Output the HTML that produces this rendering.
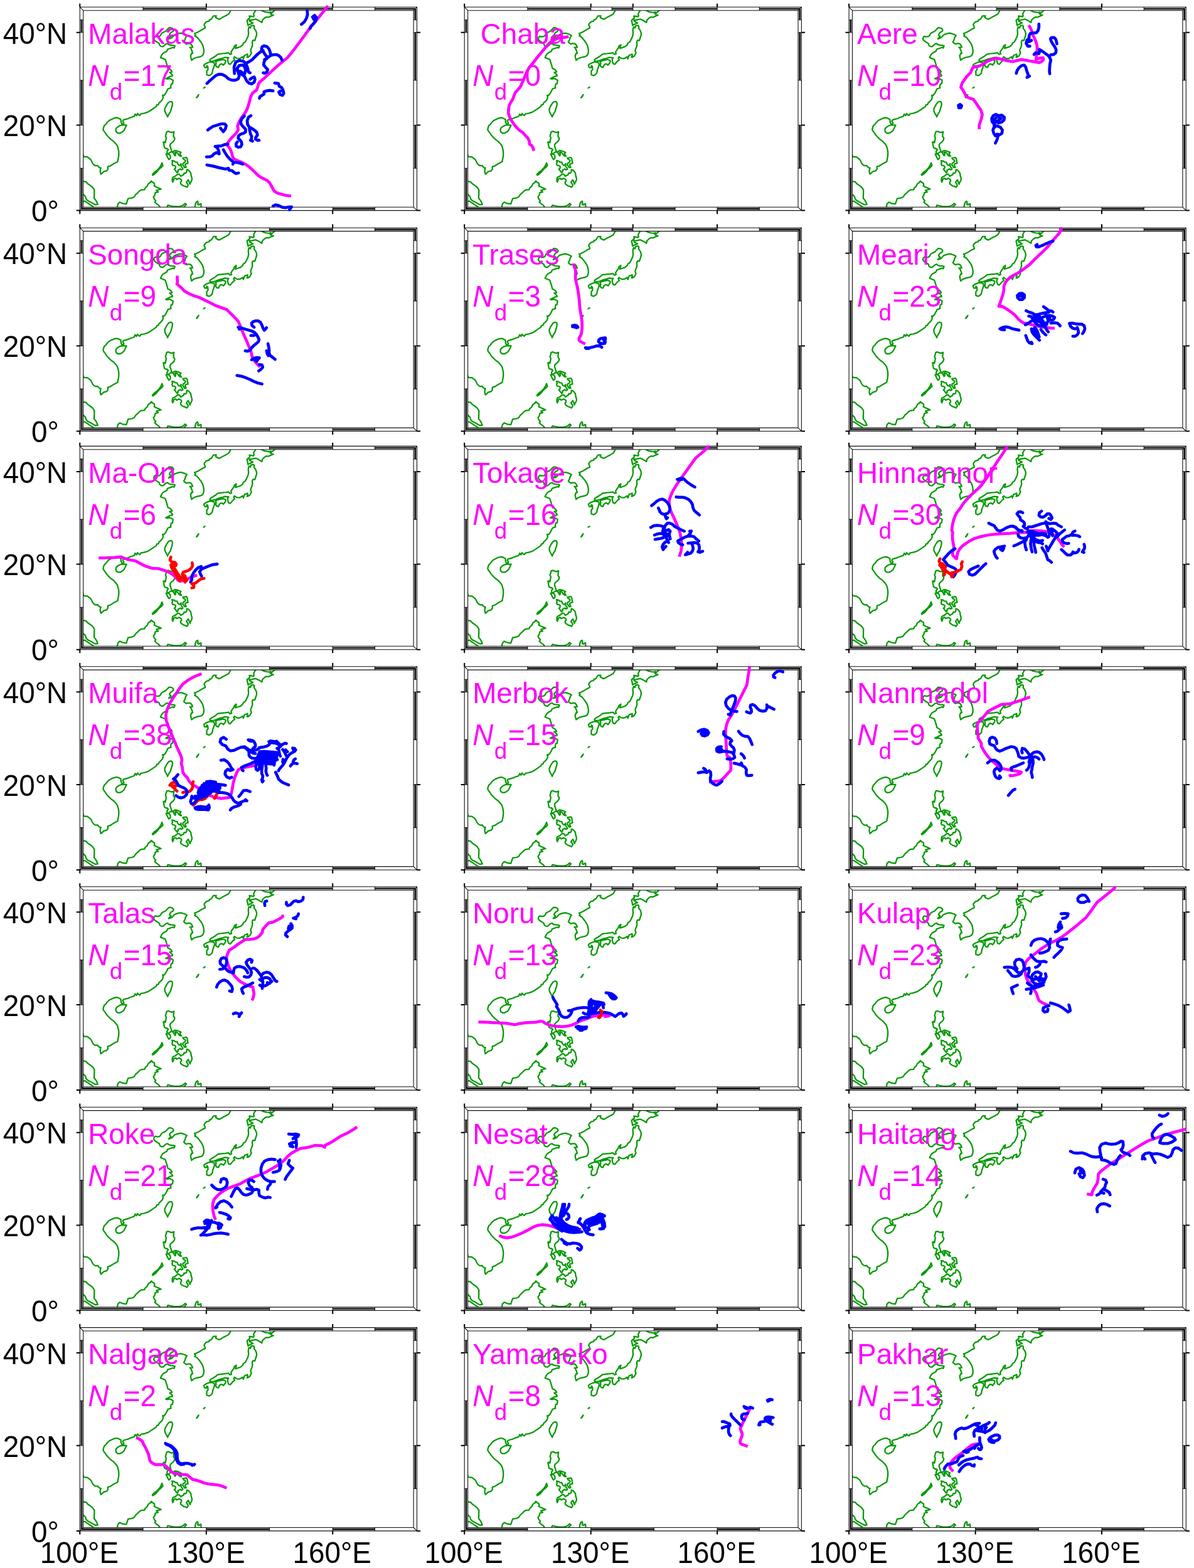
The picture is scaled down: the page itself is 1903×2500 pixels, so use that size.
<!DOCTYPE html>
<html lang="en"><head><meta charset="utf-8"><title>Typhoon tracks and drifter trajectories</title>
<style>
html,body{margin:0;padding:0;background:#fff}
body{width:1903px;height:2500px;overflow:hidden}
svg{display:block}
text{font-family:"Liberation Sans",Arial,Helvetica,sans-serif;font-size:45.8px}
.n{fill:#f0f}
.i{font-style:italic}
.s{font-size:36.7px}
.c{fill:none;stroke:#090;stroke-width:2.25;stroke-linejoin:round;stroke-linecap:round}
.m{fill:none;stroke:#f0f;stroke-width:4.7;stroke-linejoin:round;stroke-linecap:butt}
.b{fill:none;stroke:#00f;stroke-width:4.7;stroke-linejoin:round;stroke-linecap:round}
.r{fill:none;stroke:#f00;stroke-width:4.7;stroke-linejoin:round;stroke-linecap:round}
</style></head>
<body>
<svg xmlns="http://www.w3.org/2000/svg" width="1903" height="2500" viewBox="0 0 1903 2500">
<rect width="1903" height="2500" fill="#fff"/>
<g transform="translate(127.3 11.3)">
<path class="c" d="M104.8 168.7 102.3 169.3 97.3 170.2 95.6 172.7 94 172.2 91.9 169.7 90.2 173.1 88.1 170.6 86.5 174.3 81 176 77.3 177.7 73.1 178.9 69.4 179.9 68.3 181.8 70.2 184.7 69.4 186.2 66.9 186.2 65.6 183.5 65.2 178.9 63.1 178.1 61 176.8 58.1 176.4 54.8 177.1 50.6 178.9 46.5 181 43.5 183.9 41.5 186.8 39 188.9 37.7 192.2 37.1 195.4 38.5 198.1 40.6 200.6 42.3 203.5 45.6 207.2 49 210.6 54 214.3 58.1 218.9 59.8 221.4 61 225.6 61.9 229.7 62.1 234.7 61.5 239.7 60.6 243.9 60.2 246.4 54 249.7 48.1 253.5 45.2 254.1 44.4 254.7 44.8 258.1 42.7 261 38.1 262.2 33.5 266.4 32.3 262.2 32.7 258.5 33.5 256.4 31.5 256 29.4 254.3 28.5 252.7 24.8 252.9 22.3 251.4 20.2 248.9 18.5 245.2 16.9 242.7 13.5 240.2 11.9 238.9 8.1 238.9 5.6 238.1 4.8 233.9M74.4 188.2 71.5 188.1 66.5 188.2 63.1 189.3 59.8 191.4 57.7 193.5 57.3 196.8 58.1 199.3 60.6 201 64 201 67.3 199.3 70.2 196.8 71.9 193.5 73.1 191ZM4.8 277.7 9.8 278.5 12.3 281.4 16.5 284.3 20.2 287.2 23.1 291.4 23 297.2 22.7 304.7 24.8 307.2 26.9 310.6 28.5 314.7 24.8 315.2 21.5 313.5 16.5 310.6 12.3 308.5 9.8 305.6 9 302.2 4.8 298.1M4.8 309.7 8.1 309.3 10.6 311.4 13.1 312.7 15.6 314.7 18.5 316.4 21.5 318.5M59.6 318.9 60.6 313.9 63.5 311 68.1 313.1 74 313.9 76.9 305.2 83.1 304.3 86.5 302.7 89 298.9 92.3 296 95.6 292.7 98.1 291.4 103.1 291 104 288.5 107.3 285.6 109 281.8 111.9 279.7 114 277.2M138.4 198.7 141.2 198 143.7 199.2 146.6 200 148.4 199.2 150 198.7 149.4 202.7 149.2 206.2 151.2 209.1 150.5 212 148.4 214.8 145.5 217 143.9 219.1 143.7 221.6 144.7 224.5 145.5 227.3 146.6 230.2 149.1 230.5 151.2 228.7 154.1 229 157.7 230.2 161.2 231.8 159.4 233.4 160.4 235.9 161.9 237.7 159.8 237.5 157.7 235.9 156.2 233.4 154.8 232 152.8 231.2 151.6 232 152.8 233.4 152.5 236.2 151.6 237 150.2 234.5 148.7 232 146.9 230.9 144.8 231.2 143 232.3 141.9 233.4 140.2 233.7 138.9 232.3 138.9 230.5 139.8 228.7 140.9 227.3 138.9 225.4 138 225.9 136.6 225 134.8 224.1 134.1 220.5 133.4 216.2 133 215.4 134.8 214.8 136.2 216.2 136.9 212.7 137.7 208.4 136.4 205.5 137.3 202.7ZM137.3 234.5 139.8 234.1 141.9 234.8 143.7 236.2 144.4 238.7 144.1 241.2 141.9 243 140.2 240.2 138.7 237ZM130.9 248.4 132.3 252.7 129.8 255.5 126.2 258.4 121.9 263.7 119.1 266.2 116.2 268 115.5 267 118.4 263.7 122.7 260.5 126.2 257 129.1 252.7ZM164.1 240.5 166.9 240.2 169.8 239.8 171.2 242 171.6 245.5 172.3 249.1 169.1 249.8 167.7 251.2 168.7 254.1 169.4 255.5 166.9 255.9 165.5 253.4 164.1 252 164.4 249.1 166.9 247.7 168.4 245.5 167.7 243.7 165.5 243ZM146.9 244.8 150.5 245.5 151.9 247 155.2 247.3 155.9 249.8 157.7 252 159.8 252.3 161.2 249.8 161.2 252.7 161.9 254.8 163.4 256.2 164.1 258.4 161.9 259.5 160.2 258 158 259.1 156.2 260.2 156.6 262 155.2 264.1 153.4 262 151.6 259.5 150.5 258.4 152.3 257 152.7 254.1 150.5 252.7 147.7 252.3 146.9 249.8 147.7 247.7ZM170.5 259.1 172.7 259.8 175.2 262.3 176.9 264.8 177.3 268.4 178.4 272 178.7 274.8 177.7 277.7 176.2 279.8 175.5 282.3 174.4 279.8 173.7 277.3 172.7 275.5 170.9 277.7 169.8 279.5 171.6 281.6 172.7 284.1 171.6 285.9 170.5 287.3 168.4 285.9 165.5 285.2 162.7 283.4 160.9 282 160.5 279.1 161.9 277.7 161.9 275.5 160.2 274.1 158 273 156.2 274.1 154.1 274.8 153.4 273.4 151.6 273 149.8 274.1 149.1 276.6 148 279.1 147.3 277 147.3 274.1 148 271.6 149.8 270.5 152.3 269.5 154.1 267.7 155.9 266.6 157.7 266.2 159.4 267.7 160.9 269.8 162.7 268.4 165.2 267.3 166.2 264.5 168.7 264.8 170.2 263ZM112.3 279.8 114.1 277.7 116.2 279.5 118.7 280.9 119.1 283.4 118.4 285.2 122.7 287.3 126.2 288.7 129.4 290.2 125.5 291.2 121.9 292.3 123.4 293.7 124.8 294.8 120.2 295.9 119.4 299.8 117.3 302.7 118.7 306.2 120.9 308.7 119.4 310.9 121.9 313.4 125.5 315.9 128 319.1M138.9 319.1 140.2 315.9 144.8 317 149.1 317.7 154.1 318 159.1 317.7 162.7 317 165.5 315.2 167.7 313 169.8 314.5 167.7 317 165.5 319.1M183.4 319.1 184.1 314.1 185.5 310.9 187.7 309.5 188.4 312.3 187.7 314.5 189.8 315.5 191.2 314.1 193 313.7 193.2 319.1M139.5 174.5 139.9 175.1M136 83.4 137.7 88.4 139.4 94.2 140.2 97.6 143.1 98.8 145.6 100.9 146.9 103.4 143.1 104.2 145.6 106.3 147.3 108 147.7 109.7 144 110.5 140.6 112.2 136.9 114.1 139.8 114.7 143.1 113.8 146.5 115.5 148.5 116.7 147.7 122.2 145.6 122.6 144.6 127.2 145.2 128.8 142.3 129.7 140.6 130.1 138.5 134.2 136.5 138 134 140.9 131.9 140.5 132.7 144.2 131.5 147.6 128.5 150.9 126.3 152.6 125.2 155.5 122.7 155.9 121.9 158.4 116.5 162.2 111.5 165.5 108.1 167.6 104.8 168.4M144.8 150.5 146.9 151.3 147.7 154.2 146.9 158.4 145.6 162.6 144.4 166.7 141.9 170.5 140.2 174.2 139 173 137.3 170.1 135.6 166.7 135.2 162.6 136.9 158.8 139 155.1 141.5 151.7ZM197.3 129.1 199.4 127.7M186 144.4 187.7 141.7 189.4 139.7M186.9 143.8 188.5 141.7M240.6 3.5 239.8 6.5 237.3 11 233.1 13.5 228.1 16 224.8 18.1 221.9 19.4 218.1 17.7 216.5 16.5 217.3 14 213.1 14 211.5 16 209.8 19 207.7 20.2 206.5 20.2 206 22.3 201.5 23.5 198.5 26.9 198.1 28.5 199.4 31 199.8 33.5 196.5 34.8 193.1 36.9 189 39.4 185.6 41 182.7 41.9 184.4 44.4 183.1 46 187.3 48.5 190.6 52.7 193.1 56 195.6 60.2 196.9 64.4 197.7 69.4 197.3 73.5 195.6 77.3 192.3 79 186.5 80.2 181.5 81.9 178.1 84.8 176.9 80.2 176.5 76.9 178.1 74.8 177.7 74 179.8 73.5 178.5 69.4 176.5 64.8 175.2 64.4 179.8 64 178.5 61 176.5 58.5 174.8 58.1 172.3 58.1 169.8 59 167.3 57.3 165.6 55.6 167.3 52.7 168.5 48.5 170.6 45.2 167.3 43.5 164.8 42.7 161.5 41.6 158.1 41.9 154 43.1 150.6 44.4 148.5 46.9 146.5 49 144 50 141.5 50.6 144 48.1 145.2 46.5 143.1 45.2 143.1 43.1 145.6 40.2 148.1 39 149.4 36.9 147.7 34 144.8 33.1 142.3 32.9 139.8 35.2 136.5 38.7 133.1 40.2 130.2 41.9 128.5 45.2 126.5 46.9 123.1 47.3 120.2 46.5 118.5 48.1 117.7 51 119.4 53.5 123.1 56 126.5 58.1 127.3 61 129.4 62.7 132.3 63.1 134.8 61 136.9 59 139.8 58.1 141.5 59.8 144.8 60.6 149 61 151.5 61.7 150.2 65.2 148.1 64.4 146 65.2 142.3 66.5 139.8 67.3 138.5 70.6 135.6 71.9 132.3 74 130.2 76.9 128.5 80.6 133.1 82.3 136 83.4M280.5 4.6 278 8.7 276.8 11.2 277.6 13.7 276.8 15.4 273 14.6 270.1 14.2 270.9 17.1 268.4 19.2 266.4 21.2 267.2 24.6 268 29.2 270.9 27.5 273.9 26.2 275.9 25.4 273 23.7 270.5 22.5 270.1 20.4 273 20.8 276.4 20 280.5 19.2 284.7 21.2 290.1 24.6 290.9 20.8 294.3 17.5 297.2 15.8 300.5 16.2 303.9 14.6 308.4 12.9 305.5 12.1 303.4 10.4 304.3 7.9 302.2 8.7 298 8.3 293.9 7.5 288.9 5M305.5 9.6 310.9 5M269.7 31.7 271.8 33.3 273 29.6 276.8 29.2 278 30.8 277.6 33.7 280.1 37.1 281.4 40.4 281.8 43.7 280.9 47.1 279.7 50.4 278.9 53.3 275.9 52.9 274.7 55.4 275.1 60.4 273.9 64.6 272.6 67.1 272.2 70 273.4 72.9 272.2 75.4 270.5 78.3 267.6 80 266.4 80 267.6 77.1 267.2 75 264.7 76.2 262.6 76.7 261.8 78.7 260.5 82.5 259.3 79.2 256.4 81.2 253.9 82.1 250.1 81.7 248 80.4 246.4 79.2 245.1 81.2 246.8 84.2 243.9 86.2 241.4 89.2 239.7 91.2 237.2 90.4 235.9 87.1 235.5 82.9 237.2 80.8 231.4 80.2 226.4 81.7 221.4 82.9 217.2 84.6 213.9 85.8 210.5 86.2 207.6 86.2 207.2 84.2 208.9 82.5 212.6 80.4 216.4 77.9 220.1 75 226.4 74.2 232.2 73.6 236.8 72.9 239.3 75.4 241.8 74.6 240.9 71.7 243 68.3 245.5 65 246.4 62.1 249.3 60 248 65.8 251.8 64.6 256.4 62.9 259.7 60 260.5 57.5 263.4 55.8 264.7 53.7 266.4 50 268 46.7 268.9 42.1 268.4 37.1 268.9 33.7ZM216.4 87.1 219.7 85.4 223.9 84.6 228 83.7 231.4 84.6 232.6 86.2 231.4 89.2 228.9 92.5 226.8 90.8 224.3 90.8 222.2 92.9 220.9 96.2 218 95.4 216.4 92.9 217.2 90ZM207.6 87.5 210.5 87.9 213.9 88.7 214.7 92.1 213.4 96.2 211.8 100.4 210.9 105.4 208.4 107.9 205.9 109.2 202.2 107.9 202.2 102.1 204.3 99.2 203.9 94.6 202.2 93.3 202.6 96.2 198.9 96.2 197.6 92.5 200.1 90.4 203.9 88.7Z"/>
<path d="M0 0H537.2 V324.3 H0Z M5.4 5.4 V318.9 H531.8 V5.4Z" fill="#fff" fill-rule="evenodd"/><path d="M2.7 323H100.7M100.7 4.1H201.5M201.5 323H302.2M302.2 4.1H402.9M402.9 323H470.1M470.1 4.1H534.5M1.3 321.6V256.9M533.1 256.9V188.2M1.3 188.2V116.7M533.1 116.7V40.5M1.3 40.5V20.5M533.1 20.5V2.7" stroke="#8c8c8c" stroke-width="1.5" fill="none"/><path d="M2.7 321.3H100.7M100.7 2.4H201.5M201.5 321.3H302.2M302.2 2.4H402.9M402.9 321.3H470.1M470.1 2.4H534.5M3 321.6V256.9M534.8 256.9V188.2M3 188.2V116.7M534.8 116.7V40.5M3 40.5V20.5M534.8 20.5V2.7" stroke="#000" stroke-width="2.1" fill="none"/><path d="M0 0H537.2V324.3H0ZM5.4 5.4H531.8V318.9H5.4ZM0 0L5.4 5.4M537.2 0L531.8 5.4M0 324.3L5.4 318.9M537.2 324.3L531.8 318.9M100.7 0V5.4M100.7 318.9V324.3M201.5 0V5.4M201.5 318.9V324.3M302.2 0V5.4M302.2 318.9V324.3M402.9 0V5.4M402.9 318.9V324.3M470.1 0V5.4M470.1 318.9V324.3M0 256.9H5.4M531.8 256.9H537.2M0 188.2H5.4M531.8 188.2H537.2M0 116.7H5.4M531.8 116.7H537.2M0 40.5H5.4M531.8 40.5H537.2M0 20.5H5.4M531.8 20.5H537.2" stroke="#111" stroke-width="1.1" fill="none"/><path d="M0 -5.6V0M0 324.3V329.9M201.5 -5.6V0M201.5 324.3V329.9M402.9 -5.6V0M402.9 324.3V329.9M-5.6 324.3H0M537.2 324.3H542.8M-5.6 188.2H0M537.2 188.2H542.8M-5.6 40.5H0M537.2 40.5H542.8" stroke="#000" stroke-width="2" fill="none"/>
<path class="m" d="M395.4 -2 389.1 5.9 381.3 15.7 373.4 24.9 365.6 34.7 357.7 45.8 349.8 56.3 342 66.8 335.4 75.3 330.2 81.2 323.7 86.4 315.8 93 307.9 100.2 300.1 107.4 293.5 113.9 287.6 118.5 285 121.8 283.7 126.4 281.7 132.3 277.8 134.9 274.5 138.2 271.9 144.1 270 151.9 268 158.5 266 163.7M266.3 163.4 262.1 170.5 258.2 175.7 254.9 181 252.3 186.2 251.4 190.1 252.3 195.4 250.3 199.3 246.4 203.9 242.5 207.8 238.5 212.4 235.3 217 234.6 220.2 237.2 222.9 239.8 226.8 241.8 232 243.1 237.3 245.1 241.9 249 243.8 254.2 245.8 259.5 248.4 264.7 251 270 254.9 275.2 259.5 279.8 264.1 284.4 268.7 289.6 272 294.8 274.6 298.8 276.6 302 279.8 305.3 285.1 307.9 290.3 310.6 294.2 315.8 296.9 322.3 298.6 328.9 300.4 336.7 301.2"/>
<path class="b" d="M202.5 121.8 205.8 118.5 211 113.9 216.3 109.4 221.5 107.1 226.7 107.4 232 110 237.2 114.6 242.5 116.6 247.7 116.6 252.3 114.6 254 110 252.3 103.5 249.7 99.5M246.4 106.1 245.7 95.6 248.4 87.7 254.2 85.1 260.8 86.4 264.7 90.4 267.3 96.9 268.7 103.5 271.3 104.8M251.6 102.2 251 96.9 254.2 93 259.5 92.3 262.8 95.6 264.1 100.8 262.8 106.1 259.5 104.8 255.6 102.2 258.2 107.4 262.1 110M263.4 89.7 268.7 87.7 273.9 84.5 279.1 79.2 284.4 74 288.9 70.7 292.2 69.4M290.9 68.8 289.6 66.8 290.3 63.5 293.5 61.6 298.1 62.9 301.4 66.8 303.4 72 304 77.3 300.1 79.9 296.2 77.3 292.9 72 290.9 68.8M304 77.3 307.9 76 313.2 75.7 317.1 77.3 320.4 80.5 322.1 84.5M294.2 83.8 297.5 82.5 300.1 79.9M296.2 82.5 293.5 87.7 292.9 92.3 296.2 96.3 299.4 99.5 298.1 103.5 294.8 105.4 292.2 104.8M264.1 113.9 266 117.9 269.3 121.1 273.9 122.5 277.8 119.8 279.1 115.2 277.8 111.3 274.5 112.6 271.3 115.2M262.1 110 264.1 113.9M362.3 5.9 362.9 11.8 361 18.3 357.7 23.6 353.1 27.5M366.9 34.1 368.2 30.8 372.1 26.9 376 22.3 377.3 17 374.1 13.1 370.8 15.7 373.4 20.3 376.7 19.7M310.6 121.1 316.4 121.8 317.8 126.4 321.7 128.3 323.7 132.3 325 137.5 323 140.8 319.1 139.5 317.1 135.5 320.4 133.6M286.3 145.4 287 142.7 290.3 140.8 293.5 138.8 293.5 134.9 297.5 133.6 302.7 132.9 307.9 133.6M203.8 196 207.1 193.4 212.3 190.1 218.9 188.2 225.4 186.2 230.7 186.2 233.3 188.8 232 194.1 228.7 198.6 225.4 194.7 224.1 193M262.1 173.8 258.2 177.7 256.2 182.9 257.5 187.5 260.8 191.4 264.1 194.7 264.1 199.3 260.8 201.3 256.2 202.6 252.9 205.2 252.3 209.1 254.9 211.7 257.5 215 258.2 218.9 256.2 222.9 252.3 223.5 249 221.6 249 217.6 251 215M272.6 173.1 268.7 175.7 266.7 181 267.3 186.9 270 191.4 273.9 193.4 277.8 196 281.7 199.3 283.1 203.9 280.4 207.8 279.8 210.4 283.1 212.4 285.7 212.4M270 191.4 270.6 196.7 271.9 201.9 273.9 206.5 273.2 211.1 271.9 212.4 275.2 213.7M215.6 222.2 220.2 221.6 225.4 221.3 230.7 219.2 235.9 218.3M215.6 222.2 218.9 224.2 220.9 228.1 222.2 234 217.6 232 213.7 234 211 237.3 207.1 238.6 201.9 238.8M228.7 227.4 231.3 232 234.6 237.3 239.2 242.5 245.1 247.7 243.8 250.4M245.1 247.7 250.3 247.7 255.6 248.8 259.5 250.4M202.5 251.7 212.3 253.6 222.8 256.3 232 258.2 236.6 256.9 237.9 260.2 242.5 260.8 246.4 264.1 249 265.4 252.9 264.5M307.9 317.2 311.9 315.2 317.1 316.5 322.3 319.1 327.6 319.8 332.8 318.7 337.4 318.5 334.1 323"/>
<text class="n" x="13" y="58.4">Malakas</text>
<text class="n i" transform="translate(13 125.5) scale(1 1.04)">N</text><text class="n s" x="47.5" y="147.6">d</text><text class="n" transform="translate(69.5 125.5) scale(1 1.04)">=17</text>
</g>
<g transform="translate(740.2 11.3)">
<path class="c" d="M104.8 168.7 102.3 169.3 97.3 170.2 95.6 172.7 94 172.2 91.9 169.7 90.2 173.1 88.1 170.6 86.5 174.3 81 176 77.3 177.7 73.1 178.9 69.4 179.9 68.3 181.8 70.2 184.7 69.4 186.2 66.9 186.2 65.6 183.5 65.2 178.9 63.1 178.1 61 176.8 58.1 176.4 54.8 177.1 50.6 178.9 46.5 181 43.5 183.9 41.5 186.8 39 188.9 37.7 192.2 37.1 195.4 38.5 198.1 40.6 200.6 42.3 203.5 45.6 207.2 49 210.6 54 214.3 58.1 218.9 59.8 221.4 61 225.6 61.9 229.7 62.1 234.7 61.5 239.7 60.6 243.9 60.2 246.4 54 249.7 48.1 253.5 45.2 254.1 44.4 254.7 44.8 258.1 42.7 261 38.1 262.2 33.5 266.4 32.3 262.2 32.7 258.5 33.5 256.4 31.5 256 29.4 254.3 28.5 252.7 24.8 252.9 22.3 251.4 20.2 248.9 18.5 245.2 16.9 242.7 13.5 240.2 11.9 238.9 8.1 238.9 5.6 238.1 4.8 233.9M74.4 188.2 71.5 188.1 66.5 188.2 63.1 189.3 59.8 191.4 57.7 193.5 57.3 196.8 58.1 199.3 60.6 201 64 201 67.3 199.3 70.2 196.8 71.9 193.5 73.1 191ZM4.8 277.7 9.8 278.5 12.3 281.4 16.5 284.3 20.2 287.2 23.1 291.4 23 297.2 22.7 304.7 24.8 307.2 26.9 310.6 28.5 314.7 24.8 315.2 21.5 313.5 16.5 310.6 12.3 308.5 9.8 305.6 9 302.2 4.8 298.1M4.8 309.7 8.1 309.3 10.6 311.4 13.1 312.7 15.6 314.7 18.5 316.4 21.5 318.5M59.6 318.9 60.6 313.9 63.5 311 68.1 313.1 74 313.9 76.9 305.2 83.1 304.3 86.5 302.7 89 298.9 92.3 296 95.6 292.7 98.1 291.4 103.1 291 104 288.5 107.3 285.6 109 281.8 111.9 279.7 114 277.2M138.4 198.7 141.2 198 143.7 199.2 146.6 200 148.4 199.2 150 198.7 149.4 202.7 149.2 206.2 151.2 209.1 150.5 212 148.4 214.8 145.5 217 143.9 219.1 143.7 221.6 144.7 224.5 145.5 227.3 146.6 230.2 149.1 230.5 151.2 228.7 154.1 229 157.7 230.2 161.2 231.8 159.4 233.4 160.4 235.9 161.9 237.7 159.8 237.5 157.7 235.9 156.2 233.4 154.8 232 152.8 231.2 151.6 232 152.8 233.4 152.5 236.2 151.6 237 150.2 234.5 148.7 232 146.9 230.9 144.8 231.2 143 232.3 141.9 233.4 140.2 233.7 138.9 232.3 138.9 230.5 139.8 228.7 140.9 227.3 138.9 225.4 138 225.9 136.6 225 134.8 224.1 134.1 220.5 133.4 216.2 133 215.4 134.8 214.8 136.2 216.2 136.9 212.7 137.7 208.4 136.4 205.5 137.3 202.7ZM137.3 234.5 139.8 234.1 141.9 234.8 143.7 236.2 144.4 238.7 144.1 241.2 141.9 243 140.2 240.2 138.7 237ZM130.9 248.4 132.3 252.7 129.8 255.5 126.2 258.4 121.9 263.7 119.1 266.2 116.2 268 115.5 267 118.4 263.7 122.7 260.5 126.2 257 129.1 252.7ZM164.1 240.5 166.9 240.2 169.8 239.8 171.2 242 171.6 245.5 172.3 249.1 169.1 249.8 167.7 251.2 168.7 254.1 169.4 255.5 166.9 255.9 165.5 253.4 164.1 252 164.4 249.1 166.9 247.7 168.4 245.5 167.7 243.7 165.5 243ZM146.9 244.8 150.5 245.5 151.9 247 155.2 247.3 155.9 249.8 157.7 252 159.8 252.3 161.2 249.8 161.2 252.7 161.9 254.8 163.4 256.2 164.1 258.4 161.9 259.5 160.2 258 158 259.1 156.2 260.2 156.6 262 155.2 264.1 153.4 262 151.6 259.5 150.5 258.4 152.3 257 152.7 254.1 150.5 252.7 147.7 252.3 146.9 249.8 147.7 247.7ZM170.5 259.1 172.7 259.8 175.2 262.3 176.9 264.8 177.3 268.4 178.4 272 178.7 274.8 177.7 277.7 176.2 279.8 175.5 282.3 174.4 279.8 173.7 277.3 172.7 275.5 170.9 277.7 169.8 279.5 171.6 281.6 172.7 284.1 171.6 285.9 170.5 287.3 168.4 285.9 165.5 285.2 162.7 283.4 160.9 282 160.5 279.1 161.9 277.7 161.9 275.5 160.2 274.1 158 273 156.2 274.1 154.1 274.8 153.4 273.4 151.6 273 149.8 274.1 149.1 276.6 148 279.1 147.3 277 147.3 274.1 148 271.6 149.8 270.5 152.3 269.5 154.1 267.7 155.9 266.6 157.7 266.2 159.4 267.7 160.9 269.8 162.7 268.4 165.2 267.3 166.2 264.5 168.7 264.8 170.2 263ZM112.3 279.8 114.1 277.7 116.2 279.5 118.7 280.9 119.1 283.4 118.4 285.2 122.7 287.3 126.2 288.7 129.4 290.2 125.5 291.2 121.9 292.3 123.4 293.7 124.8 294.8 120.2 295.9 119.4 299.8 117.3 302.7 118.7 306.2 120.9 308.7 119.4 310.9 121.9 313.4 125.5 315.9 128 319.1M138.9 319.1 140.2 315.9 144.8 317 149.1 317.7 154.1 318 159.1 317.7 162.7 317 165.5 315.2 167.7 313 169.8 314.5 167.7 317 165.5 319.1M183.4 319.1 184.1 314.1 185.5 310.9 187.7 309.5 188.4 312.3 187.7 314.5 189.8 315.5 191.2 314.1 193 313.7 193.2 319.1M139.5 174.5 139.9 175.1M136 83.4 137.7 88.4 139.4 94.2 140.2 97.6 143.1 98.8 145.6 100.9 146.9 103.4 143.1 104.2 145.6 106.3 147.3 108 147.7 109.7 144 110.5 140.6 112.2 136.9 114.1 139.8 114.7 143.1 113.8 146.5 115.5 148.5 116.7 147.7 122.2 145.6 122.6 144.6 127.2 145.2 128.8 142.3 129.7 140.6 130.1 138.5 134.2 136.5 138 134 140.9 131.9 140.5 132.7 144.2 131.5 147.6 128.5 150.9 126.3 152.6 125.2 155.5 122.7 155.9 121.9 158.4 116.5 162.2 111.5 165.5 108.1 167.6 104.8 168.4M144.8 150.5 146.9 151.3 147.7 154.2 146.9 158.4 145.6 162.6 144.4 166.7 141.9 170.5 140.2 174.2 139 173 137.3 170.1 135.6 166.7 135.2 162.6 136.9 158.8 139 155.1 141.5 151.7ZM197.3 129.1 199.4 127.7M186 144.4 187.7 141.7 189.4 139.7M186.9 143.8 188.5 141.7M240.6 3.5 239.8 6.5 237.3 11 233.1 13.5 228.1 16 224.8 18.1 221.9 19.4 218.1 17.7 216.5 16.5 217.3 14 213.1 14 211.5 16 209.8 19 207.7 20.2 206.5 20.2 206 22.3 201.5 23.5 198.5 26.9 198.1 28.5 199.4 31 199.8 33.5 196.5 34.8 193.1 36.9 189 39.4 185.6 41 182.7 41.9 184.4 44.4 183.1 46 187.3 48.5 190.6 52.7 193.1 56 195.6 60.2 196.9 64.4 197.7 69.4 197.3 73.5 195.6 77.3 192.3 79 186.5 80.2 181.5 81.9 178.1 84.8 176.9 80.2 176.5 76.9 178.1 74.8 177.7 74 179.8 73.5 178.5 69.4 176.5 64.8 175.2 64.4 179.8 64 178.5 61 176.5 58.5 174.8 58.1 172.3 58.1 169.8 59 167.3 57.3 165.6 55.6 167.3 52.7 168.5 48.5 170.6 45.2 167.3 43.5 164.8 42.7 161.5 41.6 158.1 41.9 154 43.1 150.6 44.4 148.5 46.9 146.5 49 144 50 141.5 50.6 144 48.1 145.2 46.5 143.1 45.2 143.1 43.1 145.6 40.2 148.1 39 149.4 36.9 147.7 34 144.8 33.1 142.3 32.9 139.8 35.2 136.5 38.7 133.1 40.2 130.2 41.9 128.5 45.2 126.5 46.9 123.1 47.3 120.2 46.5 118.5 48.1 117.7 51 119.4 53.5 123.1 56 126.5 58.1 127.3 61 129.4 62.7 132.3 63.1 134.8 61 136.9 59 139.8 58.1 141.5 59.8 144.8 60.6 149 61 151.5 61.7 150.2 65.2 148.1 64.4 146 65.2 142.3 66.5 139.8 67.3 138.5 70.6 135.6 71.9 132.3 74 130.2 76.9 128.5 80.6 133.1 82.3 136 83.4M280.5 4.6 278 8.7 276.8 11.2 277.6 13.7 276.8 15.4 273 14.6 270.1 14.2 270.9 17.1 268.4 19.2 266.4 21.2 267.2 24.6 268 29.2 270.9 27.5 273.9 26.2 275.9 25.4 273 23.7 270.5 22.5 270.1 20.4 273 20.8 276.4 20 280.5 19.2 284.7 21.2 290.1 24.6 290.9 20.8 294.3 17.5 297.2 15.8 300.5 16.2 303.9 14.6 308.4 12.9 305.5 12.1 303.4 10.4 304.3 7.9 302.2 8.7 298 8.3 293.9 7.5 288.9 5M305.5 9.6 310.9 5M269.7 31.7 271.8 33.3 273 29.6 276.8 29.2 278 30.8 277.6 33.7 280.1 37.1 281.4 40.4 281.8 43.7 280.9 47.1 279.7 50.4 278.9 53.3 275.9 52.9 274.7 55.4 275.1 60.4 273.9 64.6 272.6 67.1 272.2 70 273.4 72.9 272.2 75.4 270.5 78.3 267.6 80 266.4 80 267.6 77.1 267.2 75 264.7 76.2 262.6 76.7 261.8 78.7 260.5 82.5 259.3 79.2 256.4 81.2 253.9 82.1 250.1 81.7 248 80.4 246.4 79.2 245.1 81.2 246.8 84.2 243.9 86.2 241.4 89.2 239.7 91.2 237.2 90.4 235.9 87.1 235.5 82.9 237.2 80.8 231.4 80.2 226.4 81.7 221.4 82.9 217.2 84.6 213.9 85.8 210.5 86.2 207.6 86.2 207.2 84.2 208.9 82.5 212.6 80.4 216.4 77.9 220.1 75 226.4 74.2 232.2 73.6 236.8 72.9 239.3 75.4 241.8 74.6 240.9 71.7 243 68.3 245.5 65 246.4 62.1 249.3 60 248 65.8 251.8 64.6 256.4 62.9 259.7 60 260.5 57.5 263.4 55.8 264.7 53.7 266.4 50 268 46.7 268.9 42.1 268.4 37.1 268.9 33.7ZM216.4 87.1 219.7 85.4 223.9 84.6 228 83.7 231.4 84.6 232.6 86.2 231.4 89.2 228.9 92.5 226.8 90.8 224.3 90.8 222.2 92.9 220.9 96.2 218 95.4 216.4 92.9 217.2 90ZM207.6 87.5 210.5 87.9 213.9 88.7 214.7 92.1 213.4 96.2 211.8 100.4 210.9 105.4 208.4 107.9 205.9 109.2 202.2 107.9 202.2 102.1 204.3 99.2 203.9 94.6 202.2 93.3 202.6 96.2 198.9 96.2 197.6 92.5 200.1 90.4 203.9 88.7Z"/>
<path d="M0 0H537.2 V324.3 H0Z M5.4 5.4 V318.9 H531.8 V5.4Z" fill="#fff" fill-rule="evenodd"/><path d="M2.7 323H100.7M100.7 4.1H201.5M201.5 323H235M235 4.1H268.6M268.6 323H335.8M335.8 4.1H402.9M402.9 323H470.1M470.1 4.1H534.5M1.3 321.6V256.9M533.1 256.9V188.2M1.3 188.2V116.7M533.1 116.7V40.5M1.3 40.5V20.5M533.1 20.5V2.7" stroke="#8c8c8c" stroke-width="1.5" fill="none"/><path d="M2.7 321.3H100.7M100.7 2.4H201.5M201.5 321.3H235M235 2.4H268.6M268.6 321.3H335.8M335.8 2.4H402.9M402.9 321.3H470.1M470.1 2.4H534.5M3 321.6V256.9M534.8 256.9V188.2M3 188.2V116.7M534.8 116.7V40.5M3 40.5V20.5M534.8 20.5V2.7" stroke="#000" stroke-width="2.1" fill="none"/><path d="M0 0H537.2V324.3H0ZM5.4 5.4H531.8V318.9H5.4ZM0 0L5.4 5.4M537.2 0L531.8 5.4M0 324.3L5.4 318.9M537.2 324.3L531.8 318.9M100.7 0V5.4M100.7 318.9V324.3M201.5 0V5.4M201.5 318.9V324.3M235 0V5.4M235 318.9V324.3M268.6 0V5.4M268.6 318.9V324.3M335.8 0V5.4M335.8 318.9V324.3M402.9 0V5.4M402.9 318.9V324.3M470.1 0V5.4M470.1 318.9V324.3M0 256.9H5.4M531.8 256.9H537.2M0 188.2H5.4M531.8 188.2H537.2M0 116.7H5.4M531.8 116.7H537.2M0 40.5H5.4M531.8 40.5H537.2M0 20.5H5.4M531.8 20.5H537.2" stroke="#111" stroke-width="1.1" fill="none"/><path d="M0 -5.6V0M0 324.3V329.9M201.5 -5.6V0M201.5 324.3V329.9M268.6 -5.6V0M268.6 324.3V329.9M402.9 -5.6V0M402.9 324.3V329.9M-5.6 324.3H0M537.2 324.3H542.8M-5.6 188.2H0M537.2 188.2H542.8M-5.6 40.5H0M537.2 40.5H542.8" stroke="#000" stroke-width="2" fill="none"/>
<path class="m" d="M166.1 47.4 156.9 48.5 147.8 50 139.9 53.7 134.7 58.3 129.4 64.2 122.9 72 116.3 79.9 109.8 88.4 103.3 96.3 99.3 103.5 96 111.3 92.8 119.2 89.5 126.4 84.9 132.3 81 136.2 79 141.4 77.1 146.7 73.8 151.9 71.2 157.2 70.5 162.4 69.9 168.3 71.6 174.2 74.4 180.1 78.4 186 83 191.9 87.5 196.4 92.8 199.7 96.7 204.3 100.6 208.2 103.3 213.5 103.9 218.7 107.2 220.7 109.1 223.9 110.8 229.2"/>
<text class="n" x="25.5" y="58.4">Chaba</text>
<text class="n i" transform="translate(13 125.5) scale(1 1.04)">N</text><text class="n s" x="47.5" y="147.6">d</text><text class="n" transform="translate(69.5 125.5) scale(1 1.04)">=0</text>
</g>
<g transform="translate(1353.1 11.3)">
<path class="c" d="M104.8 168.7 102.3 169.3 97.3 170.2 95.6 172.7 94 172.2 91.9 169.7 90.2 173.1 88.1 170.6 86.5 174.3 81 176 77.3 177.7 73.1 178.9 69.4 179.9 68.3 181.8 70.2 184.7 69.4 186.2 66.9 186.2 65.6 183.5 65.2 178.9 63.1 178.1 61 176.8 58.1 176.4 54.8 177.1 50.6 178.9 46.5 181 43.5 183.9 41.5 186.8 39 188.9 37.7 192.2 37.1 195.4 38.5 198.1 40.6 200.6 42.3 203.5 45.6 207.2 49 210.6 54 214.3 58.1 218.9 59.8 221.4 61 225.6 61.9 229.7 62.1 234.7 61.5 239.7 60.6 243.9 60.2 246.4 54 249.7 48.1 253.5 45.2 254.1 44.4 254.7 44.8 258.1 42.7 261 38.1 262.2 33.5 266.4 32.3 262.2 32.7 258.5 33.5 256.4 31.5 256 29.4 254.3 28.5 252.7 24.8 252.9 22.3 251.4 20.2 248.9 18.5 245.2 16.9 242.7 13.5 240.2 11.9 238.9 8.1 238.9 5.6 238.1 4.8 233.9M74.4 188.2 71.5 188.1 66.5 188.2 63.1 189.3 59.8 191.4 57.7 193.5 57.3 196.8 58.1 199.3 60.6 201 64 201 67.3 199.3 70.2 196.8 71.9 193.5 73.1 191ZM4.8 277.7 9.8 278.5 12.3 281.4 16.5 284.3 20.2 287.2 23.1 291.4 23 297.2 22.7 304.7 24.8 307.2 26.9 310.6 28.5 314.7 24.8 315.2 21.5 313.5 16.5 310.6 12.3 308.5 9.8 305.6 9 302.2 4.8 298.1M4.8 309.7 8.1 309.3 10.6 311.4 13.1 312.7 15.6 314.7 18.5 316.4 21.5 318.5M59.6 318.9 60.6 313.9 63.5 311 68.1 313.1 74 313.9 76.9 305.2 83.1 304.3 86.5 302.7 89 298.9 92.3 296 95.6 292.7 98.1 291.4 103.1 291 104 288.5 107.3 285.6 109 281.8 111.9 279.7 114 277.2M138.4 198.7 141.2 198 143.7 199.2 146.6 200 148.4 199.2 150 198.7 149.4 202.7 149.2 206.2 151.2 209.1 150.5 212 148.4 214.8 145.5 217 143.9 219.1 143.7 221.6 144.7 224.5 145.5 227.3 146.6 230.2 149.1 230.5 151.2 228.7 154.1 229 157.7 230.2 161.2 231.8 159.4 233.4 160.4 235.9 161.9 237.7 159.8 237.5 157.7 235.9 156.2 233.4 154.8 232 152.8 231.2 151.6 232 152.8 233.4 152.5 236.2 151.6 237 150.2 234.5 148.7 232 146.9 230.9 144.8 231.2 143 232.3 141.9 233.4 140.2 233.7 138.9 232.3 138.9 230.5 139.8 228.7 140.9 227.3 138.9 225.4 138 225.9 136.6 225 134.8 224.1 134.1 220.5 133.4 216.2 133 215.4 134.8 214.8 136.2 216.2 136.9 212.7 137.7 208.4 136.4 205.5 137.3 202.7ZM137.3 234.5 139.8 234.1 141.9 234.8 143.7 236.2 144.4 238.7 144.1 241.2 141.9 243 140.2 240.2 138.7 237ZM130.9 248.4 132.3 252.7 129.8 255.5 126.2 258.4 121.9 263.7 119.1 266.2 116.2 268 115.5 267 118.4 263.7 122.7 260.5 126.2 257 129.1 252.7ZM164.1 240.5 166.9 240.2 169.8 239.8 171.2 242 171.6 245.5 172.3 249.1 169.1 249.8 167.7 251.2 168.7 254.1 169.4 255.5 166.9 255.9 165.5 253.4 164.1 252 164.4 249.1 166.9 247.7 168.4 245.5 167.7 243.7 165.5 243ZM146.9 244.8 150.5 245.5 151.9 247 155.2 247.3 155.9 249.8 157.7 252 159.8 252.3 161.2 249.8 161.2 252.7 161.9 254.8 163.4 256.2 164.1 258.4 161.9 259.5 160.2 258 158 259.1 156.2 260.2 156.6 262 155.2 264.1 153.4 262 151.6 259.5 150.5 258.4 152.3 257 152.7 254.1 150.5 252.7 147.7 252.3 146.9 249.8 147.7 247.7ZM170.5 259.1 172.7 259.8 175.2 262.3 176.9 264.8 177.3 268.4 178.4 272 178.7 274.8 177.7 277.7 176.2 279.8 175.5 282.3 174.4 279.8 173.7 277.3 172.7 275.5 170.9 277.7 169.8 279.5 171.6 281.6 172.7 284.1 171.6 285.9 170.5 287.3 168.4 285.9 165.5 285.2 162.7 283.4 160.9 282 160.5 279.1 161.9 277.7 161.9 275.5 160.2 274.1 158 273 156.2 274.1 154.1 274.8 153.4 273.4 151.6 273 149.8 274.1 149.1 276.6 148 279.1 147.3 277 147.3 274.1 148 271.6 149.8 270.5 152.3 269.5 154.1 267.7 155.9 266.6 157.7 266.2 159.4 267.7 160.9 269.8 162.7 268.4 165.2 267.3 166.2 264.5 168.7 264.8 170.2 263ZM112.3 279.8 114.1 277.7 116.2 279.5 118.7 280.9 119.1 283.4 118.4 285.2 122.7 287.3 126.2 288.7 129.4 290.2 125.5 291.2 121.9 292.3 123.4 293.7 124.8 294.8 120.2 295.9 119.4 299.8 117.3 302.7 118.7 306.2 120.9 308.7 119.4 310.9 121.9 313.4 125.5 315.9 128 319.1M138.9 319.1 140.2 315.9 144.8 317 149.1 317.7 154.1 318 159.1 317.7 162.7 317 165.5 315.2 167.7 313 169.8 314.5 167.7 317 165.5 319.1M183.4 319.1 184.1 314.1 185.5 310.9 187.7 309.5 188.4 312.3 187.7 314.5 189.8 315.5 191.2 314.1 193 313.7 193.2 319.1M139.5 174.5 139.9 175.1M136 83.4 137.7 88.4 139.4 94.2 140.2 97.6 143.1 98.8 145.6 100.9 146.9 103.4 143.1 104.2 145.6 106.3 147.3 108 147.7 109.7 144 110.5 140.6 112.2 136.9 114.1 139.8 114.7 143.1 113.8 146.5 115.5 148.5 116.7 147.7 122.2 145.6 122.6 144.6 127.2 145.2 128.8 142.3 129.7 140.6 130.1 138.5 134.2 136.5 138 134 140.9 131.9 140.5 132.7 144.2 131.5 147.6 128.5 150.9 126.3 152.6 125.2 155.5 122.7 155.9 121.9 158.4 116.5 162.2 111.5 165.5 108.1 167.6 104.8 168.4M144.8 150.5 146.9 151.3 147.7 154.2 146.9 158.4 145.6 162.6 144.4 166.7 141.9 170.5 140.2 174.2 139 173 137.3 170.1 135.6 166.7 135.2 162.6 136.9 158.8 139 155.1 141.5 151.7ZM197.3 129.1 199.4 127.7M186 144.4 187.7 141.7 189.4 139.7M186.9 143.8 188.5 141.7M240.6 3.5 239.8 6.5 237.3 11 233.1 13.5 228.1 16 224.8 18.1 221.9 19.4 218.1 17.7 216.5 16.5 217.3 14 213.1 14 211.5 16 209.8 19 207.7 20.2 206.5 20.2 206 22.3 201.5 23.5 198.5 26.9 198.1 28.5 199.4 31 199.8 33.5 196.5 34.8 193.1 36.9 189 39.4 185.6 41 182.7 41.9 184.4 44.4 183.1 46 187.3 48.5 190.6 52.7 193.1 56 195.6 60.2 196.9 64.4 197.7 69.4 197.3 73.5 195.6 77.3 192.3 79 186.5 80.2 181.5 81.9 178.1 84.8 176.9 80.2 176.5 76.9 178.1 74.8 177.7 74 179.8 73.5 178.5 69.4 176.5 64.8 175.2 64.4 179.8 64 178.5 61 176.5 58.5 174.8 58.1 172.3 58.1 169.8 59 167.3 57.3 165.6 55.6 167.3 52.7 168.5 48.5 170.6 45.2 167.3 43.5 164.8 42.7 161.5 41.6 158.1 41.9 154 43.1 150.6 44.4 148.5 46.9 146.5 49 144 50 141.5 50.6 144 48.1 145.2 46.5 143.1 45.2 143.1 43.1 145.6 40.2 148.1 39 149.4 36.9 147.7 34 144.8 33.1 142.3 32.9 139.8 35.2 136.5 38.7 133.1 40.2 130.2 41.9 128.5 45.2 126.5 46.9 123.1 47.3 120.2 46.5 118.5 48.1 117.7 51 119.4 53.5 123.1 56 126.5 58.1 127.3 61 129.4 62.7 132.3 63.1 134.8 61 136.9 59 139.8 58.1 141.5 59.8 144.8 60.6 149 61 151.5 61.7 150.2 65.2 148.1 64.4 146 65.2 142.3 66.5 139.8 67.3 138.5 70.6 135.6 71.9 132.3 74 130.2 76.9 128.5 80.6 133.1 82.3 136 83.4M280.5 4.6 278 8.7 276.8 11.2 277.6 13.7 276.8 15.4 273 14.6 270.1 14.2 270.9 17.1 268.4 19.2 266.4 21.2 267.2 24.6 268 29.2 270.9 27.5 273.9 26.2 275.9 25.4 273 23.7 270.5 22.5 270.1 20.4 273 20.8 276.4 20 280.5 19.2 284.7 21.2 290.1 24.6 290.9 20.8 294.3 17.5 297.2 15.8 300.5 16.2 303.9 14.6 308.4 12.9 305.5 12.1 303.4 10.4 304.3 7.9 302.2 8.7 298 8.3 293.9 7.5 288.9 5M305.5 9.6 310.9 5M269.7 31.7 271.8 33.3 273 29.6 276.8 29.2 278 30.8 277.6 33.7 280.1 37.1 281.4 40.4 281.8 43.7 280.9 47.1 279.7 50.4 278.9 53.3 275.9 52.9 274.7 55.4 275.1 60.4 273.9 64.6 272.6 67.1 272.2 70 273.4 72.9 272.2 75.4 270.5 78.3 267.6 80 266.4 80 267.6 77.1 267.2 75 264.7 76.2 262.6 76.7 261.8 78.7 260.5 82.5 259.3 79.2 256.4 81.2 253.9 82.1 250.1 81.7 248 80.4 246.4 79.2 245.1 81.2 246.8 84.2 243.9 86.2 241.4 89.2 239.7 91.2 237.2 90.4 235.9 87.1 235.5 82.9 237.2 80.8 231.4 80.2 226.4 81.7 221.4 82.9 217.2 84.6 213.9 85.8 210.5 86.2 207.6 86.2 207.2 84.2 208.9 82.5 212.6 80.4 216.4 77.9 220.1 75 226.4 74.2 232.2 73.6 236.8 72.9 239.3 75.4 241.8 74.6 240.9 71.7 243 68.3 245.5 65 246.4 62.1 249.3 60 248 65.8 251.8 64.6 256.4 62.9 259.7 60 260.5 57.5 263.4 55.8 264.7 53.7 266.4 50 268 46.7 268.9 42.1 268.4 37.1 268.9 33.7ZM216.4 87.1 219.7 85.4 223.9 84.6 228 83.7 231.4 84.6 232.6 86.2 231.4 89.2 228.9 92.5 226.8 90.8 224.3 90.8 222.2 92.9 220.9 96.2 218 95.4 216.4 92.9 217.2 90ZM207.6 87.5 210.5 87.9 213.9 88.7 214.7 92.1 213.4 96.2 211.8 100.4 210.9 105.4 208.4 107.9 205.9 109.2 202.2 107.9 202.2 102.1 204.3 99.2 203.9 94.6 202.2 93.3 202.6 96.2 198.9 96.2 197.6 92.5 200.1 90.4 203.9 88.7Z"/>
<path d="M0 0H537.2 V324.3 H0Z M5.4 5.4 V318.9 H531.8 V5.4Z" fill="#fff" fill-rule="evenodd"/><path d="M2.7 323H100.7M100.7 4.1H201.5M201.5 323H235M235 4.1H268.6M268.6 323H335.8M335.8 4.1H402.9M402.9 323H470.1M470.1 4.1H534.5M1.3 321.6V256.9M533.1 256.9V188.2M1.3 188.2V116.7M533.1 116.7V40.5M1.3 40.5V20.5M533.1 20.5V2.7" stroke="#8c8c8c" stroke-width="1.5" fill="none"/><path d="M2.7 321.3H100.7M100.7 2.4H201.5M201.5 321.3H235M235 2.4H268.6M268.6 321.3H335.8M335.8 2.4H402.9M402.9 321.3H470.1M470.1 2.4H534.5M3 321.6V256.9M534.8 256.9V188.2M3 188.2V116.7M534.8 116.7V40.5M3 40.5V20.5M534.8 20.5V2.7" stroke="#000" stroke-width="2.1" fill="none"/><path d="M0 0H537.2V324.3H0ZM5.4 5.4H531.8V318.9H5.4ZM0 0L5.4 5.4M537.2 0L531.8 5.4M0 324.3L5.4 318.9M537.2 324.3L531.8 318.9M100.7 0V5.4M100.7 318.9V324.3M201.5 0V5.4M201.5 318.9V324.3M235 0V5.4M235 318.9V324.3M268.6 0V5.4M268.6 318.9V324.3M335.8 0V5.4M335.8 318.9V324.3M402.9 0V5.4M402.9 318.9V324.3M470.1 0V5.4M470.1 318.9V324.3M0 256.9H5.4M531.8 256.9H537.2M0 188.2H5.4M531.8 188.2H537.2M0 116.7H5.4M531.8 116.7H537.2M0 40.5H5.4M531.8 40.5H537.2M0 20.5H5.4M531.8 20.5H537.2" stroke="#111" stroke-width="1.1" fill="none"/><path d="M0 -5.6V0M0 324.3V329.9M201.5 -5.6V0M201.5 324.3V329.9M268.6 -5.6V0M268.6 324.3V329.9M402.9 -5.6V0M402.9 324.3V329.9M-5.6 324.3H0M537.2 324.3H542.8M-5.6 188.2H0M537.2 188.2H542.8M-5.6 40.5H0M537.2 40.5H542.8" stroke="#000" stroke-width="2" fill="none"/>
<path class="m" d="M286.4 29 289 32.9 290.9 36.9 292.3 42.7 294.9 48 297.5 53.9 299.5 60.4 300.1 66.3 299.5 71.6 298.8 78.1 298.2 83.3 304 81.4 309.3 80.7 309.9 84 307.3 86.6 303.4 88.6 296.2 87.3 288.3 86 281.8 84.7 274.6 83.6 267.4 85.3 260.2 87 251.7 85.3 243.8 83.3 235.3 81.4 228.1 83.3 221.5 86 215 89.9 208.4 93.8 203.2 94.9 198.6 95.1 196 99.1 194 104.3 188.8 109.5 184.2 115.4 180.3 121.3 178.3 127.9 181.6 132.4 184.9 138.3 186.8 142.9 191.4 144.9 198 146.9 201.9 152.1 205.8 158 210.4 164.5 212.4 171.7 211.1 177.6 209.1 183.5 207.4 189.4 207.8 194.7"/>
<path class="b" d="M302.7 27 302.7 32.3 301.4 37.5 298.8 40.8 293.6 41.2 289 42.1 287 46 287 50 283.7 52.6 282.4 57.8 285.1 62.4 288.3 62.4M286.4 55.2 290.9 53.2M331.5 58.5 329.6 51.3 327 48.6 323 48.6 321.1 50.6 322.4 54.5 325 59.1 328.3 63.7 330.2 68.3 329.6 72.9 326.3 75.5 321.7 76.1M294.9 75.5 297.5 72.9 302.7 74.2 304 70.2 303.4 67.6 308 70.2 313.2 74.2 317.1 76.8 319.8 80.1 321.7 84.7 320.4 89.9 319.8 96.4 319.5 101.7 320 106.3M266.7 105.6 268 101 271.3 96.4 275.2 93.2 279.2 92.5 281.8 95.8 283.1 101 285.1 106.3 285.7 110.8 283.7 112.2 287.7 110.2M174.4 156.7 177 155.1 179.6 157.3 178.3 160.6 175.1 160.6 174.4 156.7 177 158M233.3 216.9 235.9 211.7 237.3 206.4 233.3 205.1 230.7 201.2 229.4 196 231.4 190.7 235.9 189.4 241.2 191.4 244.5 196 243.8 201.2 239.9 203.8 235.9 202.5M232 186.8 228.1 182.9 227.4 177.6 230.1 173 234 171.1 238.6 173 239.9 177.6 237.3 182.2 233.3 184.2 232 178.9 234.6 176.3M238.6 173 243.8 172.4 247.7 175.7 247.1 180.2 243.2 183.5 238.6 184.8 234.6 182.9 242.5 177.6M230.7 185.5 232 192"/>
<text class="n" x="13" y="58.4">Aere</text>
<text class="n i" transform="translate(13 125.5) scale(1 1.04)">N</text><text class="n s" x="47.5" y="147.6">d</text><text class="n" transform="translate(69.5 125.5) scale(1 1.04)">=10</text>
</g>
<g transform="translate(127.3 363.2)">
<path class="c" d="M104.8 168.7 102.3 169.3 97.3 170.2 95.6 172.7 94 172.2 91.9 169.7 90.2 173.1 88.1 170.6 86.5 174.3 81 176 77.3 177.7 73.1 178.9 69.4 179.9 68.3 181.8 70.2 184.7 69.4 186.2 66.9 186.2 65.6 183.5 65.2 178.9 63.1 178.1 61 176.8 58.1 176.4 54.8 177.1 50.6 178.9 46.5 181 43.5 183.9 41.5 186.8 39 188.9 37.7 192.2 37.1 195.4 38.5 198.1 40.6 200.6 42.3 203.5 45.6 207.2 49 210.6 54 214.3 58.1 218.9 59.8 221.4 61 225.6 61.9 229.7 62.1 234.7 61.5 239.7 60.6 243.9 60.2 246.4 54 249.7 48.1 253.5 45.2 254.1 44.4 254.7 44.8 258.1 42.7 261 38.1 262.2 33.5 266.4 32.3 262.2 32.7 258.5 33.5 256.4 31.5 256 29.4 254.3 28.5 252.7 24.8 252.9 22.3 251.4 20.2 248.9 18.5 245.2 16.9 242.7 13.5 240.2 11.9 238.9 8.1 238.9 5.6 238.1 4.8 233.9M74.4 188.2 71.5 188.1 66.5 188.2 63.1 189.3 59.8 191.4 57.7 193.5 57.3 196.8 58.1 199.3 60.6 201 64 201 67.3 199.3 70.2 196.8 71.9 193.5 73.1 191ZM4.8 277.7 9.8 278.5 12.3 281.4 16.5 284.3 20.2 287.2 23.1 291.4 23 297.2 22.7 304.7 24.8 307.2 26.9 310.6 28.5 314.7 24.8 315.2 21.5 313.5 16.5 310.6 12.3 308.5 9.8 305.6 9 302.2 4.8 298.1M4.8 309.7 8.1 309.3 10.6 311.4 13.1 312.7 15.6 314.7 18.5 316.4 21.5 318.5M59.6 318.9 60.6 313.9 63.5 311 68.1 313.1 74 313.9 76.9 305.2 83.1 304.3 86.5 302.7 89 298.9 92.3 296 95.6 292.7 98.1 291.4 103.1 291 104 288.5 107.3 285.6 109 281.8 111.9 279.7 114 277.2M138.4 198.7 141.2 198 143.7 199.2 146.6 200 148.4 199.2 150 198.7 149.4 202.7 149.2 206.2 151.2 209.1 150.5 212 148.4 214.8 145.5 217 143.9 219.1 143.7 221.6 144.7 224.5 145.5 227.3 146.6 230.2 149.1 230.5 151.2 228.7 154.1 229 157.7 230.2 161.2 231.8 159.4 233.4 160.4 235.9 161.9 237.7 159.8 237.5 157.7 235.9 156.2 233.4 154.8 232 152.8 231.2 151.6 232 152.8 233.4 152.5 236.2 151.6 237 150.2 234.5 148.7 232 146.9 230.9 144.8 231.2 143 232.3 141.9 233.4 140.2 233.7 138.9 232.3 138.9 230.5 139.8 228.7 140.9 227.3 138.9 225.4 138 225.9 136.6 225 134.8 224.1 134.1 220.5 133.4 216.2 133 215.4 134.8 214.8 136.2 216.2 136.9 212.7 137.7 208.4 136.4 205.5 137.3 202.7ZM137.3 234.5 139.8 234.1 141.9 234.8 143.7 236.2 144.4 238.7 144.1 241.2 141.9 243 140.2 240.2 138.7 237ZM130.9 248.4 132.3 252.7 129.8 255.5 126.2 258.4 121.9 263.7 119.1 266.2 116.2 268 115.5 267 118.4 263.7 122.7 260.5 126.2 257 129.1 252.7ZM164.1 240.5 166.9 240.2 169.8 239.8 171.2 242 171.6 245.5 172.3 249.1 169.1 249.8 167.7 251.2 168.7 254.1 169.4 255.5 166.9 255.9 165.5 253.4 164.1 252 164.4 249.1 166.9 247.7 168.4 245.5 167.7 243.7 165.5 243ZM146.9 244.8 150.5 245.5 151.9 247 155.2 247.3 155.9 249.8 157.7 252 159.8 252.3 161.2 249.8 161.2 252.7 161.9 254.8 163.4 256.2 164.1 258.4 161.9 259.5 160.2 258 158 259.1 156.2 260.2 156.6 262 155.2 264.1 153.4 262 151.6 259.5 150.5 258.4 152.3 257 152.7 254.1 150.5 252.7 147.7 252.3 146.9 249.8 147.7 247.7ZM170.5 259.1 172.7 259.8 175.2 262.3 176.9 264.8 177.3 268.4 178.4 272 178.7 274.8 177.7 277.7 176.2 279.8 175.5 282.3 174.4 279.8 173.7 277.3 172.7 275.5 170.9 277.7 169.8 279.5 171.6 281.6 172.7 284.1 171.6 285.9 170.5 287.3 168.4 285.9 165.5 285.2 162.7 283.4 160.9 282 160.5 279.1 161.9 277.7 161.9 275.5 160.2 274.1 158 273 156.2 274.1 154.1 274.8 153.4 273.4 151.6 273 149.8 274.1 149.1 276.6 148 279.1 147.3 277 147.3 274.1 148 271.6 149.8 270.5 152.3 269.5 154.1 267.7 155.9 266.6 157.7 266.2 159.4 267.7 160.9 269.8 162.7 268.4 165.2 267.3 166.2 264.5 168.7 264.8 170.2 263ZM112.3 279.8 114.1 277.7 116.2 279.5 118.7 280.9 119.1 283.4 118.4 285.2 122.7 287.3 126.2 288.7 129.4 290.2 125.5 291.2 121.9 292.3 123.4 293.7 124.8 294.8 120.2 295.9 119.4 299.8 117.3 302.7 118.7 306.2 120.9 308.7 119.4 310.9 121.9 313.4 125.5 315.9 128 319.1M138.9 319.1 140.2 315.9 144.8 317 149.1 317.7 154.1 318 159.1 317.7 162.7 317 165.5 315.2 167.7 313 169.8 314.5 167.7 317 165.5 319.1M183.4 319.1 184.1 314.1 185.5 310.9 187.7 309.5 188.4 312.3 187.7 314.5 189.8 315.5 191.2 314.1 193 313.7 193.2 319.1M139.5 174.5 139.9 175.1M136 83.4 137.7 88.4 139.4 94.2 140.2 97.6 143.1 98.8 145.6 100.9 146.9 103.4 143.1 104.2 145.6 106.3 147.3 108 147.7 109.7 144 110.5 140.6 112.2 136.9 114.1 139.8 114.7 143.1 113.8 146.5 115.5 148.5 116.7 147.7 122.2 145.6 122.6 144.6 127.2 145.2 128.8 142.3 129.7 140.6 130.1 138.5 134.2 136.5 138 134 140.9 131.9 140.5 132.7 144.2 131.5 147.6 128.5 150.9 126.3 152.6 125.2 155.5 122.7 155.9 121.9 158.4 116.5 162.2 111.5 165.5 108.1 167.6 104.8 168.4M144.8 150.5 146.9 151.3 147.7 154.2 146.9 158.4 145.6 162.6 144.4 166.7 141.9 170.5 140.2 174.2 139 173 137.3 170.1 135.6 166.7 135.2 162.6 136.9 158.8 139 155.1 141.5 151.7ZM197.3 129.1 199.4 127.7M186 144.4 187.7 141.7 189.4 139.7M186.9 143.8 188.5 141.7M240.6 3.5 239.8 6.5 237.3 11 233.1 13.5 228.1 16 224.8 18.1 221.9 19.4 218.1 17.7 216.5 16.5 217.3 14 213.1 14 211.5 16 209.8 19 207.7 20.2 206.5 20.2 206 22.3 201.5 23.5 198.5 26.9 198.1 28.5 199.4 31 199.8 33.5 196.5 34.8 193.1 36.9 189 39.4 185.6 41 182.7 41.9 184.4 44.4 183.1 46 187.3 48.5 190.6 52.7 193.1 56 195.6 60.2 196.9 64.4 197.7 69.4 197.3 73.5 195.6 77.3 192.3 79 186.5 80.2 181.5 81.9 178.1 84.8 176.9 80.2 176.5 76.9 178.1 74.8 177.7 74 179.8 73.5 178.5 69.4 176.5 64.8 175.2 64.4 179.8 64 178.5 61 176.5 58.5 174.8 58.1 172.3 58.1 169.8 59 167.3 57.3 165.6 55.6 167.3 52.7 168.5 48.5 170.6 45.2 167.3 43.5 164.8 42.7 161.5 41.6 158.1 41.9 154 43.1 150.6 44.4 148.5 46.9 146.5 49 144 50 141.5 50.6 144 48.1 145.2 46.5 143.1 45.2 143.1 43.1 145.6 40.2 148.1 39 149.4 36.9 147.7 34 144.8 33.1 142.3 32.9 139.8 35.2 136.5 38.7 133.1 40.2 130.2 41.9 128.5 45.2 126.5 46.9 123.1 47.3 120.2 46.5 118.5 48.1 117.7 51 119.4 53.5 123.1 56 126.5 58.1 127.3 61 129.4 62.7 132.3 63.1 134.8 61 136.9 59 139.8 58.1 141.5 59.8 144.8 60.6 149 61 151.5 61.7 150.2 65.2 148.1 64.4 146 65.2 142.3 66.5 139.8 67.3 138.5 70.6 135.6 71.9 132.3 74 130.2 76.9 128.5 80.6 133.1 82.3 136 83.4M280.5 4.6 278 8.7 276.8 11.2 277.6 13.7 276.8 15.4 273 14.6 270.1 14.2 270.9 17.1 268.4 19.2 266.4 21.2 267.2 24.6 268 29.2 270.9 27.5 273.9 26.2 275.9 25.4 273 23.7 270.5 22.5 270.1 20.4 273 20.8 276.4 20 280.5 19.2 284.7 21.2 290.1 24.6 290.9 20.8 294.3 17.5 297.2 15.8 300.5 16.2 303.9 14.6 308.4 12.9 305.5 12.1 303.4 10.4 304.3 7.9 302.2 8.7 298 8.3 293.9 7.5 288.9 5M305.5 9.6 310.9 5M269.7 31.7 271.8 33.3 273 29.6 276.8 29.2 278 30.8 277.6 33.7 280.1 37.1 281.4 40.4 281.8 43.7 280.9 47.1 279.7 50.4 278.9 53.3 275.9 52.9 274.7 55.4 275.1 60.4 273.9 64.6 272.6 67.1 272.2 70 273.4 72.9 272.2 75.4 270.5 78.3 267.6 80 266.4 80 267.6 77.1 267.2 75 264.7 76.2 262.6 76.7 261.8 78.7 260.5 82.5 259.3 79.2 256.4 81.2 253.9 82.1 250.1 81.7 248 80.4 246.4 79.2 245.1 81.2 246.8 84.2 243.9 86.2 241.4 89.2 239.7 91.2 237.2 90.4 235.9 87.1 235.5 82.9 237.2 80.8 231.4 80.2 226.4 81.7 221.4 82.9 217.2 84.6 213.9 85.8 210.5 86.2 207.6 86.2 207.2 84.2 208.9 82.5 212.6 80.4 216.4 77.9 220.1 75 226.4 74.2 232.2 73.6 236.8 72.9 239.3 75.4 241.8 74.6 240.9 71.7 243 68.3 245.5 65 246.4 62.1 249.3 60 248 65.8 251.8 64.6 256.4 62.9 259.7 60 260.5 57.5 263.4 55.8 264.7 53.7 266.4 50 268 46.7 268.9 42.1 268.4 37.1 268.9 33.7ZM216.4 87.1 219.7 85.4 223.9 84.6 228 83.7 231.4 84.6 232.6 86.2 231.4 89.2 228.9 92.5 226.8 90.8 224.3 90.8 222.2 92.9 220.9 96.2 218 95.4 216.4 92.9 217.2 90ZM207.6 87.5 210.5 87.9 213.9 88.7 214.7 92.1 213.4 96.2 211.8 100.4 210.9 105.4 208.4 107.9 205.9 109.2 202.2 107.9 202.2 102.1 204.3 99.2 203.9 94.6 202.2 93.3 202.6 96.2 198.9 96.2 197.6 92.5 200.1 90.4 203.9 88.7Z"/>
<path d="M0 0H537.2 V324.3 H0Z M5.4 5.4 V318.9 H531.8 V5.4Z" fill="#fff" fill-rule="evenodd"/><path d="M2.7 323H100.7M100.7 4.1H201.5M201.5 323H302.2M302.2 4.1H402.9M402.9 323H470.1M470.1 4.1H534.5M1.3 321.6V256.9M533.1 256.9V188.2M1.3 188.2V116.7M533.1 116.7V40.5M1.3 40.5V20.5M533.1 20.5V2.7" stroke="#8c8c8c" stroke-width="1.5" fill="none"/><path d="M2.7 321.3H100.7M100.7 2.4H201.5M201.5 321.3H302.2M302.2 2.4H402.9M402.9 321.3H470.1M470.1 2.4H534.5M3 321.6V256.9M534.8 256.9V188.2M3 188.2V116.7M534.8 116.7V40.5M3 40.5V20.5M534.8 20.5V2.7" stroke="#000" stroke-width="2.1" fill="none"/><path d="M0 0H537.2V324.3H0ZM5.4 5.4H531.8V318.9H5.4ZM0 0L5.4 5.4M537.2 0L531.8 5.4M0 324.3L5.4 318.9M537.2 324.3L531.8 318.9M100.7 0V5.4M100.7 318.9V324.3M201.5 0V5.4M201.5 318.9V324.3M302.2 0V5.4M302.2 318.9V324.3M402.9 0V5.4M402.9 318.9V324.3M470.1 0V5.4M470.1 318.9V324.3M0 256.9H5.4M531.8 256.9H537.2M0 188.2H5.4M531.8 188.2H537.2M0 116.7H5.4M531.8 116.7H537.2M0 40.5H5.4M531.8 40.5H537.2M0 20.5H5.4M531.8 20.5H537.2" stroke="#111" stroke-width="1.1" fill="none"/><path d="M0 -5.6V0M0 324.3V329.9M201.5 -5.6V0M201.5 324.3V329.9M402.9 -5.6V0M402.9 324.3V329.9M-5.6 324.3H0M537.2 324.3H542.8M-5.6 188.2H0M537.2 188.2H542.8M-5.6 40.5H0M537.2 40.5H542.8" stroke="#000" stroke-width="2" fill="none"/>
<path class="m" d="M155.2 76.4 155.2 81.8 155.6 86.6 154.6 89.5 158.2 92.5 162.3 96.1 166.5 100.8 172.5 104.4 180.8 108 190.3 111 198.7 115.1 207 119.3 215.3 123.5 224.8 127 234.4 130.6 239.1 135.4 243.9 140.1 248.7 144.9 252.8 149.7 255.2 155.6 257.6 161.6 260 167.5 262.9 174.1 265.9 180.6 268.3 186.6 270.7 192.5 273.1 198.5 274.2 204.4 276 209.2 279.6 213.9 283.2 218.1 287.3 221.7"/>
<path class="b" d="M277.8 158.6 274.2 155.6 273.7 152 276 149.7 279.6 148.5 284.4 148.5 287.9 150.8 290.3 155.6 292.1 160.4 293.9 163.3 296.3 161 297.5 159.2M252.2 158.6 255.8 159.2 261.7 161 267.7 162.8 273.7 164.5 278.4 166.9 281.4 169.9 277.2 171.7 272.5 171.7M254 161.6 257 160.4M281.4 169.9 283.8 174.1 285.6 178.2 284.4 181.8 280.8 184.8 277.2 187.8 273.7 191.3 271.3 194.9 267.7 196.7 263.5 196.1M299.8 184.8 301 190.1 301.6 194.9 301.6 199.7 303.4 203.8 307.6 206.8 311.2 209.8M297.5 196.1 298.7 200.8 300.4 203.8M273.7 210.4 277.2 208 282 206.8 286.2 207.4 283.2 210.4 282 212.8 278.4 210.4M285 228.2 288.5 225.8 291.5 222.3 290.3 218.7 286.2 218.1M250.4 235.4 257 236.6 264.1 238.9 271.3 241.9 277.2 244.9 283.2 247.3 290.3 249.1"/>
<text class="n" x="13" y="58.4">Songda</text>
<text class="n i" transform="translate(13 125.5) scale(1 1.04)">N</text><text class="n s" x="47.5" y="147.6">d</text><text class="n" transform="translate(69.5 125.5) scale(1 1.04)">=9</text>
</g>
<g transform="translate(740.2 363.2)">
<path class="c" d="M104.8 168.7 102.3 169.3 97.3 170.2 95.6 172.7 94 172.2 91.9 169.7 90.2 173.1 88.1 170.6 86.5 174.3 81 176 77.3 177.7 73.1 178.9 69.4 179.9 68.3 181.8 70.2 184.7 69.4 186.2 66.9 186.2 65.6 183.5 65.2 178.9 63.1 178.1 61 176.8 58.1 176.4 54.8 177.1 50.6 178.9 46.5 181 43.5 183.9 41.5 186.8 39 188.9 37.7 192.2 37.1 195.4 38.5 198.1 40.6 200.6 42.3 203.5 45.6 207.2 49 210.6 54 214.3 58.1 218.9 59.8 221.4 61 225.6 61.9 229.7 62.1 234.7 61.5 239.7 60.6 243.9 60.2 246.4 54 249.7 48.1 253.5 45.2 254.1 44.4 254.7 44.8 258.1 42.7 261 38.1 262.2 33.5 266.4 32.3 262.2 32.7 258.5 33.5 256.4 31.5 256 29.4 254.3 28.5 252.7 24.8 252.9 22.3 251.4 20.2 248.9 18.5 245.2 16.9 242.7 13.5 240.2 11.9 238.9 8.1 238.9 5.6 238.1 4.8 233.9M74.4 188.2 71.5 188.1 66.5 188.2 63.1 189.3 59.8 191.4 57.7 193.5 57.3 196.8 58.1 199.3 60.6 201 64 201 67.3 199.3 70.2 196.8 71.9 193.5 73.1 191ZM4.8 277.7 9.8 278.5 12.3 281.4 16.5 284.3 20.2 287.2 23.1 291.4 23 297.2 22.7 304.7 24.8 307.2 26.9 310.6 28.5 314.7 24.8 315.2 21.5 313.5 16.5 310.6 12.3 308.5 9.8 305.6 9 302.2 4.8 298.1M4.8 309.7 8.1 309.3 10.6 311.4 13.1 312.7 15.6 314.7 18.5 316.4 21.5 318.5M59.6 318.9 60.6 313.9 63.5 311 68.1 313.1 74 313.9 76.9 305.2 83.1 304.3 86.5 302.7 89 298.9 92.3 296 95.6 292.7 98.1 291.4 103.1 291 104 288.5 107.3 285.6 109 281.8 111.9 279.7 114 277.2M138.4 198.7 141.2 198 143.7 199.2 146.6 200 148.4 199.2 150 198.7 149.4 202.7 149.2 206.2 151.2 209.1 150.5 212 148.4 214.8 145.5 217 143.9 219.1 143.7 221.6 144.7 224.5 145.5 227.3 146.6 230.2 149.1 230.5 151.2 228.7 154.1 229 157.7 230.2 161.2 231.8 159.4 233.4 160.4 235.9 161.9 237.7 159.8 237.5 157.7 235.9 156.2 233.4 154.8 232 152.8 231.2 151.6 232 152.8 233.4 152.5 236.2 151.6 237 150.2 234.5 148.7 232 146.9 230.9 144.8 231.2 143 232.3 141.9 233.4 140.2 233.7 138.9 232.3 138.9 230.5 139.8 228.7 140.9 227.3 138.9 225.4 138 225.9 136.6 225 134.8 224.1 134.1 220.5 133.4 216.2 133 215.4 134.8 214.8 136.2 216.2 136.9 212.7 137.7 208.4 136.4 205.5 137.3 202.7ZM137.3 234.5 139.8 234.1 141.9 234.8 143.7 236.2 144.4 238.7 144.1 241.2 141.9 243 140.2 240.2 138.7 237ZM130.9 248.4 132.3 252.7 129.8 255.5 126.2 258.4 121.9 263.7 119.1 266.2 116.2 268 115.5 267 118.4 263.7 122.7 260.5 126.2 257 129.1 252.7ZM164.1 240.5 166.9 240.2 169.8 239.8 171.2 242 171.6 245.5 172.3 249.1 169.1 249.8 167.7 251.2 168.7 254.1 169.4 255.5 166.9 255.9 165.5 253.4 164.1 252 164.4 249.1 166.9 247.7 168.4 245.5 167.7 243.7 165.5 243ZM146.9 244.8 150.5 245.5 151.9 247 155.2 247.3 155.9 249.8 157.7 252 159.8 252.3 161.2 249.8 161.2 252.7 161.9 254.8 163.4 256.2 164.1 258.4 161.9 259.5 160.2 258 158 259.1 156.2 260.2 156.6 262 155.2 264.1 153.4 262 151.6 259.5 150.5 258.4 152.3 257 152.7 254.1 150.5 252.7 147.7 252.3 146.9 249.8 147.7 247.7ZM170.5 259.1 172.7 259.8 175.2 262.3 176.9 264.8 177.3 268.4 178.4 272 178.7 274.8 177.7 277.7 176.2 279.8 175.5 282.3 174.4 279.8 173.7 277.3 172.7 275.5 170.9 277.7 169.8 279.5 171.6 281.6 172.7 284.1 171.6 285.9 170.5 287.3 168.4 285.9 165.5 285.2 162.7 283.4 160.9 282 160.5 279.1 161.9 277.7 161.9 275.5 160.2 274.1 158 273 156.2 274.1 154.1 274.8 153.4 273.4 151.6 273 149.8 274.1 149.1 276.6 148 279.1 147.3 277 147.3 274.1 148 271.6 149.8 270.5 152.3 269.5 154.1 267.7 155.9 266.6 157.7 266.2 159.4 267.7 160.9 269.8 162.7 268.4 165.2 267.3 166.2 264.5 168.7 264.8 170.2 263ZM112.3 279.8 114.1 277.7 116.2 279.5 118.7 280.9 119.1 283.4 118.4 285.2 122.7 287.3 126.2 288.7 129.4 290.2 125.5 291.2 121.9 292.3 123.4 293.7 124.8 294.8 120.2 295.9 119.4 299.8 117.3 302.7 118.7 306.2 120.9 308.7 119.4 310.9 121.9 313.4 125.5 315.9 128 319.1M138.9 319.1 140.2 315.9 144.8 317 149.1 317.7 154.1 318 159.1 317.7 162.7 317 165.5 315.2 167.7 313 169.8 314.5 167.7 317 165.5 319.1M183.4 319.1 184.1 314.1 185.5 310.9 187.7 309.5 188.4 312.3 187.7 314.5 189.8 315.5 191.2 314.1 193 313.7 193.2 319.1M139.5 174.5 139.9 175.1M136 83.4 137.7 88.4 139.4 94.2 140.2 97.6 143.1 98.8 145.6 100.9 146.9 103.4 143.1 104.2 145.6 106.3 147.3 108 147.7 109.7 144 110.5 140.6 112.2 136.9 114.1 139.8 114.7 143.1 113.8 146.5 115.5 148.5 116.7 147.7 122.2 145.6 122.6 144.6 127.2 145.2 128.8 142.3 129.7 140.6 130.1 138.5 134.2 136.5 138 134 140.9 131.9 140.5 132.7 144.2 131.5 147.6 128.5 150.9 126.3 152.6 125.2 155.5 122.7 155.9 121.9 158.4 116.5 162.2 111.5 165.5 108.1 167.6 104.8 168.4M144.8 150.5 146.9 151.3 147.7 154.2 146.9 158.4 145.6 162.6 144.4 166.7 141.9 170.5 140.2 174.2 139 173 137.3 170.1 135.6 166.7 135.2 162.6 136.9 158.8 139 155.1 141.5 151.7ZM197.3 129.1 199.4 127.7M186 144.4 187.7 141.7 189.4 139.7M186.9 143.8 188.5 141.7M240.6 3.5 239.8 6.5 237.3 11 233.1 13.5 228.1 16 224.8 18.1 221.9 19.4 218.1 17.7 216.5 16.5 217.3 14 213.1 14 211.5 16 209.8 19 207.7 20.2 206.5 20.2 206 22.3 201.5 23.5 198.5 26.9 198.1 28.5 199.4 31 199.8 33.5 196.5 34.8 193.1 36.9 189 39.4 185.6 41 182.7 41.9 184.4 44.4 183.1 46 187.3 48.5 190.6 52.7 193.1 56 195.6 60.2 196.9 64.4 197.7 69.4 197.3 73.5 195.6 77.3 192.3 79 186.5 80.2 181.5 81.9 178.1 84.8 176.9 80.2 176.5 76.9 178.1 74.8 177.7 74 179.8 73.5 178.5 69.4 176.5 64.8 175.2 64.4 179.8 64 178.5 61 176.5 58.5 174.8 58.1 172.3 58.1 169.8 59 167.3 57.3 165.6 55.6 167.3 52.7 168.5 48.5 170.6 45.2 167.3 43.5 164.8 42.7 161.5 41.6 158.1 41.9 154 43.1 150.6 44.4 148.5 46.9 146.5 49 144 50 141.5 50.6 144 48.1 145.2 46.5 143.1 45.2 143.1 43.1 145.6 40.2 148.1 39 149.4 36.9 147.7 34 144.8 33.1 142.3 32.9 139.8 35.2 136.5 38.7 133.1 40.2 130.2 41.9 128.5 45.2 126.5 46.9 123.1 47.3 120.2 46.5 118.5 48.1 117.7 51 119.4 53.5 123.1 56 126.5 58.1 127.3 61 129.4 62.7 132.3 63.1 134.8 61 136.9 59 139.8 58.1 141.5 59.8 144.8 60.6 149 61 151.5 61.7 150.2 65.2 148.1 64.4 146 65.2 142.3 66.5 139.8 67.3 138.5 70.6 135.6 71.9 132.3 74 130.2 76.9 128.5 80.6 133.1 82.3 136 83.4M280.5 4.6 278 8.7 276.8 11.2 277.6 13.7 276.8 15.4 273 14.6 270.1 14.2 270.9 17.1 268.4 19.2 266.4 21.2 267.2 24.6 268 29.2 270.9 27.5 273.9 26.2 275.9 25.4 273 23.7 270.5 22.5 270.1 20.4 273 20.8 276.4 20 280.5 19.2 284.7 21.2 290.1 24.6 290.9 20.8 294.3 17.5 297.2 15.8 300.5 16.2 303.9 14.6 308.4 12.9 305.5 12.1 303.4 10.4 304.3 7.9 302.2 8.7 298 8.3 293.9 7.5 288.9 5M305.5 9.6 310.9 5M269.7 31.7 271.8 33.3 273 29.6 276.8 29.2 278 30.8 277.6 33.7 280.1 37.1 281.4 40.4 281.8 43.7 280.9 47.1 279.7 50.4 278.9 53.3 275.9 52.9 274.7 55.4 275.1 60.4 273.9 64.6 272.6 67.1 272.2 70 273.4 72.9 272.2 75.4 270.5 78.3 267.6 80 266.4 80 267.6 77.1 267.2 75 264.7 76.2 262.6 76.7 261.8 78.7 260.5 82.5 259.3 79.2 256.4 81.2 253.9 82.1 250.1 81.7 248 80.4 246.4 79.2 245.1 81.2 246.8 84.2 243.9 86.2 241.4 89.2 239.7 91.2 237.2 90.4 235.9 87.1 235.5 82.9 237.2 80.8 231.4 80.2 226.4 81.7 221.4 82.9 217.2 84.6 213.9 85.8 210.5 86.2 207.6 86.2 207.2 84.2 208.9 82.5 212.6 80.4 216.4 77.9 220.1 75 226.4 74.2 232.2 73.6 236.8 72.9 239.3 75.4 241.8 74.6 240.9 71.7 243 68.3 245.5 65 246.4 62.1 249.3 60 248 65.8 251.8 64.6 256.4 62.9 259.7 60 260.5 57.5 263.4 55.8 264.7 53.7 266.4 50 268 46.7 268.9 42.1 268.4 37.1 268.9 33.7ZM216.4 87.1 219.7 85.4 223.9 84.6 228 83.7 231.4 84.6 232.6 86.2 231.4 89.2 228.9 92.5 226.8 90.8 224.3 90.8 222.2 92.9 220.9 96.2 218 95.4 216.4 92.9 217.2 90ZM207.6 87.5 210.5 87.9 213.9 88.7 214.7 92.1 213.4 96.2 211.8 100.4 210.9 105.4 208.4 107.9 205.9 109.2 202.2 107.9 202.2 102.1 204.3 99.2 203.9 94.6 202.2 93.3 202.6 96.2 198.9 96.2 197.6 92.5 200.1 90.4 203.9 88.7Z"/>
<path d="M0 0H537.2 V324.3 H0Z M5.4 5.4 V318.9 H531.8 V5.4Z" fill="#fff" fill-rule="evenodd"/><path d="M2.7 323H100.7M100.7 4.1H201.5M201.5 323H235M235 4.1H268.6M268.6 323H335.8M335.8 4.1H402.9M402.9 323H470.1M470.1 4.1H534.5M1.3 321.6V256.9M533.1 256.9V188.2M1.3 188.2V116.7M533.1 116.7V40.5M1.3 40.5V20.5M533.1 20.5V2.7" stroke="#8c8c8c" stroke-width="1.5" fill="none"/><path d="M2.7 321.3H100.7M100.7 2.4H201.5M201.5 321.3H235M235 2.4H268.6M268.6 321.3H335.8M335.8 2.4H402.9M402.9 321.3H470.1M470.1 2.4H534.5M3 321.6V256.9M534.8 256.9V188.2M3 188.2V116.7M534.8 116.7V40.5M3 40.5V20.5M534.8 20.5V2.7" stroke="#000" stroke-width="2.1" fill="none"/><path d="M0 0H537.2V324.3H0ZM5.4 5.4H531.8V318.9H5.4ZM0 0L5.4 5.4M537.2 0L531.8 5.4M0 324.3L5.4 318.9M537.2 324.3L531.8 318.9M100.7 0V5.4M100.7 318.9V324.3M201.5 0V5.4M201.5 318.9V324.3M235 0V5.4M235 318.9V324.3M268.6 0V5.4M268.6 318.9V324.3M335.8 0V5.4M335.8 318.9V324.3M402.9 0V5.4M402.9 318.9V324.3M470.1 0V5.4M470.1 318.9V324.3M0 256.9H5.4M531.8 256.9H537.2M0 188.2H5.4M531.8 188.2H537.2M0 116.7H5.4M531.8 116.7H537.2M0 40.5H5.4M531.8 40.5H537.2M0 20.5H5.4M531.8 20.5H537.2" stroke="#111" stroke-width="1.1" fill="none"/><path d="M0 -5.6V0M0 324.3V329.9M201.5 -5.6V0M201.5 324.3V329.9M268.6 -5.6V0M268.6 324.3V329.9M402.9 -5.6V0M402.9 324.3V329.9M-5.6 324.3H0M537.2 324.3H542.8M-5.6 188.2H0M537.2 188.2H542.8M-5.6 40.5H0M537.2 40.5H542.8" stroke="#000" stroke-width="2" fill="none"/>
<path class="m" d="M173.7 57 174.8 61.4 176.4 65.3 177.2 69.2 177.2 73.8 176.9 78.4 177.2 83 178.3 87.6 179.5 92.3 180.6 97.7 181.4 103 182.2 108.4 182.9 113.8 183.3 119.2 183.7 124.6 184.1 129.2 184.9 133.9 185.6 137.7 186.4 142.3 187.2 146.9 187.3 151.6 187.6 156.2 187.4 161.6 186.8 166.2 186 170.1 184.5 173.1 182.9 175.8 182.6 178.9 184.1 180.8 187.6 182.8 189.9 183.9 192.6 185.1"/>
<path class="b" d="M172.2 155.8 176 155.4 179.1 156.2 181 158.5M172.2 157.7 176 158.1 178.7 159.3M224.5 175.4 220.7 175.8 216.8 176.6 214.1 178.9 213.7 181.6 216.1 183.9 219.9 184.7 223.8 184.3 224.5 181.6 223.8 179.3 224.9 177M221.4 177.8 223 180.8M192.9 191.2 196.8 191.6 201.4 190.9 206 189.7 209.9 188.5 213.7 188.2 216.8 188.9 219.1 190.5M193.7 192.4 198.3 192.4"/>
<text class="n" x="13" y="58.4">Trases</text>
<text class="n i" transform="translate(13 125.5) scale(1 1.04)">N</text><text class="n s" x="47.5" y="147.6">d</text><text class="n" transform="translate(69.5 125.5) scale(1 1.04)">=3</text>
</g>
<g transform="translate(1353.1 363.2)">
<path class="c" d="M104.8 168.7 102.3 169.3 97.3 170.2 95.6 172.7 94 172.2 91.9 169.7 90.2 173.1 88.1 170.6 86.5 174.3 81 176 77.3 177.7 73.1 178.9 69.4 179.9 68.3 181.8 70.2 184.7 69.4 186.2 66.9 186.2 65.6 183.5 65.2 178.9 63.1 178.1 61 176.8 58.1 176.4 54.8 177.1 50.6 178.9 46.5 181 43.5 183.9 41.5 186.8 39 188.9 37.7 192.2 37.1 195.4 38.5 198.1 40.6 200.6 42.3 203.5 45.6 207.2 49 210.6 54 214.3 58.1 218.9 59.8 221.4 61 225.6 61.9 229.7 62.1 234.7 61.5 239.7 60.6 243.9 60.2 246.4 54 249.7 48.1 253.5 45.2 254.1 44.4 254.7 44.8 258.1 42.7 261 38.1 262.2 33.5 266.4 32.3 262.2 32.7 258.5 33.5 256.4 31.5 256 29.4 254.3 28.5 252.7 24.8 252.9 22.3 251.4 20.2 248.9 18.5 245.2 16.9 242.7 13.5 240.2 11.9 238.9 8.1 238.9 5.6 238.1 4.8 233.9M74.4 188.2 71.5 188.1 66.5 188.2 63.1 189.3 59.8 191.4 57.7 193.5 57.3 196.8 58.1 199.3 60.6 201 64 201 67.3 199.3 70.2 196.8 71.9 193.5 73.1 191ZM4.8 277.7 9.8 278.5 12.3 281.4 16.5 284.3 20.2 287.2 23.1 291.4 23 297.2 22.7 304.7 24.8 307.2 26.9 310.6 28.5 314.7 24.8 315.2 21.5 313.5 16.5 310.6 12.3 308.5 9.8 305.6 9 302.2 4.8 298.1M4.8 309.7 8.1 309.3 10.6 311.4 13.1 312.7 15.6 314.7 18.5 316.4 21.5 318.5M59.6 318.9 60.6 313.9 63.5 311 68.1 313.1 74 313.9 76.9 305.2 83.1 304.3 86.5 302.7 89 298.9 92.3 296 95.6 292.7 98.1 291.4 103.1 291 104 288.5 107.3 285.6 109 281.8 111.9 279.7 114 277.2M138.4 198.7 141.2 198 143.7 199.2 146.6 200 148.4 199.2 150 198.7 149.4 202.7 149.2 206.2 151.2 209.1 150.5 212 148.4 214.8 145.5 217 143.9 219.1 143.7 221.6 144.7 224.5 145.5 227.3 146.6 230.2 149.1 230.5 151.2 228.7 154.1 229 157.7 230.2 161.2 231.8 159.4 233.4 160.4 235.9 161.9 237.7 159.8 237.5 157.7 235.9 156.2 233.4 154.8 232 152.8 231.2 151.6 232 152.8 233.4 152.5 236.2 151.6 237 150.2 234.5 148.7 232 146.9 230.9 144.8 231.2 143 232.3 141.9 233.4 140.2 233.7 138.9 232.3 138.9 230.5 139.8 228.7 140.9 227.3 138.9 225.4 138 225.9 136.6 225 134.8 224.1 134.1 220.5 133.4 216.2 133 215.4 134.8 214.8 136.2 216.2 136.9 212.7 137.7 208.4 136.4 205.5 137.3 202.7ZM137.3 234.5 139.8 234.1 141.9 234.8 143.7 236.2 144.4 238.7 144.1 241.2 141.9 243 140.2 240.2 138.7 237ZM130.9 248.4 132.3 252.7 129.8 255.5 126.2 258.4 121.9 263.7 119.1 266.2 116.2 268 115.5 267 118.4 263.7 122.7 260.5 126.2 257 129.1 252.7ZM164.1 240.5 166.9 240.2 169.8 239.8 171.2 242 171.6 245.5 172.3 249.1 169.1 249.8 167.7 251.2 168.7 254.1 169.4 255.5 166.9 255.9 165.5 253.4 164.1 252 164.4 249.1 166.9 247.7 168.4 245.5 167.7 243.7 165.5 243ZM146.9 244.8 150.5 245.5 151.9 247 155.2 247.3 155.9 249.8 157.7 252 159.8 252.3 161.2 249.8 161.2 252.7 161.9 254.8 163.4 256.2 164.1 258.4 161.9 259.5 160.2 258 158 259.1 156.2 260.2 156.6 262 155.2 264.1 153.4 262 151.6 259.5 150.5 258.4 152.3 257 152.7 254.1 150.5 252.7 147.7 252.3 146.9 249.8 147.7 247.7ZM170.5 259.1 172.7 259.8 175.2 262.3 176.9 264.8 177.3 268.4 178.4 272 178.7 274.8 177.7 277.7 176.2 279.8 175.5 282.3 174.4 279.8 173.7 277.3 172.7 275.5 170.9 277.7 169.8 279.5 171.6 281.6 172.7 284.1 171.6 285.9 170.5 287.3 168.4 285.9 165.5 285.2 162.7 283.4 160.9 282 160.5 279.1 161.9 277.7 161.9 275.5 160.2 274.1 158 273 156.2 274.1 154.1 274.8 153.4 273.4 151.6 273 149.8 274.1 149.1 276.6 148 279.1 147.3 277 147.3 274.1 148 271.6 149.8 270.5 152.3 269.5 154.1 267.7 155.9 266.6 157.7 266.2 159.4 267.7 160.9 269.8 162.7 268.4 165.2 267.3 166.2 264.5 168.7 264.8 170.2 263ZM112.3 279.8 114.1 277.7 116.2 279.5 118.7 280.9 119.1 283.4 118.4 285.2 122.7 287.3 126.2 288.7 129.4 290.2 125.5 291.2 121.9 292.3 123.4 293.7 124.8 294.8 120.2 295.9 119.4 299.8 117.3 302.7 118.7 306.2 120.9 308.7 119.4 310.9 121.9 313.4 125.5 315.9 128 319.1M138.9 319.1 140.2 315.9 144.8 317 149.1 317.7 154.1 318 159.1 317.7 162.7 317 165.5 315.2 167.7 313 169.8 314.5 167.7 317 165.5 319.1M183.4 319.1 184.1 314.1 185.5 310.9 187.7 309.5 188.4 312.3 187.7 314.5 189.8 315.5 191.2 314.1 193 313.7 193.2 319.1M139.5 174.5 139.9 175.1M136 83.4 137.7 88.4 139.4 94.2 140.2 97.6 143.1 98.8 145.6 100.9 146.9 103.4 143.1 104.2 145.6 106.3 147.3 108 147.7 109.7 144 110.5 140.6 112.2 136.9 114.1 139.8 114.7 143.1 113.8 146.5 115.5 148.5 116.7 147.7 122.2 145.6 122.6 144.6 127.2 145.2 128.8 142.3 129.7 140.6 130.1 138.5 134.2 136.5 138 134 140.9 131.9 140.5 132.7 144.2 131.5 147.6 128.5 150.9 126.3 152.6 125.2 155.5 122.7 155.9 121.9 158.4 116.5 162.2 111.5 165.5 108.1 167.6 104.8 168.4M144.8 150.5 146.9 151.3 147.7 154.2 146.9 158.4 145.6 162.6 144.4 166.7 141.9 170.5 140.2 174.2 139 173 137.3 170.1 135.6 166.7 135.2 162.6 136.9 158.8 139 155.1 141.5 151.7ZM197.3 129.1 199.4 127.7M186 144.4 187.7 141.7 189.4 139.7M186.9 143.8 188.5 141.7M240.6 3.5 239.8 6.5 237.3 11 233.1 13.5 228.1 16 224.8 18.1 221.9 19.4 218.1 17.7 216.5 16.5 217.3 14 213.1 14 211.5 16 209.8 19 207.7 20.2 206.5 20.2 206 22.3 201.5 23.5 198.5 26.9 198.1 28.5 199.4 31 199.8 33.5 196.5 34.8 193.1 36.9 189 39.4 185.6 41 182.7 41.9 184.4 44.4 183.1 46 187.3 48.5 190.6 52.7 193.1 56 195.6 60.2 196.9 64.4 197.7 69.4 197.3 73.5 195.6 77.3 192.3 79 186.5 80.2 181.5 81.9 178.1 84.8 176.9 80.2 176.5 76.9 178.1 74.8 177.7 74 179.8 73.5 178.5 69.4 176.5 64.8 175.2 64.4 179.8 64 178.5 61 176.5 58.5 174.8 58.1 172.3 58.1 169.8 59 167.3 57.3 165.6 55.6 167.3 52.7 168.5 48.5 170.6 45.2 167.3 43.5 164.8 42.7 161.5 41.6 158.1 41.9 154 43.1 150.6 44.4 148.5 46.9 146.5 49 144 50 141.5 50.6 144 48.1 145.2 46.5 143.1 45.2 143.1 43.1 145.6 40.2 148.1 39 149.4 36.9 147.7 34 144.8 33.1 142.3 32.9 139.8 35.2 136.5 38.7 133.1 40.2 130.2 41.9 128.5 45.2 126.5 46.9 123.1 47.3 120.2 46.5 118.5 48.1 117.7 51 119.4 53.5 123.1 56 126.5 58.1 127.3 61 129.4 62.7 132.3 63.1 134.8 61 136.9 59 139.8 58.1 141.5 59.8 144.8 60.6 149 61 151.5 61.7 150.2 65.2 148.1 64.4 146 65.2 142.3 66.5 139.8 67.3 138.5 70.6 135.6 71.9 132.3 74 130.2 76.9 128.5 80.6 133.1 82.3 136 83.4M280.5 4.6 278 8.7 276.8 11.2 277.6 13.7 276.8 15.4 273 14.6 270.1 14.2 270.9 17.1 268.4 19.2 266.4 21.2 267.2 24.6 268 29.2 270.9 27.5 273.9 26.2 275.9 25.4 273 23.7 270.5 22.5 270.1 20.4 273 20.8 276.4 20 280.5 19.2 284.7 21.2 290.1 24.6 290.9 20.8 294.3 17.5 297.2 15.8 300.5 16.2 303.9 14.6 308.4 12.9 305.5 12.1 303.4 10.4 304.3 7.9 302.2 8.7 298 8.3 293.9 7.5 288.9 5M305.5 9.6 310.9 5M269.7 31.7 271.8 33.3 273 29.6 276.8 29.2 278 30.8 277.6 33.7 280.1 37.1 281.4 40.4 281.8 43.7 280.9 47.1 279.7 50.4 278.9 53.3 275.9 52.9 274.7 55.4 275.1 60.4 273.9 64.6 272.6 67.1 272.2 70 273.4 72.9 272.2 75.4 270.5 78.3 267.6 80 266.4 80 267.6 77.1 267.2 75 264.7 76.2 262.6 76.7 261.8 78.7 260.5 82.5 259.3 79.2 256.4 81.2 253.9 82.1 250.1 81.7 248 80.4 246.4 79.2 245.1 81.2 246.8 84.2 243.9 86.2 241.4 89.2 239.7 91.2 237.2 90.4 235.9 87.1 235.5 82.9 237.2 80.8 231.4 80.2 226.4 81.7 221.4 82.9 217.2 84.6 213.9 85.8 210.5 86.2 207.6 86.2 207.2 84.2 208.9 82.5 212.6 80.4 216.4 77.9 220.1 75 226.4 74.2 232.2 73.6 236.8 72.9 239.3 75.4 241.8 74.6 240.9 71.7 243 68.3 245.5 65 246.4 62.1 249.3 60 248 65.8 251.8 64.6 256.4 62.9 259.7 60 260.5 57.5 263.4 55.8 264.7 53.7 266.4 50 268 46.7 268.9 42.1 268.4 37.1 268.9 33.7ZM216.4 87.1 219.7 85.4 223.9 84.6 228 83.7 231.4 84.6 232.6 86.2 231.4 89.2 228.9 92.5 226.8 90.8 224.3 90.8 222.2 92.9 220.9 96.2 218 95.4 216.4 92.9 217.2 90ZM207.6 87.5 210.5 87.9 213.9 88.7 214.7 92.1 213.4 96.2 211.8 100.4 210.9 105.4 208.4 107.9 205.9 109.2 202.2 107.9 202.2 102.1 204.3 99.2 203.9 94.6 202.2 93.3 202.6 96.2 198.9 96.2 197.6 92.5 200.1 90.4 203.9 88.7Z"/>
<path d="M0 0H537.2 V324.3 H0Z M5.4 5.4 V318.9 H531.8 V5.4Z" fill="#fff" fill-rule="evenodd"/><path d="M2.7 323H100.7M100.7 4.1H201.5M201.5 323H235M235 4.1H268.6M268.6 323H335.8M335.8 4.1H402.9M402.9 323H470.1M470.1 4.1H534.5M1.3 321.6V256.9M533.1 256.9V188.2M1.3 188.2V116.7M533.1 116.7V40.5M1.3 40.5V20.5M533.1 20.5V2.7" stroke="#8c8c8c" stroke-width="1.5" fill="none"/><path d="M2.7 321.3H100.7M100.7 2.4H201.5M201.5 321.3H235M235 2.4H268.6M268.6 321.3H335.8M335.8 2.4H402.9M402.9 321.3H470.1M470.1 2.4H534.5M3 321.6V256.9M534.8 256.9V188.2M3 188.2V116.7M534.8 116.7V40.5M3 40.5V20.5M534.8 20.5V2.7" stroke="#000" stroke-width="2.1" fill="none"/><path d="M0 0H537.2V324.3H0ZM5.4 5.4H531.8V318.9H5.4ZM0 0L5.4 5.4M537.2 0L531.8 5.4M0 324.3L5.4 318.9M537.2 324.3L531.8 318.9M100.7 0V5.4M100.7 318.9V324.3M201.5 0V5.4M201.5 318.9V324.3M235 0V5.4M235 318.9V324.3M268.6 0V5.4M268.6 318.9V324.3M335.8 0V5.4M335.8 318.9V324.3M402.9 0V5.4M402.9 318.9V324.3M470.1 0V5.4M470.1 318.9V324.3M0 256.9H5.4M531.8 256.9H537.2M0 188.2H5.4M531.8 188.2H537.2M0 116.7H5.4M531.8 116.7H537.2M0 40.5H5.4M531.8 40.5H537.2M0 20.5H5.4M531.8 20.5H537.2" stroke="#111" stroke-width="1.1" fill="none"/><path d="M0 -5.6V0M0 324.3V329.9M201.5 -5.6V0M201.5 324.3V329.9M268.6 -5.6V0M268.6 324.3V329.9M402.9 -5.6V0M402.9 324.3V329.9M-5.6 324.3H0M537.2 324.3H542.8M-5.6 188.2H0M537.2 188.2H542.8M-5.6 40.5H0M537.2 40.5H542.8" stroke="#000" stroke-width="2" fill="none"/>
<path class="m" d="M339 -0.7 337.4 4.7 334.8 8.9 330.5 13.8 326.2 18.6 321.9 23.9 317.6 29.3 312.3 34.7 306.9 40 300.5 45.9 294 52.3 287.6 58.8 281.2 63.6 274.8 68.4 268.3 72.7 261.9 75.9 256.5 79.1 252.3 83.4 249 87.7 246.9 93.6 246.7 100 245.3 106.4 243.2 112.9 241 119.3 238.9 125.2 243.7 125.2 249 127.9 254.4 131.6 259.8 135.4 265.1 139.7 269.4 145 273.7 148.8 278.5 152 284.4 152.5 289.8 154.1 296.2 155.7 302.6 157.3 309 158.4 315.5 159.2 321.9 160 327.8 160.2"/>
<path class="b" d="M325.1 21.3 319.8 22.9 313.3 25.6 308 28.2 302.6 30.4 298.9 30.4 297.8 28.2 299.9 26.6M268.3 108.1 271.5 104.8 275.8 104.3 279.6 107 279.6 111.3 276.4 114.5 272.1 114.5 268.9 111.8 268.3 108.1 272.6 108.6 275.8 109.7M310.1 125.7 314.4 128.9 318.7 132.2 323 132.7 325.1 134.3M282.3 132.2 286.5 134.3 291.9 135.9 296.2 138.6 301.5 138.1 308 136.4 313.3 135.4 318.7 134.3M286.5 140.7 291.9 141.8 297.3 143.9 302.6 145 308 142.9 313.3 140.7 318.7 139.7 324 140.7 327.8 142.9 326.2 146.1 323 147.2M281.2 154.7 285.5 152.5 289.8 149.3 294 147.2 299.4 148.2 304.8 150.4 310.1 152.5 315.5 151.4 318.7 148.2 319.8 143.9M291.9 143.9 296.2 150.4 300.5 154.7 305.8 156.8 311.2 156.8 315.5 153.6M321.9 152 327.3 151.4 332.1 152 334.8 154.1 336.4 156.3M290.8 161.1 291.9 166.4 295.1 170.7 298.3 173.9 301.5 177.2 303.7 179.3M296.2 158.9 299.4 163.2 301.5 168.6 303.2 173.9M294 161.1 296.7 167.5 299.4 172.9M305.8 162.2 309 166.4 312.3 169.7 313.9 170.7M313.3 158.9 315.5 163.2 317.6 165.9M302.6 139.7 308 147.2 310.1 150.4M298.3 141.8 302.6 148.2 306.9 152.5M313.3 137.5 316.5 143.9 317.6 149.3M240.5 161.1 244.8 158.9 250.1 157.9 255.5 158.9 260.8 161.1 266.2 162.2 271 163.2M242.6 162.2 248 162.7M351.4 152.5 356.2 152 361.5 153.1 366.9 153.6 371.2 153.6 374.9 156.3 376 161.1 374.4 165.4 372.3 168.6M351.4 152.5 353 156.8 356.2 160 360.5 161.1M363.7 158.9 365.3 163.2 365.8 167.5 363.7 170.7 360.5 172.9 356.7 172.9M281.7 171.8 283.3 176.1 284.9 180.4 287.6 183.6 291.9 184.7 290.8 182.5"/>
<text class="n" x="13" y="58.4">Meari</text>
<text class="n i" transform="translate(13 125.5) scale(1 1.04)">N</text><text class="n s" x="47.5" y="147.6">d</text><text class="n" transform="translate(69.5 125.5) scale(1 1.04)">=23</text>
</g>
<g transform="translate(127.3 711.4)">
<path class="c" d="M104.8 168.7 102.3 169.3 97.3 170.2 95.6 172.7 94 172.2 91.9 169.7 90.2 173.1 88.1 170.6 86.5 174.3 81 176 77.3 177.7 73.1 178.9 69.4 179.9 68.3 181.8 70.2 184.7 69.4 186.2 66.9 186.2 65.6 183.5 65.2 178.9 63.1 178.1 61 176.8 58.1 176.4 54.8 177.1 50.6 178.9 46.5 181 43.5 183.9 41.5 186.8 39 188.9 37.7 192.2 37.1 195.4 38.5 198.1 40.6 200.6 42.3 203.5 45.6 207.2 49 210.6 54 214.3 58.1 218.9 59.8 221.4 61 225.6 61.9 229.7 62.1 234.7 61.5 239.7 60.6 243.9 60.2 246.4 54 249.7 48.1 253.5 45.2 254.1 44.4 254.7 44.8 258.1 42.7 261 38.1 262.2 33.5 266.4 32.3 262.2 32.7 258.5 33.5 256.4 31.5 256 29.4 254.3 28.5 252.7 24.8 252.9 22.3 251.4 20.2 248.9 18.5 245.2 16.9 242.7 13.5 240.2 11.9 238.9 8.1 238.9 5.6 238.1 4.8 233.9M74.4 188.2 71.5 188.1 66.5 188.2 63.1 189.3 59.8 191.4 57.7 193.5 57.3 196.8 58.1 199.3 60.6 201 64 201 67.3 199.3 70.2 196.8 71.9 193.5 73.1 191ZM4.8 277.7 9.8 278.5 12.3 281.4 16.5 284.3 20.2 287.2 23.1 291.4 23 297.2 22.7 304.7 24.8 307.2 26.9 310.6 28.5 314.7 24.8 315.2 21.5 313.5 16.5 310.6 12.3 308.5 9.8 305.6 9 302.2 4.8 298.1M4.8 309.7 8.1 309.3 10.6 311.4 13.1 312.7 15.6 314.7 18.5 316.4 21.5 318.5M59.6 318.9 60.6 313.9 63.5 311 68.1 313.1 74 313.9 76.9 305.2 83.1 304.3 86.5 302.7 89 298.9 92.3 296 95.6 292.7 98.1 291.4 103.1 291 104 288.5 107.3 285.6 109 281.8 111.9 279.7 114 277.2M138.4 198.7 141.2 198 143.7 199.2 146.6 200 148.4 199.2 150 198.7 149.4 202.7 149.2 206.2 151.2 209.1 150.5 212 148.4 214.8 145.5 217 143.9 219.1 143.7 221.6 144.7 224.5 145.5 227.3 146.6 230.2 149.1 230.5 151.2 228.7 154.1 229 157.7 230.2 161.2 231.8 159.4 233.4 160.4 235.9 161.9 237.7 159.8 237.5 157.7 235.9 156.2 233.4 154.8 232 152.8 231.2 151.6 232 152.8 233.4 152.5 236.2 151.6 237 150.2 234.5 148.7 232 146.9 230.9 144.8 231.2 143 232.3 141.9 233.4 140.2 233.7 138.9 232.3 138.9 230.5 139.8 228.7 140.9 227.3 138.9 225.4 138 225.9 136.6 225 134.8 224.1 134.1 220.5 133.4 216.2 133 215.4 134.8 214.8 136.2 216.2 136.9 212.7 137.7 208.4 136.4 205.5 137.3 202.7ZM137.3 234.5 139.8 234.1 141.9 234.8 143.7 236.2 144.4 238.7 144.1 241.2 141.9 243 140.2 240.2 138.7 237ZM130.9 248.4 132.3 252.7 129.8 255.5 126.2 258.4 121.9 263.7 119.1 266.2 116.2 268 115.5 267 118.4 263.7 122.7 260.5 126.2 257 129.1 252.7ZM164.1 240.5 166.9 240.2 169.8 239.8 171.2 242 171.6 245.5 172.3 249.1 169.1 249.8 167.7 251.2 168.7 254.1 169.4 255.5 166.9 255.9 165.5 253.4 164.1 252 164.4 249.1 166.9 247.7 168.4 245.5 167.7 243.7 165.5 243ZM146.9 244.8 150.5 245.5 151.9 247 155.2 247.3 155.9 249.8 157.7 252 159.8 252.3 161.2 249.8 161.2 252.7 161.9 254.8 163.4 256.2 164.1 258.4 161.9 259.5 160.2 258 158 259.1 156.2 260.2 156.6 262 155.2 264.1 153.4 262 151.6 259.5 150.5 258.4 152.3 257 152.7 254.1 150.5 252.7 147.7 252.3 146.9 249.8 147.7 247.7ZM170.5 259.1 172.7 259.8 175.2 262.3 176.9 264.8 177.3 268.4 178.4 272 178.7 274.8 177.7 277.7 176.2 279.8 175.5 282.3 174.4 279.8 173.7 277.3 172.7 275.5 170.9 277.7 169.8 279.5 171.6 281.6 172.7 284.1 171.6 285.9 170.5 287.3 168.4 285.9 165.5 285.2 162.7 283.4 160.9 282 160.5 279.1 161.9 277.7 161.9 275.5 160.2 274.1 158 273 156.2 274.1 154.1 274.8 153.4 273.4 151.6 273 149.8 274.1 149.1 276.6 148 279.1 147.3 277 147.3 274.1 148 271.6 149.8 270.5 152.3 269.5 154.1 267.7 155.9 266.6 157.7 266.2 159.4 267.7 160.9 269.8 162.7 268.4 165.2 267.3 166.2 264.5 168.7 264.8 170.2 263ZM112.3 279.8 114.1 277.7 116.2 279.5 118.7 280.9 119.1 283.4 118.4 285.2 122.7 287.3 126.2 288.7 129.4 290.2 125.5 291.2 121.9 292.3 123.4 293.7 124.8 294.8 120.2 295.9 119.4 299.8 117.3 302.7 118.7 306.2 120.9 308.7 119.4 310.9 121.9 313.4 125.5 315.9 128 319.1M138.9 319.1 140.2 315.9 144.8 317 149.1 317.7 154.1 318 159.1 317.7 162.7 317 165.5 315.2 167.7 313 169.8 314.5 167.7 317 165.5 319.1M183.4 319.1 184.1 314.1 185.5 310.9 187.7 309.5 188.4 312.3 187.7 314.5 189.8 315.5 191.2 314.1 193 313.7 193.2 319.1M139.5 174.5 139.9 175.1M136 83.4 137.7 88.4 139.4 94.2 140.2 97.6 143.1 98.8 145.6 100.9 146.9 103.4 143.1 104.2 145.6 106.3 147.3 108 147.7 109.7 144 110.5 140.6 112.2 136.9 114.1 139.8 114.7 143.1 113.8 146.5 115.5 148.5 116.7 147.7 122.2 145.6 122.6 144.6 127.2 145.2 128.8 142.3 129.7 140.6 130.1 138.5 134.2 136.5 138 134 140.9 131.9 140.5 132.7 144.2 131.5 147.6 128.5 150.9 126.3 152.6 125.2 155.5 122.7 155.9 121.9 158.4 116.5 162.2 111.5 165.5 108.1 167.6 104.8 168.4M144.8 150.5 146.9 151.3 147.7 154.2 146.9 158.4 145.6 162.6 144.4 166.7 141.9 170.5 140.2 174.2 139 173 137.3 170.1 135.6 166.7 135.2 162.6 136.9 158.8 139 155.1 141.5 151.7ZM197.3 129.1 199.4 127.7M186 144.4 187.7 141.7 189.4 139.7M186.9 143.8 188.5 141.7M240.6 3.5 239.8 6.5 237.3 11 233.1 13.5 228.1 16 224.8 18.1 221.9 19.4 218.1 17.7 216.5 16.5 217.3 14 213.1 14 211.5 16 209.8 19 207.7 20.2 206.5 20.2 206 22.3 201.5 23.5 198.5 26.9 198.1 28.5 199.4 31 199.8 33.5 196.5 34.8 193.1 36.9 189 39.4 185.6 41 182.7 41.9 184.4 44.4 183.1 46 187.3 48.5 190.6 52.7 193.1 56 195.6 60.2 196.9 64.4 197.7 69.4 197.3 73.5 195.6 77.3 192.3 79 186.5 80.2 181.5 81.9 178.1 84.8 176.9 80.2 176.5 76.9 178.1 74.8 177.7 74 179.8 73.5 178.5 69.4 176.5 64.8 175.2 64.4 179.8 64 178.5 61 176.5 58.5 174.8 58.1 172.3 58.1 169.8 59 167.3 57.3 165.6 55.6 167.3 52.7 168.5 48.5 170.6 45.2 167.3 43.5 164.8 42.7 161.5 41.6 158.1 41.9 154 43.1 150.6 44.4 148.5 46.9 146.5 49 144 50 141.5 50.6 144 48.1 145.2 46.5 143.1 45.2 143.1 43.1 145.6 40.2 148.1 39 149.4 36.9 147.7 34 144.8 33.1 142.3 32.9 139.8 35.2 136.5 38.7 133.1 40.2 130.2 41.9 128.5 45.2 126.5 46.9 123.1 47.3 120.2 46.5 118.5 48.1 117.7 51 119.4 53.5 123.1 56 126.5 58.1 127.3 61 129.4 62.7 132.3 63.1 134.8 61 136.9 59 139.8 58.1 141.5 59.8 144.8 60.6 149 61 151.5 61.7 150.2 65.2 148.1 64.4 146 65.2 142.3 66.5 139.8 67.3 138.5 70.6 135.6 71.9 132.3 74 130.2 76.9 128.5 80.6 133.1 82.3 136 83.4M280.5 4.6 278 8.7 276.8 11.2 277.6 13.7 276.8 15.4 273 14.6 270.1 14.2 270.9 17.1 268.4 19.2 266.4 21.2 267.2 24.6 268 29.2 270.9 27.5 273.9 26.2 275.9 25.4 273 23.7 270.5 22.5 270.1 20.4 273 20.8 276.4 20 280.5 19.2 284.7 21.2 290.1 24.6 290.9 20.8 294.3 17.5 297.2 15.8 300.5 16.2 303.9 14.6 308.4 12.9 305.5 12.1 303.4 10.4 304.3 7.9 302.2 8.7 298 8.3 293.9 7.5 288.9 5M305.5 9.6 310.9 5M269.7 31.7 271.8 33.3 273 29.6 276.8 29.2 278 30.8 277.6 33.7 280.1 37.1 281.4 40.4 281.8 43.7 280.9 47.1 279.7 50.4 278.9 53.3 275.9 52.9 274.7 55.4 275.1 60.4 273.9 64.6 272.6 67.1 272.2 70 273.4 72.9 272.2 75.4 270.5 78.3 267.6 80 266.4 80 267.6 77.1 267.2 75 264.7 76.2 262.6 76.7 261.8 78.7 260.5 82.5 259.3 79.2 256.4 81.2 253.9 82.1 250.1 81.7 248 80.4 246.4 79.2 245.1 81.2 246.8 84.2 243.9 86.2 241.4 89.2 239.7 91.2 237.2 90.4 235.9 87.1 235.5 82.9 237.2 80.8 231.4 80.2 226.4 81.7 221.4 82.9 217.2 84.6 213.9 85.8 210.5 86.2 207.6 86.2 207.2 84.2 208.9 82.5 212.6 80.4 216.4 77.9 220.1 75 226.4 74.2 232.2 73.6 236.8 72.9 239.3 75.4 241.8 74.6 240.9 71.7 243 68.3 245.5 65 246.4 62.1 249.3 60 248 65.8 251.8 64.6 256.4 62.9 259.7 60 260.5 57.5 263.4 55.8 264.7 53.7 266.4 50 268 46.7 268.9 42.1 268.4 37.1 268.9 33.7ZM216.4 87.1 219.7 85.4 223.9 84.6 228 83.7 231.4 84.6 232.6 86.2 231.4 89.2 228.9 92.5 226.8 90.8 224.3 90.8 222.2 92.9 220.9 96.2 218 95.4 216.4 92.9 217.2 90ZM207.6 87.5 210.5 87.9 213.9 88.7 214.7 92.1 213.4 96.2 211.8 100.4 210.9 105.4 208.4 107.9 205.9 109.2 202.2 107.9 202.2 102.1 204.3 99.2 203.9 94.6 202.2 93.3 202.6 96.2 198.9 96.2 197.6 92.5 200.1 90.4 203.9 88.7Z"/>
<path d="M0 0H537.2 V324.3 H0Z M5.4 5.4 V318.9 H531.8 V5.4Z" fill="#fff" fill-rule="evenodd"/><path d="M2.7 323H100.7M100.7 4.1H201.5M201.5 323H302.2M302.2 4.1H402.9M402.9 323H470.1M470.1 4.1H534.5M1.3 321.6V256.9M533.1 256.9V188.2M1.3 188.2V116.7M533.1 116.7V40.5M1.3 40.5V20.5M533.1 20.5V2.7" stroke="#8c8c8c" stroke-width="1.5" fill="none"/><path d="M2.7 321.3H100.7M100.7 2.4H201.5M201.5 321.3H302.2M302.2 2.4H402.9M402.9 321.3H470.1M470.1 2.4H534.5M3 321.6V256.9M534.8 256.9V188.2M3 188.2V116.7M534.8 116.7V40.5M3 40.5V20.5M534.8 20.5V2.7" stroke="#000" stroke-width="2.1" fill="none"/><path d="M0 0H537.2V324.3H0ZM5.4 5.4H531.8V318.9H5.4ZM0 0L5.4 5.4M537.2 0L531.8 5.4M0 324.3L5.4 318.9M537.2 324.3L531.8 318.9M100.7 0V5.4M100.7 318.9V324.3M201.5 0V5.4M201.5 318.9V324.3M302.2 0V5.4M302.2 318.9V324.3M402.9 0V5.4M402.9 318.9V324.3M470.1 0V5.4M470.1 318.9V324.3M0 256.9H5.4M531.8 256.9H537.2M0 188.2H5.4M531.8 188.2H537.2M0 116.7H5.4M531.8 116.7H537.2M0 40.5H5.4M531.8 40.5H537.2M0 20.5H5.4M531.8 20.5H537.2" stroke="#111" stroke-width="1.1" fill="none"/><path d="M0 -5.6V0M0 324.3V329.9M201.5 -5.6V0M201.5 324.3V329.9M402.9 -5.6V0M402.9 324.3V329.9M-5.6 324.3H0M537.2 324.3H542.8M-5.6 188.2H0M537.2 188.2H542.8M-5.6 40.5H0M537.2 40.5H542.8" stroke="#000" stroke-width="2" fill="none"/>
<path class="m" d="M29.7 178.1 38.9 178.1 48.1 177.7 55.9 177.4 65.1 176.4 70.3 178.5 78.2 181.1 88.7 182.9 96.5 187.2 104.4 191.2 114.8 194.7 125.3 195.1 133.2 197.7 141 200.3 147.6 204.3 152.8 208.8 156.1 213.4 159.4 215.4 165.9 214.1 172.5 211.5 179 208.2 186.9 205.6"/>
<path class="b" d="M218.9 187.9 211.7 188.9 205.2 191.2 198.7 193.8 193.4 196.4 190.8 200.3 192.1 203.6 194.1 207.5M193.4 191.8 188.2 193.8 184.2 197.7 181 202.3 178.4 207.5 178.4 212.8 176.4 216.7"/>
<path class="r" d="M145 176.8 143.7 181.3 146.3 184.6 151.5 185.3 153.5 187.9 152.8 190.5 148.2 188.5 145 189.2 146.3 193.8 149.5 199 152.8 204.3 156.1 209.5 158.7 214.1M148.9 191.8 152.2 197.1 155.4 202.3 158.7 207.5 161.3 212.8M179 185.9 179.7 190.5 177.7 194.4 173.8 197.7 168.5 199.7 164.6 201 163.3 204.9 164.6 210.1 166.6 214.7 167.9 216.7M167.2 206.2 169.2 211.5 170.5 214.1M198 210.8 193.4 211.5 189.5 214.1 185.6 217.4 181.6 219.3 178.4 219.3 181.6 221.9 181.6 225.2 178.4 225.9"/>
<text class="n" x="13" y="58.4">Ma-On</text>
<text class="n i" transform="translate(13 125.5) scale(1 1.04)">N</text><text class="n s" x="47.5" y="147.6">d</text><text class="n" transform="translate(69.5 125.5) scale(1 1.04)">=6</text>
</g>
<g transform="translate(740.2 711.4)">
<path class="c" d="M104.8 168.7 102.3 169.3 97.3 170.2 95.6 172.7 94 172.2 91.9 169.7 90.2 173.1 88.1 170.6 86.5 174.3 81 176 77.3 177.7 73.1 178.9 69.4 179.9 68.3 181.8 70.2 184.7 69.4 186.2 66.9 186.2 65.6 183.5 65.2 178.9 63.1 178.1 61 176.8 58.1 176.4 54.8 177.1 50.6 178.9 46.5 181 43.5 183.9 41.5 186.8 39 188.9 37.7 192.2 37.1 195.4 38.5 198.1 40.6 200.6 42.3 203.5 45.6 207.2 49 210.6 54 214.3 58.1 218.9 59.8 221.4 61 225.6 61.9 229.7 62.1 234.7 61.5 239.7 60.6 243.9 60.2 246.4 54 249.7 48.1 253.5 45.2 254.1 44.4 254.7 44.8 258.1 42.7 261 38.1 262.2 33.5 266.4 32.3 262.2 32.7 258.5 33.5 256.4 31.5 256 29.4 254.3 28.5 252.7 24.8 252.9 22.3 251.4 20.2 248.9 18.5 245.2 16.9 242.7 13.5 240.2 11.9 238.9 8.1 238.9 5.6 238.1 4.8 233.9M74.4 188.2 71.5 188.1 66.5 188.2 63.1 189.3 59.8 191.4 57.7 193.5 57.3 196.8 58.1 199.3 60.6 201 64 201 67.3 199.3 70.2 196.8 71.9 193.5 73.1 191ZM4.8 277.7 9.8 278.5 12.3 281.4 16.5 284.3 20.2 287.2 23.1 291.4 23 297.2 22.7 304.7 24.8 307.2 26.9 310.6 28.5 314.7 24.8 315.2 21.5 313.5 16.5 310.6 12.3 308.5 9.8 305.6 9 302.2 4.8 298.1M4.8 309.7 8.1 309.3 10.6 311.4 13.1 312.7 15.6 314.7 18.5 316.4 21.5 318.5M59.6 318.9 60.6 313.9 63.5 311 68.1 313.1 74 313.9 76.9 305.2 83.1 304.3 86.5 302.7 89 298.9 92.3 296 95.6 292.7 98.1 291.4 103.1 291 104 288.5 107.3 285.6 109 281.8 111.9 279.7 114 277.2M138.4 198.7 141.2 198 143.7 199.2 146.6 200 148.4 199.2 150 198.7 149.4 202.7 149.2 206.2 151.2 209.1 150.5 212 148.4 214.8 145.5 217 143.9 219.1 143.7 221.6 144.7 224.5 145.5 227.3 146.6 230.2 149.1 230.5 151.2 228.7 154.1 229 157.7 230.2 161.2 231.8 159.4 233.4 160.4 235.9 161.9 237.7 159.8 237.5 157.7 235.9 156.2 233.4 154.8 232 152.8 231.2 151.6 232 152.8 233.4 152.5 236.2 151.6 237 150.2 234.5 148.7 232 146.9 230.9 144.8 231.2 143 232.3 141.9 233.4 140.2 233.7 138.9 232.3 138.9 230.5 139.8 228.7 140.9 227.3 138.9 225.4 138 225.9 136.6 225 134.8 224.1 134.1 220.5 133.4 216.2 133 215.4 134.8 214.8 136.2 216.2 136.9 212.7 137.7 208.4 136.4 205.5 137.3 202.7ZM137.3 234.5 139.8 234.1 141.9 234.8 143.7 236.2 144.4 238.7 144.1 241.2 141.9 243 140.2 240.2 138.7 237ZM130.9 248.4 132.3 252.7 129.8 255.5 126.2 258.4 121.9 263.7 119.1 266.2 116.2 268 115.5 267 118.4 263.7 122.7 260.5 126.2 257 129.1 252.7ZM164.1 240.5 166.9 240.2 169.8 239.8 171.2 242 171.6 245.5 172.3 249.1 169.1 249.8 167.7 251.2 168.7 254.1 169.4 255.5 166.9 255.9 165.5 253.4 164.1 252 164.4 249.1 166.9 247.7 168.4 245.5 167.7 243.7 165.5 243ZM146.9 244.8 150.5 245.5 151.9 247 155.2 247.3 155.9 249.8 157.7 252 159.8 252.3 161.2 249.8 161.2 252.7 161.9 254.8 163.4 256.2 164.1 258.4 161.9 259.5 160.2 258 158 259.1 156.2 260.2 156.6 262 155.2 264.1 153.4 262 151.6 259.5 150.5 258.4 152.3 257 152.7 254.1 150.5 252.7 147.7 252.3 146.9 249.8 147.7 247.7ZM170.5 259.1 172.7 259.8 175.2 262.3 176.9 264.8 177.3 268.4 178.4 272 178.7 274.8 177.7 277.7 176.2 279.8 175.5 282.3 174.4 279.8 173.7 277.3 172.7 275.5 170.9 277.7 169.8 279.5 171.6 281.6 172.7 284.1 171.6 285.9 170.5 287.3 168.4 285.9 165.5 285.2 162.7 283.4 160.9 282 160.5 279.1 161.9 277.7 161.9 275.5 160.2 274.1 158 273 156.2 274.1 154.1 274.8 153.4 273.4 151.6 273 149.8 274.1 149.1 276.6 148 279.1 147.3 277 147.3 274.1 148 271.6 149.8 270.5 152.3 269.5 154.1 267.7 155.9 266.6 157.7 266.2 159.4 267.7 160.9 269.8 162.7 268.4 165.2 267.3 166.2 264.5 168.7 264.8 170.2 263ZM112.3 279.8 114.1 277.7 116.2 279.5 118.7 280.9 119.1 283.4 118.4 285.2 122.7 287.3 126.2 288.7 129.4 290.2 125.5 291.2 121.9 292.3 123.4 293.7 124.8 294.8 120.2 295.9 119.4 299.8 117.3 302.7 118.7 306.2 120.9 308.7 119.4 310.9 121.9 313.4 125.5 315.9 128 319.1M138.9 319.1 140.2 315.9 144.8 317 149.1 317.7 154.1 318 159.1 317.7 162.7 317 165.5 315.2 167.7 313 169.8 314.5 167.7 317 165.5 319.1M183.4 319.1 184.1 314.1 185.5 310.9 187.7 309.5 188.4 312.3 187.7 314.5 189.8 315.5 191.2 314.1 193 313.7 193.2 319.1M139.5 174.5 139.9 175.1M136 83.4 137.7 88.4 139.4 94.2 140.2 97.6 143.1 98.8 145.6 100.9 146.9 103.4 143.1 104.2 145.6 106.3 147.3 108 147.7 109.7 144 110.5 140.6 112.2 136.9 114.1 139.8 114.7 143.1 113.8 146.5 115.5 148.5 116.7 147.7 122.2 145.6 122.6 144.6 127.2 145.2 128.8 142.3 129.7 140.6 130.1 138.5 134.2 136.5 138 134 140.9 131.9 140.5 132.7 144.2 131.5 147.6 128.5 150.9 126.3 152.6 125.2 155.5 122.7 155.9 121.9 158.4 116.5 162.2 111.5 165.5 108.1 167.6 104.8 168.4M144.8 150.5 146.9 151.3 147.7 154.2 146.9 158.4 145.6 162.6 144.4 166.7 141.9 170.5 140.2 174.2 139 173 137.3 170.1 135.6 166.7 135.2 162.6 136.9 158.8 139 155.1 141.5 151.7ZM197.3 129.1 199.4 127.7M186 144.4 187.7 141.7 189.4 139.7M186.9 143.8 188.5 141.7M240.6 3.5 239.8 6.5 237.3 11 233.1 13.5 228.1 16 224.8 18.1 221.9 19.4 218.1 17.7 216.5 16.5 217.3 14 213.1 14 211.5 16 209.8 19 207.7 20.2 206.5 20.2 206 22.3 201.5 23.5 198.5 26.9 198.1 28.5 199.4 31 199.8 33.5 196.5 34.8 193.1 36.9 189 39.4 185.6 41 182.7 41.9 184.4 44.4 183.1 46 187.3 48.5 190.6 52.7 193.1 56 195.6 60.2 196.9 64.4 197.7 69.4 197.3 73.5 195.6 77.3 192.3 79 186.5 80.2 181.5 81.9 178.1 84.8 176.9 80.2 176.5 76.9 178.1 74.8 177.7 74 179.8 73.5 178.5 69.4 176.5 64.8 175.2 64.4 179.8 64 178.5 61 176.5 58.5 174.8 58.1 172.3 58.1 169.8 59 167.3 57.3 165.6 55.6 167.3 52.7 168.5 48.5 170.6 45.2 167.3 43.5 164.8 42.7 161.5 41.6 158.1 41.9 154 43.1 150.6 44.4 148.5 46.9 146.5 49 144 50 141.5 50.6 144 48.1 145.2 46.5 143.1 45.2 143.1 43.1 145.6 40.2 148.1 39 149.4 36.9 147.7 34 144.8 33.1 142.3 32.9 139.8 35.2 136.5 38.7 133.1 40.2 130.2 41.9 128.5 45.2 126.5 46.9 123.1 47.3 120.2 46.5 118.5 48.1 117.7 51 119.4 53.5 123.1 56 126.5 58.1 127.3 61 129.4 62.7 132.3 63.1 134.8 61 136.9 59 139.8 58.1 141.5 59.8 144.8 60.6 149 61 151.5 61.7 150.2 65.2 148.1 64.4 146 65.2 142.3 66.5 139.8 67.3 138.5 70.6 135.6 71.9 132.3 74 130.2 76.9 128.5 80.6 133.1 82.3 136 83.4M280.5 4.6 278 8.7 276.8 11.2 277.6 13.7 276.8 15.4 273 14.6 270.1 14.2 270.9 17.1 268.4 19.2 266.4 21.2 267.2 24.6 268 29.2 270.9 27.5 273.9 26.2 275.9 25.4 273 23.7 270.5 22.5 270.1 20.4 273 20.8 276.4 20 280.5 19.2 284.7 21.2 290.1 24.6 290.9 20.8 294.3 17.5 297.2 15.8 300.5 16.2 303.9 14.6 308.4 12.9 305.5 12.1 303.4 10.4 304.3 7.9 302.2 8.7 298 8.3 293.9 7.5 288.9 5M305.5 9.6 310.9 5M269.7 31.7 271.8 33.3 273 29.6 276.8 29.2 278 30.8 277.6 33.7 280.1 37.1 281.4 40.4 281.8 43.7 280.9 47.1 279.7 50.4 278.9 53.3 275.9 52.9 274.7 55.4 275.1 60.4 273.9 64.6 272.6 67.1 272.2 70 273.4 72.9 272.2 75.4 270.5 78.3 267.6 80 266.4 80 267.6 77.1 267.2 75 264.7 76.2 262.6 76.7 261.8 78.7 260.5 82.5 259.3 79.2 256.4 81.2 253.9 82.1 250.1 81.7 248 80.4 246.4 79.2 245.1 81.2 246.8 84.2 243.9 86.2 241.4 89.2 239.7 91.2 237.2 90.4 235.9 87.1 235.5 82.9 237.2 80.8 231.4 80.2 226.4 81.7 221.4 82.9 217.2 84.6 213.9 85.8 210.5 86.2 207.6 86.2 207.2 84.2 208.9 82.5 212.6 80.4 216.4 77.9 220.1 75 226.4 74.2 232.2 73.6 236.8 72.9 239.3 75.4 241.8 74.6 240.9 71.7 243 68.3 245.5 65 246.4 62.1 249.3 60 248 65.8 251.8 64.6 256.4 62.9 259.7 60 260.5 57.5 263.4 55.8 264.7 53.7 266.4 50 268 46.7 268.9 42.1 268.4 37.1 268.9 33.7ZM216.4 87.1 219.7 85.4 223.9 84.6 228 83.7 231.4 84.6 232.6 86.2 231.4 89.2 228.9 92.5 226.8 90.8 224.3 90.8 222.2 92.9 220.9 96.2 218 95.4 216.4 92.9 217.2 90ZM207.6 87.5 210.5 87.9 213.9 88.7 214.7 92.1 213.4 96.2 211.8 100.4 210.9 105.4 208.4 107.9 205.9 109.2 202.2 107.9 202.2 102.1 204.3 99.2 203.9 94.6 202.2 93.3 202.6 96.2 198.9 96.2 197.6 92.5 200.1 90.4 203.9 88.7Z"/>
<path d="M0 0H537.2 V324.3 H0Z M5.4 5.4 V318.9 H531.8 V5.4Z" fill="#fff" fill-rule="evenodd"/><path d="M2.7 323H100.7M100.7 4.1H201.5M201.5 323H235M235 4.1H268.6M268.6 323H335.8M335.8 4.1H402.9M402.9 323H470.1M470.1 4.1H534.5M1.3 321.6V256.9M533.1 256.9V188.2M1.3 188.2V116.7M533.1 116.7V40.5M1.3 40.5V20.5M533.1 20.5V2.7" stroke="#8c8c8c" stroke-width="1.5" fill="none"/><path d="M2.7 321.3H100.7M100.7 2.4H201.5M201.5 321.3H235M235 2.4H268.6M268.6 321.3H335.8M335.8 2.4H402.9M402.9 321.3H470.1M470.1 2.4H534.5M3 321.6V256.9M534.8 256.9V188.2M3 188.2V116.7M534.8 116.7V40.5M3 40.5V20.5M534.8 20.5V2.7" stroke="#000" stroke-width="2.1" fill="none"/><path d="M0 0H537.2V324.3H0ZM5.4 5.4H531.8V318.9H5.4ZM0 0L5.4 5.4M537.2 0L531.8 5.4M0 324.3L5.4 318.9M537.2 324.3L531.8 318.9M100.7 0V5.4M100.7 318.9V324.3M201.5 0V5.4M201.5 318.9V324.3M235 0V5.4M235 318.9V324.3M268.6 0V5.4M268.6 318.9V324.3M335.8 0V5.4M335.8 318.9V324.3M402.9 0V5.4M402.9 318.9V324.3M470.1 0V5.4M470.1 318.9V324.3M0 256.9H5.4M531.8 256.9H537.2M0 188.2H5.4M531.8 188.2H537.2M0 116.7H5.4M531.8 116.7H537.2M0 40.5H5.4M531.8 40.5H537.2M0 20.5H5.4M531.8 20.5H537.2" stroke="#111" stroke-width="1.1" fill="none"/><path d="M0 -5.6V0M0 324.3V329.9M201.5 -5.6V0M201.5 324.3V329.9M268.6 -5.6V0M268.6 324.3V329.9M402.9 -5.6V0M402.9 324.3V329.9M-5.6 324.3H0M537.2 324.3H542.8M-5.6 188.2H0M537.2 188.2H542.8M-5.6 40.5H0M537.2 40.5H542.8" stroke="#000" stroke-width="2" fill="none"/>
<path class="m" d="M390 -0.4 384.8 4.8 379.7 9.5 374.5 13.8 369.3 18.1 365 23.7 360.7 29.8 356.4 35.8 352.1 41.8 347.8 47.8 343.5 53.9 339.2 59.9 334.9 66.8 331.5 72.8 328.9 78.8 326.7 84.9 326.3 90 326.7 96 328.4 102.1 331 108.1 333.6 113.3 335.8 118.4 337.9 123.6 340.1 128.8 342.2 133.9 343.9 139.1 344.8 144.3 345.7 150.3 346.1 156.3 345.9 162.3 345.2 167.5 343.5 172.7 342.2 176.1"/>
<path class="b" d="M339.2 53 343.5 51.7 347.8 51.3 350.4 52.6 353 55.6 357.3 59 362.4 62.5 367.2 65.1M341.8 53.9 346.9 53M337.5 81 342.6 81.4 347.8 81.4 353 82.7 357.3 84.9 360.7 88.3 363.3 92.6 364.2 97.8 365.9 102.1 369.3 105.5 372.8 108.1 374.5 109.8M298.3 94.8 302.2 91.7 306.5 87.9 310.8 85.3 315.1 84.4 319.4 86.1 323.7 90 326.7 95.2 327.6 100.4 326.3 104.7 323.7 107.2 320.3 108.1 316.8 108.5 314.2 107.2 311.7 104.7 310.4 101.2 309.1 98.6M320.3 108.1 320.3 112.4 322 115.8 323.7 114.1M297 129.6 301.3 127 306.5 126.2 311.7 126.6 316 127.9 318.5 130.5 320.3 126.2 323.7 122.7 327.1 122.7 331.5 124.5 334.9 127.9 340.1 130.5 345.2 133.1 350.4 135.6M316.8 131.3 321.1 134.8 325.4 133.1 328 135.6 326.3 140 327.1 144.3 328 147.7M303 141.7 307.3 140 312.5 139.1 317.7 140 322.8 140 326.3 141.7M303.9 148.6 309.1 147.7 314.2 146.8 318.5 145.1 322.8 143.4M319.4 133.1 320.3 138.2 321.1 143.4 322.8 148.6 325.4 153.7M316 134.8 317.7 141.7M324.6 150.3 320.3 152.9 316.8 156.3 315.1 160.6 316.8 164.9 318.5 162.3 321.1 159.8M359 135.6 361.6 135.2 359.9 139.1 357.3 141.7M373.6 151.1 369.3 147.7 365.9 144.3 361.6 143.4 357.3 143.4 353 144.3 348.7 146.4 344.4 148.6 340.1 151.1 340.9 153.7 344.4 156.3 347.8 157.2M356.4 154.6 361.6 154.2 366.8 153.7 371.1 154.6 373.6 157.2 374.5 161.5 374.1 165.8 372.3 168.4 375.4 169.2 379.7 167.5M362.4 154.6 363.7 158.9 364.6 163.2 363.3 167.5 360.7 170.5 356.4 171.8 352.1 173.1 355.6 169.2"/>
<text class="n" x="13" y="58.4">Tokage</text>
<text class="n i" transform="translate(13 125.5) scale(1 1.04)">N</text><text class="n s" x="47.5" y="147.6">d</text><text class="n" transform="translate(69.5 125.5) scale(1 1.04)">=16</text>
</g>
<g transform="translate(1353.1 711.4)">
<path class="c" d="M104.8 168.7 102.3 169.3 97.3 170.2 95.6 172.7 94 172.2 91.9 169.7 90.2 173.1 88.1 170.6 86.5 174.3 81 176 77.3 177.7 73.1 178.9 69.4 179.9 68.3 181.8 70.2 184.7 69.4 186.2 66.9 186.2 65.6 183.5 65.2 178.9 63.1 178.1 61 176.8 58.1 176.4 54.8 177.1 50.6 178.9 46.5 181 43.5 183.9 41.5 186.8 39 188.9 37.7 192.2 37.1 195.4 38.5 198.1 40.6 200.6 42.3 203.5 45.6 207.2 49 210.6 54 214.3 58.1 218.9 59.8 221.4 61 225.6 61.9 229.7 62.1 234.7 61.5 239.7 60.6 243.9 60.2 246.4 54 249.7 48.1 253.5 45.2 254.1 44.4 254.7 44.8 258.1 42.7 261 38.1 262.2 33.5 266.4 32.3 262.2 32.7 258.5 33.5 256.4 31.5 256 29.4 254.3 28.5 252.7 24.8 252.9 22.3 251.4 20.2 248.9 18.5 245.2 16.9 242.7 13.5 240.2 11.9 238.9 8.1 238.9 5.6 238.1 4.8 233.9M74.4 188.2 71.5 188.1 66.5 188.2 63.1 189.3 59.8 191.4 57.7 193.5 57.3 196.8 58.1 199.3 60.6 201 64 201 67.3 199.3 70.2 196.8 71.9 193.5 73.1 191ZM4.8 277.7 9.8 278.5 12.3 281.4 16.5 284.3 20.2 287.2 23.1 291.4 23 297.2 22.7 304.7 24.8 307.2 26.9 310.6 28.5 314.7 24.8 315.2 21.5 313.5 16.5 310.6 12.3 308.5 9.8 305.6 9 302.2 4.8 298.1M4.8 309.7 8.1 309.3 10.6 311.4 13.1 312.7 15.6 314.7 18.5 316.4 21.5 318.5M59.6 318.9 60.6 313.9 63.5 311 68.1 313.1 74 313.9 76.9 305.2 83.1 304.3 86.5 302.7 89 298.9 92.3 296 95.6 292.7 98.1 291.4 103.1 291 104 288.5 107.3 285.6 109 281.8 111.9 279.7 114 277.2M138.4 198.7 141.2 198 143.7 199.2 146.6 200 148.4 199.2 150 198.7 149.4 202.7 149.2 206.2 151.2 209.1 150.5 212 148.4 214.8 145.5 217 143.9 219.1 143.7 221.6 144.7 224.5 145.5 227.3 146.6 230.2 149.1 230.5 151.2 228.7 154.1 229 157.7 230.2 161.2 231.8 159.4 233.4 160.4 235.9 161.9 237.7 159.8 237.5 157.7 235.9 156.2 233.4 154.8 232 152.8 231.2 151.6 232 152.8 233.4 152.5 236.2 151.6 237 150.2 234.5 148.7 232 146.9 230.9 144.8 231.2 143 232.3 141.9 233.4 140.2 233.7 138.9 232.3 138.9 230.5 139.8 228.7 140.9 227.3 138.9 225.4 138 225.9 136.6 225 134.8 224.1 134.1 220.5 133.4 216.2 133 215.4 134.8 214.8 136.2 216.2 136.9 212.7 137.7 208.4 136.4 205.5 137.3 202.7ZM137.3 234.5 139.8 234.1 141.9 234.8 143.7 236.2 144.4 238.7 144.1 241.2 141.9 243 140.2 240.2 138.7 237ZM130.9 248.4 132.3 252.7 129.8 255.5 126.2 258.4 121.9 263.7 119.1 266.2 116.2 268 115.5 267 118.4 263.7 122.7 260.5 126.2 257 129.1 252.7ZM164.1 240.5 166.9 240.2 169.8 239.8 171.2 242 171.6 245.5 172.3 249.1 169.1 249.8 167.7 251.2 168.7 254.1 169.4 255.5 166.9 255.9 165.5 253.4 164.1 252 164.4 249.1 166.9 247.7 168.4 245.5 167.7 243.7 165.5 243ZM146.9 244.8 150.5 245.5 151.9 247 155.2 247.3 155.9 249.8 157.7 252 159.8 252.3 161.2 249.8 161.2 252.7 161.9 254.8 163.4 256.2 164.1 258.4 161.9 259.5 160.2 258 158 259.1 156.2 260.2 156.6 262 155.2 264.1 153.4 262 151.6 259.5 150.5 258.4 152.3 257 152.7 254.1 150.5 252.7 147.7 252.3 146.9 249.8 147.7 247.7ZM170.5 259.1 172.7 259.8 175.2 262.3 176.9 264.8 177.3 268.4 178.4 272 178.7 274.8 177.7 277.7 176.2 279.8 175.5 282.3 174.4 279.8 173.7 277.3 172.7 275.5 170.9 277.7 169.8 279.5 171.6 281.6 172.7 284.1 171.6 285.9 170.5 287.3 168.4 285.9 165.5 285.2 162.7 283.4 160.9 282 160.5 279.1 161.9 277.7 161.9 275.5 160.2 274.1 158 273 156.2 274.1 154.1 274.8 153.4 273.4 151.6 273 149.8 274.1 149.1 276.6 148 279.1 147.3 277 147.3 274.1 148 271.6 149.8 270.5 152.3 269.5 154.1 267.7 155.9 266.6 157.7 266.2 159.4 267.7 160.9 269.8 162.7 268.4 165.2 267.3 166.2 264.5 168.7 264.8 170.2 263ZM112.3 279.8 114.1 277.7 116.2 279.5 118.7 280.9 119.1 283.4 118.4 285.2 122.7 287.3 126.2 288.7 129.4 290.2 125.5 291.2 121.9 292.3 123.4 293.7 124.8 294.8 120.2 295.9 119.4 299.8 117.3 302.7 118.7 306.2 120.9 308.7 119.4 310.9 121.9 313.4 125.5 315.9 128 319.1M138.9 319.1 140.2 315.9 144.8 317 149.1 317.7 154.1 318 159.1 317.7 162.7 317 165.5 315.2 167.7 313 169.8 314.5 167.7 317 165.5 319.1M183.4 319.1 184.1 314.1 185.5 310.9 187.7 309.5 188.4 312.3 187.7 314.5 189.8 315.5 191.2 314.1 193 313.7 193.2 319.1M139.5 174.5 139.9 175.1M136 83.4 137.7 88.4 139.4 94.2 140.2 97.6 143.1 98.8 145.6 100.9 146.9 103.4 143.1 104.2 145.6 106.3 147.3 108 147.7 109.7 144 110.5 140.6 112.2 136.9 114.1 139.8 114.7 143.1 113.8 146.5 115.5 148.5 116.7 147.7 122.2 145.6 122.6 144.6 127.2 145.2 128.8 142.3 129.7 140.6 130.1 138.5 134.2 136.5 138 134 140.9 131.9 140.5 132.7 144.2 131.5 147.6 128.5 150.9 126.3 152.6 125.2 155.5 122.7 155.9 121.9 158.4 116.5 162.2 111.5 165.5 108.1 167.6 104.8 168.4M144.8 150.5 146.9 151.3 147.7 154.2 146.9 158.4 145.6 162.6 144.4 166.7 141.9 170.5 140.2 174.2 139 173 137.3 170.1 135.6 166.7 135.2 162.6 136.9 158.8 139 155.1 141.5 151.7ZM197.3 129.1 199.4 127.7M186 144.4 187.7 141.7 189.4 139.7M186.9 143.8 188.5 141.7M240.6 3.5 239.8 6.5 237.3 11 233.1 13.5 228.1 16 224.8 18.1 221.9 19.4 218.1 17.7 216.5 16.5 217.3 14 213.1 14 211.5 16 209.8 19 207.7 20.2 206.5 20.2 206 22.3 201.5 23.5 198.5 26.9 198.1 28.5 199.4 31 199.8 33.5 196.5 34.8 193.1 36.9 189 39.4 185.6 41 182.7 41.9 184.4 44.4 183.1 46 187.3 48.5 190.6 52.7 193.1 56 195.6 60.2 196.9 64.4 197.7 69.4 197.3 73.5 195.6 77.3 192.3 79 186.5 80.2 181.5 81.9 178.1 84.8 176.9 80.2 176.5 76.9 178.1 74.8 177.7 74 179.8 73.5 178.5 69.4 176.5 64.8 175.2 64.4 179.8 64 178.5 61 176.5 58.5 174.8 58.1 172.3 58.1 169.8 59 167.3 57.3 165.6 55.6 167.3 52.7 168.5 48.5 170.6 45.2 167.3 43.5 164.8 42.7 161.5 41.6 158.1 41.9 154 43.1 150.6 44.4 148.5 46.9 146.5 49 144 50 141.5 50.6 144 48.1 145.2 46.5 143.1 45.2 143.1 43.1 145.6 40.2 148.1 39 149.4 36.9 147.7 34 144.8 33.1 142.3 32.9 139.8 35.2 136.5 38.7 133.1 40.2 130.2 41.9 128.5 45.2 126.5 46.9 123.1 47.3 120.2 46.5 118.5 48.1 117.7 51 119.4 53.5 123.1 56 126.5 58.1 127.3 61 129.4 62.7 132.3 63.1 134.8 61 136.9 59 139.8 58.1 141.5 59.8 144.8 60.6 149 61 151.5 61.7 150.2 65.2 148.1 64.4 146 65.2 142.3 66.5 139.8 67.3 138.5 70.6 135.6 71.9 132.3 74 130.2 76.9 128.5 80.6 133.1 82.3 136 83.4M280.5 4.6 278 8.7 276.8 11.2 277.6 13.7 276.8 15.4 273 14.6 270.1 14.2 270.9 17.1 268.4 19.2 266.4 21.2 267.2 24.6 268 29.2 270.9 27.5 273.9 26.2 275.9 25.4 273 23.7 270.5 22.5 270.1 20.4 273 20.8 276.4 20 280.5 19.2 284.7 21.2 290.1 24.6 290.9 20.8 294.3 17.5 297.2 15.8 300.5 16.2 303.9 14.6 308.4 12.9 305.5 12.1 303.4 10.4 304.3 7.9 302.2 8.7 298 8.3 293.9 7.5 288.9 5M305.5 9.6 310.9 5M269.7 31.7 271.8 33.3 273 29.6 276.8 29.2 278 30.8 277.6 33.7 280.1 37.1 281.4 40.4 281.8 43.7 280.9 47.1 279.7 50.4 278.9 53.3 275.9 52.9 274.7 55.4 275.1 60.4 273.9 64.6 272.6 67.1 272.2 70 273.4 72.9 272.2 75.4 270.5 78.3 267.6 80 266.4 80 267.6 77.1 267.2 75 264.7 76.2 262.6 76.7 261.8 78.7 260.5 82.5 259.3 79.2 256.4 81.2 253.9 82.1 250.1 81.7 248 80.4 246.4 79.2 245.1 81.2 246.8 84.2 243.9 86.2 241.4 89.2 239.7 91.2 237.2 90.4 235.9 87.1 235.5 82.9 237.2 80.8 231.4 80.2 226.4 81.7 221.4 82.9 217.2 84.6 213.9 85.8 210.5 86.2 207.6 86.2 207.2 84.2 208.9 82.5 212.6 80.4 216.4 77.9 220.1 75 226.4 74.2 232.2 73.6 236.8 72.9 239.3 75.4 241.8 74.6 240.9 71.7 243 68.3 245.5 65 246.4 62.1 249.3 60 248 65.8 251.8 64.6 256.4 62.9 259.7 60 260.5 57.5 263.4 55.8 264.7 53.7 266.4 50 268 46.7 268.9 42.1 268.4 37.1 268.9 33.7ZM216.4 87.1 219.7 85.4 223.9 84.6 228 83.7 231.4 84.6 232.6 86.2 231.4 89.2 228.9 92.5 226.8 90.8 224.3 90.8 222.2 92.9 220.9 96.2 218 95.4 216.4 92.9 217.2 90ZM207.6 87.5 210.5 87.9 213.9 88.7 214.7 92.1 213.4 96.2 211.8 100.4 210.9 105.4 208.4 107.9 205.9 109.2 202.2 107.9 202.2 102.1 204.3 99.2 203.9 94.6 202.2 93.3 202.6 96.2 198.9 96.2 197.6 92.5 200.1 90.4 203.9 88.7Z"/>
<path d="M0 0H537.2 V324.3 H0Z M5.4 5.4 V318.9 H531.8 V5.4Z" fill="#fff" fill-rule="evenodd"/><path d="M2.7 323H100.7M100.7 4.1H201.5M201.5 323H235M235 4.1H268.6M268.6 323H335.8M335.8 4.1H402.9M402.9 323H470.1M470.1 4.1H534.5M1.3 321.6V256.9M533.1 256.9V188.2M1.3 188.2V116.7M533.1 116.7V40.5M1.3 40.5V20.5M533.1 20.5V2.7" stroke="#8c8c8c" stroke-width="1.5" fill="none"/><path d="M2.7 321.3H100.7M100.7 2.4H201.5M201.5 321.3H235M235 2.4H268.6M268.6 321.3H335.8M335.8 2.4H402.9M402.9 321.3H470.1M470.1 2.4H534.5M3 321.6V256.9M534.8 256.9V188.2M3 188.2V116.7M534.8 116.7V40.5M3 40.5V20.5M534.8 20.5V2.7" stroke="#000" stroke-width="2.1" fill="none"/><path d="M0 0H537.2V324.3H0ZM5.4 5.4H531.8V318.9H5.4ZM0 0L5.4 5.4M537.2 0L531.8 5.4M0 324.3L5.4 318.9M537.2 324.3L531.8 318.9M100.7 0V5.4M100.7 318.9V324.3M201.5 0V5.4M201.5 318.9V324.3M235 0V5.4M235 318.9V324.3M268.6 0V5.4M268.6 318.9V324.3M335.8 0V5.4M335.8 318.9V324.3M402.9 0V5.4M402.9 318.9V324.3M470.1 0V5.4M470.1 318.9V324.3M0 256.9H5.4M531.8 256.9H537.2M0 188.2H5.4M531.8 188.2H537.2M0 116.7H5.4M531.8 116.7H537.2M0 40.5H5.4M531.8 40.5H537.2M0 20.5H5.4M531.8 20.5H537.2" stroke="#111" stroke-width="1.1" fill="none"/><path d="M0 -5.6V0M0 324.3V329.9M201.5 -5.6V0M201.5 324.3V329.9M268.6 -5.6V0M268.6 324.3V329.9M402.9 -5.6V0M402.9 324.3V329.9M-5.6 324.3H0M537.2 324.3H542.8M-5.6 188.2H0M537.2 188.2H542.8M-5.6 40.5H0M537.2 40.5H542.8" stroke="#000" stroke-width="2" fill="none"/>
<path class="m" d="M286.9 136.9 278 137.4 267.6 137.9 257.2 139 246.7 139.5 236.3 140 225.9 141.1 216.5 142.6 208.2 144.7 199.8 147.3 192.6 151 186.3 155.1 180 159.8 175.9 164.5 173.3 169.7 172.2 174.9 171.5 179.6 168.6 177 165.5 173.9 164.9 169.7 167 164.5 167 159.3 166 154.1 164.9 147.8 164.9 141.6 165.3 137.4 163.9 134.3 164.4 129.1 165.5 122.8 167 116.6 169.1 111.4 171.7 106.2 175.9 100.9 179.5 95.7 182.1 91.6 186.3 86.4 191.5 81.1 196.7 75.9 201.9 71.2 207.1 66.5 211.3 61.9 215.5 56.1 219.7 50.4 223.8 43.6 228 37.4 232.2 31.1 236.3 24.9 240.5 18.6 244.7 12.4 248.8 6.1 253 -0.1M285.2 135.3 290.2 134.6 298.6 134.6 306.9 135.3 315.2 136.5 321.9 139 327.7 142.4 332.7 146.9 336.9 152.8 340.2 157.8 343.2 160.7"/>
<path class="b" d="M169.1 163.5 164.4 166.1 159.2 170.8 154.5 176 150.3 180.7 153.5 184.3 157.1 189.5 162.3 192.1 167.5 194.2 170.7 196.8 170.7 201 168.6 205.2 166.5 208.3M206.1 191.1 199.8 193.7 193.6 196.8 190.5 199.9 192 204.1 196.7 205.7 200.9 204.1 205.1 199.9 210.3 194.7 214.4 190.6 218.1 187.4M247.8 159.3 242.6 160.3 237.4 161.4 233.2 164.5 231.1 167.6 232.2 171.8 234.2 176 236.3 178.6M241.5 164.5 246.7 162.9 244.7 166.6 241.5 164.5M222.8 122.8 226.9 124.9 231.1 126.5 233.7 130.1 236.3 133.8 240.5 135.3 245.7 133.2 250.9 130.1 256.1 128 261.3 127.5 265.5 129.1 268.6 132.2 271.8 134.3 275.9 134.8M276.9 106.1 273.6 104.4 270.2 104.9 267.7 107.8 270.2 111.1 272.7 113.6 273.6 117.8 276.9 119.4 279.4 121.9 279.8 126.1 277.7 127.8 280.2 130.3 284.4 131.9M256.9 127.8 261.1 127.8 265.2 129.4 268.6 132.8 271.9 135.3 276.1 136.1M269.4 140.3 270.2 143.6 273.6 146.1 277.7 146.9 281.9 146.1M262.7 159 267.7 156.9 272.7 154.4 277.7 151.9 282.7 149.4M286.1 128.6 291.9 128.6 296.9 126.9 301.9 125.3 306.9 123.6 311.1 122.8 315.2 121.9 320.2 123.6 325.2 122.8 330.2 123.2 333.6 126.1 338.6 128.6M306.9 103.6 303.6 106.1 302.7 110.3 305.2 112.8 309.4 113.2 312.7 111.1 316.1 107.8 319.4 107.8 321.9 110.3 323.6 114.4 321.9 116.9 318.6 115.3M313.6 120.3 315.2 125.3 316.9 130.3 318.6 135.3 319.4 140.3 318.6 144.4M290.2 136.9 294.4 140.3 298.6 141.9 303.6 141.9 308.6 141.1 313.6 142.8 316.9 145.3M286.1 141.9 290.2 144.4 294.4 146.9 298.6 149.4 303.6 151.1 308.6 150.3M296.9 151.9 301.9 153.6 306.9 154.4 308.6 155.7M288.6 138.6 285.2 143.6 281.9 148.6 280.2 153.6 281.1 160.3 282.7 165.3M291.9 141.9 290.2 148.6 289.4 155.3 290.2 161.9 291.9 168.6M295.2 145.3 294.4 151.9 295.2 158.6 296.9 165.3 297.7 169.4M284.4 136.9 288.6 135.3 293.6 136.1 300.2 138.6 306.9 140.3 311.9 139.4M303.6 139.4 308.6 138.6 313.6 140.3M286.9 139.4 291.9 139.4 296.9 140.3M323.6 131.9 328.6 135.3 331.9 138.6 330.2 143.6 327.7 147.8 325.2 151.9 322.7 156.1 320.2 160.3 317.7 164.4 316.9 166.9 315.2 161.9 314.4 159.4M343.6 133.6 339.4 136.9 335.2 140.3 331.9 144.4M321.9 131.9 323.6 136.9 324.4 142.8M307.7 161.9 310.2 166.1 313.6 171.1 315.2 176.1 316.9 181.1 320.2 182.8 322.7 185.3M360.2 135.3 356.9 136.9 355.2 140.3 351.1 142.8 346.9 143.6 343.6 146.1 340.2 148.6 340.2 151.9 343.6 154.4 347.7 155.3 350.2 154.9M355.2 141.9 360.2 141.9 365.2 142.8 367.7 144.4M338.6 164.9 341.9 167.8 345.2 171.1 348.6 173.6 352.7 173.6 356.1 171.1 356.9 168.6 359.4 170.3 363.6 169.4 366.1 166.1 366.5 164.4M374.8 156.5 375.7 160.3 375.2 163.6 373.2 166.1 371.9 168.6 374.4 169.4"/>
<path class="r" d="M145.1 179.6 143.6 183.3 145.1 186.4 149.3 187.4 151.9 190.6 154 192.6M144.6 189.5 147.7 193.7 150.3 197.9 153 202 151.9 205.2M149.3 189.5 151.9 194.7 155 198.9 158.7 202 162.3 204.1 163.9 208.3M163.4 202 168.6 201 173.8 198.9 178.5 196.3 180 191.6 179 187.4 180.6 184.3M163.4 205.2 166 206.2"/>
<text class="n" x="13" y="58.4">Hinnamnor</text>
<text class="n i" transform="translate(13 125.5) scale(1 1.04)">N</text><text class="n s" x="47.5" y="147.6">d</text><text class="n" transform="translate(69.5 125.5) scale(1 1.04)">=30</text>
</g>
<g transform="translate(127.3 1062.7)">
<path class="c" d="M104.8 168.7 102.3 169.3 97.3 170.2 95.6 172.7 94 172.2 91.9 169.7 90.2 173.1 88.1 170.6 86.5 174.3 81 176 77.3 177.7 73.1 178.9 69.4 179.9 68.3 181.8 70.2 184.7 69.4 186.2 66.9 186.2 65.6 183.5 65.2 178.9 63.1 178.1 61 176.8 58.1 176.4 54.8 177.1 50.6 178.9 46.5 181 43.5 183.9 41.5 186.8 39 188.9 37.7 192.2 37.1 195.4 38.5 198.1 40.6 200.6 42.3 203.5 45.6 207.2 49 210.6 54 214.3 58.1 218.9 59.8 221.4 61 225.6 61.9 229.7 62.1 234.7 61.5 239.7 60.6 243.9 60.2 246.4 54 249.7 48.1 253.5 45.2 254.1 44.4 254.7 44.8 258.1 42.7 261 38.1 262.2 33.5 266.4 32.3 262.2 32.7 258.5 33.5 256.4 31.5 256 29.4 254.3 28.5 252.7 24.8 252.9 22.3 251.4 20.2 248.9 18.5 245.2 16.9 242.7 13.5 240.2 11.9 238.9 8.1 238.9 5.6 238.1 4.8 233.9M74.4 188.2 71.5 188.1 66.5 188.2 63.1 189.3 59.8 191.4 57.7 193.5 57.3 196.8 58.1 199.3 60.6 201 64 201 67.3 199.3 70.2 196.8 71.9 193.5 73.1 191ZM4.8 277.7 9.8 278.5 12.3 281.4 16.5 284.3 20.2 287.2 23.1 291.4 23 297.2 22.7 304.7 24.8 307.2 26.9 310.6 28.5 314.7 24.8 315.2 21.5 313.5 16.5 310.6 12.3 308.5 9.8 305.6 9 302.2 4.8 298.1M4.8 309.7 8.1 309.3 10.6 311.4 13.1 312.7 15.6 314.7 18.5 316.4 21.5 318.5M59.6 318.9 60.6 313.9 63.5 311 68.1 313.1 74 313.9 76.9 305.2 83.1 304.3 86.5 302.7 89 298.9 92.3 296 95.6 292.7 98.1 291.4 103.1 291 104 288.5 107.3 285.6 109 281.8 111.9 279.7 114 277.2M138.4 198.7 141.2 198 143.7 199.2 146.6 200 148.4 199.2 150 198.7 149.4 202.7 149.2 206.2 151.2 209.1 150.5 212 148.4 214.8 145.5 217 143.9 219.1 143.7 221.6 144.7 224.5 145.5 227.3 146.6 230.2 149.1 230.5 151.2 228.7 154.1 229 157.7 230.2 161.2 231.8 159.4 233.4 160.4 235.9 161.9 237.7 159.8 237.5 157.7 235.9 156.2 233.4 154.8 232 152.8 231.2 151.6 232 152.8 233.4 152.5 236.2 151.6 237 150.2 234.5 148.7 232 146.9 230.9 144.8 231.2 143 232.3 141.9 233.4 140.2 233.7 138.9 232.3 138.9 230.5 139.8 228.7 140.9 227.3 138.9 225.4 138 225.9 136.6 225 134.8 224.1 134.1 220.5 133.4 216.2 133 215.4 134.8 214.8 136.2 216.2 136.9 212.7 137.7 208.4 136.4 205.5 137.3 202.7ZM137.3 234.5 139.8 234.1 141.9 234.8 143.7 236.2 144.4 238.7 144.1 241.2 141.9 243 140.2 240.2 138.7 237ZM130.9 248.4 132.3 252.7 129.8 255.5 126.2 258.4 121.9 263.7 119.1 266.2 116.2 268 115.5 267 118.4 263.7 122.7 260.5 126.2 257 129.1 252.7ZM164.1 240.5 166.9 240.2 169.8 239.8 171.2 242 171.6 245.5 172.3 249.1 169.1 249.8 167.7 251.2 168.7 254.1 169.4 255.5 166.9 255.9 165.5 253.4 164.1 252 164.4 249.1 166.9 247.7 168.4 245.5 167.7 243.7 165.5 243ZM146.9 244.8 150.5 245.5 151.9 247 155.2 247.3 155.9 249.8 157.7 252 159.8 252.3 161.2 249.8 161.2 252.7 161.9 254.8 163.4 256.2 164.1 258.4 161.9 259.5 160.2 258 158 259.1 156.2 260.2 156.6 262 155.2 264.1 153.4 262 151.6 259.5 150.5 258.4 152.3 257 152.7 254.1 150.5 252.7 147.7 252.3 146.9 249.8 147.7 247.7ZM170.5 259.1 172.7 259.8 175.2 262.3 176.9 264.8 177.3 268.4 178.4 272 178.7 274.8 177.7 277.7 176.2 279.8 175.5 282.3 174.4 279.8 173.7 277.3 172.7 275.5 170.9 277.7 169.8 279.5 171.6 281.6 172.7 284.1 171.6 285.9 170.5 287.3 168.4 285.9 165.5 285.2 162.7 283.4 160.9 282 160.5 279.1 161.9 277.7 161.9 275.5 160.2 274.1 158 273 156.2 274.1 154.1 274.8 153.4 273.4 151.6 273 149.8 274.1 149.1 276.6 148 279.1 147.3 277 147.3 274.1 148 271.6 149.8 270.5 152.3 269.5 154.1 267.7 155.9 266.6 157.7 266.2 159.4 267.7 160.9 269.8 162.7 268.4 165.2 267.3 166.2 264.5 168.7 264.8 170.2 263ZM112.3 279.8 114.1 277.7 116.2 279.5 118.7 280.9 119.1 283.4 118.4 285.2 122.7 287.3 126.2 288.7 129.4 290.2 125.5 291.2 121.9 292.3 123.4 293.7 124.8 294.8 120.2 295.9 119.4 299.8 117.3 302.7 118.7 306.2 120.9 308.7 119.4 310.9 121.9 313.4 125.5 315.9 128 319.1M138.9 319.1 140.2 315.9 144.8 317 149.1 317.7 154.1 318 159.1 317.7 162.7 317 165.5 315.2 167.7 313 169.8 314.5 167.7 317 165.5 319.1M183.4 319.1 184.1 314.1 185.5 310.9 187.7 309.5 188.4 312.3 187.7 314.5 189.8 315.5 191.2 314.1 193 313.7 193.2 319.1M139.5 174.5 139.9 175.1M136 83.4 137.7 88.4 139.4 94.2 140.2 97.6 143.1 98.8 145.6 100.9 146.9 103.4 143.1 104.2 145.6 106.3 147.3 108 147.7 109.7 144 110.5 140.6 112.2 136.9 114.1 139.8 114.7 143.1 113.8 146.5 115.5 148.5 116.7 147.7 122.2 145.6 122.6 144.6 127.2 145.2 128.8 142.3 129.7 140.6 130.1 138.5 134.2 136.5 138 134 140.9 131.9 140.5 132.7 144.2 131.5 147.6 128.5 150.9 126.3 152.6 125.2 155.5 122.7 155.9 121.9 158.4 116.5 162.2 111.5 165.5 108.1 167.6 104.8 168.4M144.8 150.5 146.9 151.3 147.7 154.2 146.9 158.4 145.6 162.6 144.4 166.7 141.9 170.5 140.2 174.2 139 173 137.3 170.1 135.6 166.7 135.2 162.6 136.9 158.8 139 155.1 141.5 151.7ZM197.3 129.1 199.4 127.7M186 144.4 187.7 141.7 189.4 139.7M186.9 143.8 188.5 141.7M240.6 3.5 239.8 6.5 237.3 11 233.1 13.5 228.1 16 224.8 18.1 221.9 19.4 218.1 17.7 216.5 16.5 217.3 14 213.1 14 211.5 16 209.8 19 207.7 20.2 206.5 20.2 206 22.3 201.5 23.5 198.5 26.9 198.1 28.5 199.4 31 199.8 33.5 196.5 34.8 193.1 36.9 189 39.4 185.6 41 182.7 41.9 184.4 44.4 183.1 46 187.3 48.5 190.6 52.7 193.1 56 195.6 60.2 196.9 64.4 197.7 69.4 197.3 73.5 195.6 77.3 192.3 79 186.5 80.2 181.5 81.9 178.1 84.8 176.9 80.2 176.5 76.9 178.1 74.8 177.7 74 179.8 73.5 178.5 69.4 176.5 64.8 175.2 64.4 179.8 64 178.5 61 176.5 58.5 174.8 58.1 172.3 58.1 169.8 59 167.3 57.3 165.6 55.6 167.3 52.7 168.5 48.5 170.6 45.2 167.3 43.5 164.8 42.7 161.5 41.6 158.1 41.9 154 43.1 150.6 44.4 148.5 46.9 146.5 49 144 50 141.5 50.6 144 48.1 145.2 46.5 143.1 45.2 143.1 43.1 145.6 40.2 148.1 39 149.4 36.9 147.7 34 144.8 33.1 142.3 32.9 139.8 35.2 136.5 38.7 133.1 40.2 130.2 41.9 128.5 45.2 126.5 46.9 123.1 47.3 120.2 46.5 118.5 48.1 117.7 51 119.4 53.5 123.1 56 126.5 58.1 127.3 61 129.4 62.7 132.3 63.1 134.8 61 136.9 59 139.8 58.1 141.5 59.8 144.8 60.6 149 61 151.5 61.7 150.2 65.2 148.1 64.4 146 65.2 142.3 66.5 139.8 67.3 138.5 70.6 135.6 71.9 132.3 74 130.2 76.9 128.5 80.6 133.1 82.3 136 83.4M280.5 4.6 278 8.7 276.8 11.2 277.6 13.7 276.8 15.4 273 14.6 270.1 14.2 270.9 17.1 268.4 19.2 266.4 21.2 267.2 24.6 268 29.2 270.9 27.5 273.9 26.2 275.9 25.4 273 23.7 270.5 22.5 270.1 20.4 273 20.8 276.4 20 280.5 19.2 284.7 21.2 290.1 24.6 290.9 20.8 294.3 17.5 297.2 15.8 300.5 16.2 303.9 14.6 308.4 12.9 305.5 12.1 303.4 10.4 304.3 7.9 302.2 8.7 298 8.3 293.9 7.5 288.9 5M305.5 9.6 310.9 5M269.7 31.7 271.8 33.3 273 29.6 276.8 29.2 278 30.8 277.6 33.7 280.1 37.1 281.4 40.4 281.8 43.7 280.9 47.1 279.7 50.4 278.9 53.3 275.9 52.9 274.7 55.4 275.1 60.4 273.9 64.6 272.6 67.1 272.2 70 273.4 72.9 272.2 75.4 270.5 78.3 267.6 80 266.4 80 267.6 77.1 267.2 75 264.7 76.2 262.6 76.7 261.8 78.7 260.5 82.5 259.3 79.2 256.4 81.2 253.9 82.1 250.1 81.7 248 80.4 246.4 79.2 245.1 81.2 246.8 84.2 243.9 86.2 241.4 89.2 239.7 91.2 237.2 90.4 235.9 87.1 235.5 82.9 237.2 80.8 231.4 80.2 226.4 81.7 221.4 82.9 217.2 84.6 213.9 85.8 210.5 86.2 207.6 86.2 207.2 84.2 208.9 82.5 212.6 80.4 216.4 77.9 220.1 75 226.4 74.2 232.2 73.6 236.8 72.9 239.3 75.4 241.8 74.6 240.9 71.7 243 68.3 245.5 65 246.4 62.1 249.3 60 248 65.8 251.8 64.6 256.4 62.9 259.7 60 260.5 57.5 263.4 55.8 264.7 53.7 266.4 50 268 46.7 268.9 42.1 268.4 37.1 268.9 33.7ZM216.4 87.1 219.7 85.4 223.9 84.6 228 83.7 231.4 84.6 232.6 86.2 231.4 89.2 228.9 92.5 226.8 90.8 224.3 90.8 222.2 92.9 220.9 96.2 218 95.4 216.4 92.9 217.2 90ZM207.6 87.5 210.5 87.9 213.9 88.7 214.7 92.1 213.4 96.2 211.8 100.4 210.9 105.4 208.4 107.9 205.9 109.2 202.2 107.9 202.2 102.1 204.3 99.2 203.9 94.6 202.2 93.3 202.6 96.2 198.9 96.2 197.6 92.5 200.1 90.4 203.9 88.7Z"/>
<path d="M0 0H537.2 V324.3 H0Z M5.4 5.4 V318.9 H531.8 V5.4Z" fill="#fff" fill-rule="evenodd"/><path d="M2.7 323H100.7M100.7 4.1H201.5M201.5 323H302.2M302.2 4.1H402.9M402.9 323H470.1M470.1 4.1H534.5M1.3 321.6V256.9M533.1 256.9V188.2M1.3 188.2V116.7M533.1 116.7V40.5M1.3 40.5V20.5M533.1 20.5V2.7" stroke="#8c8c8c" stroke-width="1.5" fill="none"/><path d="M2.7 321.3H100.7M100.7 2.4H201.5M201.5 321.3H302.2M302.2 2.4H402.9M402.9 321.3H470.1M470.1 2.4H534.5M3 321.6V256.9M534.8 256.9V188.2M3 188.2V116.7M534.8 116.7V40.5M3 40.5V20.5M534.8 20.5V2.7" stroke="#000" stroke-width="2.1" fill="none"/><path d="M0 0H537.2V324.3H0ZM5.4 5.4H531.8V318.9H5.4ZM0 0L5.4 5.4M537.2 0L531.8 5.4M0 324.3L5.4 318.9M537.2 324.3L531.8 318.9M100.7 0V5.4M100.7 318.9V324.3M201.5 0V5.4M201.5 318.9V324.3M302.2 0V5.4M302.2 318.9V324.3M402.9 0V5.4M402.9 318.9V324.3M470.1 0V5.4M470.1 318.9V324.3M0 256.9H5.4M531.8 256.9H537.2M0 188.2H5.4M531.8 188.2H537.2M0 116.7H5.4M531.8 116.7H537.2M0 40.5H5.4M531.8 40.5H537.2M0 20.5H5.4M531.8 20.5H537.2" stroke="#111" stroke-width="1.1" fill="none"/><path d="M0 -5.6V0M0 324.3V329.9M201.5 -5.6V0M201.5 324.3V329.9M402.9 -5.6V0M402.9 324.3V329.9M-5.6 324.3H0M537.2 324.3H542.8M-5.6 188.2H0M537.2 188.2H542.8M-5.6 40.5H0M537.2 40.5H542.8" stroke="#000" stroke-width="2" fill="none"/>
<path class="m" d="M194.1 11.6 187 14.2 181.3 16.6 172.7 21.6 164.8 27.3 159.1 34.4 153.4 43 147.7 51.6 142.7 60.2 139.1 68.7 137 77.3 137.7 85.9 140.6 94.4 144.1 103 147.7 111.6 151.3 120.2 154.8 128.7 158.4 136.6 161.3 143 162.7 148.7 161.6 154.4 163.4 161.6 164.1 168.7 167 173 171.3 177.3 174.1 183 178.4 187.3 184.1 190.9 191.3 195.2 198.4 200.2 205.6 204.4 212.7 208 219.8 209.4 225.6 210.4 232.7 209.4 239.1 208.7 241.3 203 242.7 195.9 244.1 187.3 246.3 178.7 249.1 170.9 252.7 164.4 257 162.3 265.6 160.2 274.1 158.7 282.7 156.6 291.3 153 299.8 150.2 307 150.9"/>
<path class="r" d="M143.4 189.4 146.3 185.9 149.8 184.4 153.4 185.9 154.8 189.4 152 190.9 149.1 190.2M147 190.9 149.8 193.7 152.7 196.6 154.8 198.7M180.6 183.7 179.1 187.3 179.8 190.9 179.1 194.4 177 197.3 174.1 199.4M164.1 200.9 167 200.2M180.6 220.9 183.4 218.7 187 214.4 190.6 212.3 194.8 212.3 199.1 210.9 202 208 204.8 205.2 207.7 202.3M219.1 201.6 217 205.9 214.8 210.2"/>
<path class="b" d="M233.4 115.9 229.1 113 224.8 115.2 223.4 120.2 227 124.4 232.7 126.6 235.6 131.6 239.8 134.4 245.6 133.7 251.3 130.9 257 128.7 262.7 128 267 130.9 271.3 134.4 275.6 138 279.8 138.7M224.8 149.4 229.8 148.7 234.8 151.6 238.4 155.9 241.3 161.6 244.1 164.4 239.8 165.9 235.6 163.7 232 167.3 231.3 171.6 234.1 175.9 238.4 178 242 176.6M253.4 207.3 257 203 260.6 198 265.6 197.3 271.3 199.4M156.3 172.3 152.7 176.6 149.1 179.4 152.7 181.6 154.8 185.2 157 189.4 161.3 191.6 166.3 193.7 169.8 196.6 171.3 200.2 169.8 204.4 166.3 208 162 209.4 157.7 208.7 153.4 205.9M202 183.7 209.1 183 216.3 184.4M197.7 186.6 205.6 185.9 213.4 186.6 222 188 227.7 188.7 232 189.4M194.8 189.4 202 189.1 209.1 189.4 216.3 190.2 223.4 190.5M192.7 192.3 200.6 192.3 209.1 192.7 216.3 193 223.4 193.7M190.6 195.2 198.4 195.2 206.3 195.5 214.1 195.9 222 196.6M189.1 198 197 198 204.8 198.4 212.7 198.7 220.6 199.1M188.4 200.9 196.3 201.2 204.1 201.2 209.1 200.9M189.1 203.7 194.8 204.4 200.6 204.4 206.3 203M183.4 206.6 189.1 207.3 194.8 208 202 206.6M179.1 209.4 184.8 210.2 190.6 210.2 194.8 209.4M178.4 206.6 177.7 210.9 176.3 215.2 177.7 218.7 181.3 218.7 184.1 215.2 186.3 211.6 190.6 208.7M221.3 200.9 226.3 200.9 231.3 201.6 236.3 203 239.8 205.9 242.7 209.4 244.8 213 247.7 215.9 252 218 256.3 219.4M256.3 219.4 253.4 221.6 249.1 223 244.8 224.4 241.3 226.6 239.8 228.7M252 218 256.3 216.6 259.1 215.2 263.4 213.7 266.3 214.1 264.1 212.3M183.4 225.2 187.7 223.7 192 223 196.3 223.7 200.6 224.4 204.1 223 205.6 220.9 206.3 225.2 204.8 228.7 200.6 228 194.8 228 189.1 228 184.8 227.3M187.7 225.9 194.8 225.9 202 225.9M268.4 116.8 272 117.4 275.6 118 277.9 120.4 279.7 124 279.7 127.5 276.7 129.9 275.6 131.1M269.6 118 273.2 119.2M257.7 128.7 261.3 128.7 264.2 129.9 266.6 132.3 269 134.7 269.6 138.3 269.6 141.8 271.4 144.2 274.4 146 277.9 146.6 281.5 146 284.5 144.2M266.6 132.3 270.8 133.5 275 134.1 279.1 133.5 282.7 132.3 285.7 130.5M285.7 129.3 289.8 128.7 294 128.1 298.2 126.9 301.7 124.6 302.9 122.2 301.2 119.8 303.5 118.6 307.1 119.2 310.7 119.8 313.7 119.2 316 121.6 318.4 124 321.4 125.2 324.4 123.4 327.3 122.2 329.1 122.8M302.9 121 307.7 121.6 312.5 122.2 317.2 124.6M321.4 125.2 319.6 127.5 317.2 129.3 314.2 130.5M286.3 135.9 293.4 135.3 300.6 135.9 307.7 136.5 314.2 137.1M285.1 138.8 292.2 138.5 299.4 138.8 306.5 139.1 314.8 139.4M283.9 141.8 291 141.8 298.2 141.8 305.3 142.1 314.2 142.4M282.7 144.8 289.8 144.8 297 145.1 304.1 145.1 313.7 145.4M281.5 147.8 288.7 147.8 295.8 147.8 305.3 147.2 314.8 148.4M280.3 150.8 287.5 150.8 294.6 150.8 298.2 152.5 304.1 152.5 311.3 150.8M280.3 153.7 286.3 153.7 292.2 153.7 299.4 154.9 305.3 155.5 310.1 153.7M316 129.9 317.2 133.5 317.8 137.1 318.4 140.6 319.6 143M323.2 132.3 325.6 135.3 327.3 138.8 329.1 142.4M327.9 132.9 330.9 135.9M342.2 130.5 344 132.9 342.2 135.3 338.7 137.1 335.1 139.4 332.1 142.4 329.7 146 327.9 149.6 326.2 153.1 323.8 156.7 320.8 160.3 317.8 163.8 316.6 166.2M339.2 129.9 341 133.5 339.8 131.7M323.8 147.8 323.2 152.5M257.7 160.9 262.5 158.5 267.2 156.7 272 154.9 276.7 152.5 280.9 150.8M258.9 165 260.1 166.2M281.5 154.9 280.3 159.7 280.9 163.8 283.3 165.6 285.7 163.3 286.3 159.7 286.3 154.9M291 156.1 290.4 160.9 289.8 165.6 289.8 170.4 291.6 174.6 291 178.7 289.8 180.5 291 184.1 292.2 182.3M296.4 157.9 297 162.7 296.4 166.8 297.6 171.6 298.8 173.4M309.5 151.3 310.1 154.9 309.5 157.3M311.9 168.6 313.7 172.2 315.4 175.8 316.6 179.3 319 181.7 322 184.1 325.6 185.9 329.1 187.4 332.7 188.8M343.4 147.2 341 149 339.8 151.9 341 154.3 344 154.3 346.4 154.9M339.8 154.3 336.9 156.7 335.7 158.5"/>
<text class="n" x="13" y="58.4">Muifa</text>
<text class="n i" transform="translate(13 125.5) scale(1 1.04)">N</text><text class="n s" x="47.5" y="147.6">d</text><text class="n" transform="translate(69.5 125.5) scale(1 1.04)">=38</text>
</g>
<g transform="translate(740.2 1062.7)">
<path class="c" d="M104.8 168.7 102.3 169.3 97.3 170.2 95.6 172.7 94 172.2 91.9 169.7 90.2 173.1 88.1 170.6 86.5 174.3 81 176 77.3 177.7 73.1 178.9 69.4 179.9 68.3 181.8 70.2 184.7 69.4 186.2 66.9 186.2 65.6 183.5 65.2 178.9 63.1 178.1 61 176.8 58.1 176.4 54.8 177.1 50.6 178.9 46.5 181 43.5 183.9 41.5 186.8 39 188.9 37.7 192.2 37.1 195.4 38.5 198.1 40.6 200.6 42.3 203.5 45.6 207.2 49 210.6 54 214.3 58.1 218.9 59.8 221.4 61 225.6 61.9 229.7 62.1 234.7 61.5 239.7 60.6 243.9 60.2 246.4 54 249.7 48.1 253.5 45.2 254.1 44.4 254.7 44.8 258.1 42.7 261 38.1 262.2 33.5 266.4 32.3 262.2 32.7 258.5 33.5 256.4 31.5 256 29.4 254.3 28.5 252.7 24.8 252.9 22.3 251.4 20.2 248.9 18.5 245.2 16.9 242.7 13.5 240.2 11.9 238.9 8.1 238.9 5.6 238.1 4.8 233.9M74.4 188.2 71.5 188.1 66.5 188.2 63.1 189.3 59.8 191.4 57.7 193.5 57.3 196.8 58.1 199.3 60.6 201 64 201 67.3 199.3 70.2 196.8 71.9 193.5 73.1 191ZM4.8 277.7 9.8 278.5 12.3 281.4 16.5 284.3 20.2 287.2 23.1 291.4 23 297.2 22.7 304.7 24.8 307.2 26.9 310.6 28.5 314.7 24.8 315.2 21.5 313.5 16.5 310.6 12.3 308.5 9.8 305.6 9 302.2 4.8 298.1M4.8 309.7 8.1 309.3 10.6 311.4 13.1 312.7 15.6 314.7 18.5 316.4 21.5 318.5M59.6 318.9 60.6 313.9 63.5 311 68.1 313.1 74 313.9 76.9 305.2 83.1 304.3 86.5 302.7 89 298.9 92.3 296 95.6 292.7 98.1 291.4 103.1 291 104 288.5 107.3 285.6 109 281.8 111.9 279.7 114 277.2M138.4 198.7 141.2 198 143.7 199.2 146.6 200 148.4 199.2 150 198.7 149.4 202.7 149.2 206.2 151.2 209.1 150.5 212 148.4 214.8 145.5 217 143.9 219.1 143.7 221.6 144.7 224.5 145.5 227.3 146.6 230.2 149.1 230.5 151.2 228.7 154.1 229 157.7 230.2 161.2 231.8 159.4 233.4 160.4 235.9 161.9 237.7 159.8 237.5 157.7 235.9 156.2 233.4 154.8 232 152.8 231.2 151.6 232 152.8 233.4 152.5 236.2 151.6 237 150.2 234.5 148.7 232 146.9 230.9 144.8 231.2 143 232.3 141.9 233.4 140.2 233.7 138.9 232.3 138.9 230.5 139.8 228.7 140.9 227.3 138.9 225.4 138 225.9 136.6 225 134.8 224.1 134.1 220.5 133.4 216.2 133 215.4 134.8 214.8 136.2 216.2 136.9 212.7 137.7 208.4 136.4 205.5 137.3 202.7ZM137.3 234.5 139.8 234.1 141.9 234.8 143.7 236.2 144.4 238.7 144.1 241.2 141.9 243 140.2 240.2 138.7 237ZM130.9 248.4 132.3 252.7 129.8 255.5 126.2 258.4 121.9 263.7 119.1 266.2 116.2 268 115.5 267 118.4 263.7 122.7 260.5 126.2 257 129.1 252.7ZM164.1 240.5 166.9 240.2 169.8 239.8 171.2 242 171.6 245.5 172.3 249.1 169.1 249.8 167.7 251.2 168.7 254.1 169.4 255.5 166.9 255.9 165.5 253.4 164.1 252 164.4 249.1 166.9 247.7 168.4 245.5 167.7 243.7 165.5 243ZM146.9 244.8 150.5 245.5 151.9 247 155.2 247.3 155.9 249.8 157.7 252 159.8 252.3 161.2 249.8 161.2 252.7 161.9 254.8 163.4 256.2 164.1 258.4 161.9 259.5 160.2 258 158 259.1 156.2 260.2 156.6 262 155.2 264.1 153.4 262 151.6 259.5 150.5 258.4 152.3 257 152.7 254.1 150.5 252.7 147.7 252.3 146.9 249.8 147.7 247.7ZM170.5 259.1 172.7 259.8 175.2 262.3 176.9 264.8 177.3 268.4 178.4 272 178.7 274.8 177.7 277.7 176.2 279.8 175.5 282.3 174.4 279.8 173.7 277.3 172.7 275.5 170.9 277.7 169.8 279.5 171.6 281.6 172.7 284.1 171.6 285.9 170.5 287.3 168.4 285.9 165.5 285.2 162.7 283.4 160.9 282 160.5 279.1 161.9 277.7 161.9 275.5 160.2 274.1 158 273 156.2 274.1 154.1 274.8 153.4 273.4 151.6 273 149.8 274.1 149.1 276.6 148 279.1 147.3 277 147.3 274.1 148 271.6 149.8 270.5 152.3 269.5 154.1 267.7 155.9 266.6 157.7 266.2 159.4 267.7 160.9 269.8 162.7 268.4 165.2 267.3 166.2 264.5 168.7 264.8 170.2 263ZM112.3 279.8 114.1 277.7 116.2 279.5 118.7 280.9 119.1 283.4 118.4 285.2 122.7 287.3 126.2 288.7 129.4 290.2 125.5 291.2 121.9 292.3 123.4 293.7 124.8 294.8 120.2 295.9 119.4 299.8 117.3 302.7 118.7 306.2 120.9 308.7 119.4 310.9 121.9 313.4 125.5 315.9 128 319.1M138.9 319.1 140.2 315.9 144.8 317 149.1 317.7 154.1 318 159.1 317.7 162.7 317 165.5 315.2 167.7 313 169.8 314.5 167.7 317 165.5 319.1M183.4 319.1 184.1 314.1 185.5 310.9 187.7 309.5 188.4 312.3 187.7 314.5 189.8 315.5 191.2 314.1 193 313.7 193.2 319.1M139.5 174.5 139.9 175.1M136 83.4 137.7 88.4 139.4 94.2 140.2 97.6 143.1 98.8 145.6 100.9 146.9 103.4 143.1 104.2 145.6 106.3 147.3 108 147.7 109.7 144 110.5 140.6 112.2 136.9 114.1 139.8 114.7 143.1 113.8 146.5 115.5 148.5 116.7 147.7 122.2 145.6 122.6 144.6 127.2 145.2 128.8 142.3 129.7 140.6 130.1 138.5 134.2 136.5 138 134 140.9 131.9 140.5 132.7 144.2 131.5 147.6 128.5 150.9 126.3 152.6 125.2 155.5 122.7 155.9 121.9 158.4 116.5 162.2 111.5 165.5 108.1 167.6 104.8 168.4M144.8 150.5 146.9 151.3 147.7 154.2 146.9 158.4 145.6 162.6 144.4 166.7 141.9 170.5 140.2 174.2 139 173 137.3 170.1 135.6 166.7 135.2 162.6 136.9 158.8 139 155.1 141.5 151.7ZM197.3 129.1 199.4 127.7M186 144.4 187.7 141.7 189.4 139.7M186.9 143.8 188.5 141.7M240.6 3.5 239.8 6.5 237.3 11 233.1 13.5 228.1 16 224.8 18.1 221.9 19.4 218.1 17.7 216.5 16.5 217.3 14 213.1 14 211.5 16 209.8 19 207.7 20.2 206.5 20.2 206 22.3 201.5 23.5 198.5 26.9 198.1 28.5 199.4 31 199.8 33.5 196.5 34.8 193.1 36.9 189 39.4 185.6 41 182.7 41.9 184.4 44.4 183.1 46 187.3 48.5 190.6 52.7 193.1 56 195.6 60.2 196.9 64.4 197.7 69.4 197.3 73.5 195.6 77.3 192.3 79 186.5 80.2 181.5 81.9 178.1 84.8 176.9 80.2 176.5 76.9 178.1 74.8 177.7 74 179.8 73.5 178.5 69.4 176.5 64.8 175.2 64.4 179.8 64 178.5 61 176.5 58.5 174.8 58.1 172.3 58.1 169.8 59 167.3 57.3 165.6 55.6 167.3 52.7 168.5 48.5 170.6 45.2 167.3 43.5 164.8 42.7 161.5 41.6 158.1 41.9 154 43.1 150.6 44.4 148.5 46.9 146.5 49 144 50 141.5 50.6 144 48.1 145.2 46.5 143.1 45.2 143.1 43.1 145.6 40.2 148.1 39 149.4 36.9 147.7 34 144.8 33.1 142.3 32.9 139.8 35.2 136.5 38.7 133.1 40.2 130.2 41.9 128.5 45.2 126.5 46.9 123.1 47.3 120.2 46.5 118.5 48.1 117.7 51 119.4 53.5 123.1 56 126.5 58.1 127.3 61 129.4 62.7 132.3 63.1 134.8 61 136.9 59 139.8 58.1 141.5 59.8 144.8 60.6 149 61 151.5 61.7 150.2 65.2 148.1 64.4 146 65.2 142.3 66.5 139.8 67.3 138.5 70.6 135.6 71.9 132.3 74 130.2 76.9 128.5 80.6 133.1 82.3 136 83.4M280.5 4.6 278 8.7 276.8 11.2 277.6 13.7 276.8 15.4 273 14.6 270.1 14.2 270.9 17.1 268.4 19.2 266.4 21.2 267.2 24.6 268 29.2 270.9 27.5 273.9 26.2 275.9 25.4 273 23.7 270.5 22.5 270.1 20.4 273 20.8 276.4 20 280.5 19.2 284.7 21.2 290.1 24.6 290.9 20.8 294.3 17.5 297.2 15.8 300.5 16.2 303.9 14.6 308.4 12.9 305.5 12.1 303.4 10.4 304.3 7.9 302.2 8.7 298 8.3 293.9 7.5 288.9 5M305.5 9.6 310.9 5M269.7 31.7 271.8 33.3 273 29.6 276.8 29.2 278 30.8 277.6 33.7 280.1 37.1 281.4 40.4 281.8 43.7 280.9 47.1 279.7 50.4 278.9 53.3 275.9 52.9 274.7 55.4 275.1 60.4 273.9 64.6 272.6 67.1 272.2 70 273.4 72.9 272.2 75.4 270.5 78.3 267.6 80 266.4 80 267.6 77.1 267.2 75 264.7 76.2 262.6 76.7 261.8 78.7 260.5 82.5 259.3 79.2 256.4 81.2 253.9 82.1 250.1 81.7 248 80.4 246.4 79.2 245.1 81.2 246.8 84.2 243.9 86.2 241.4 89.2 239.7 91.2 237.2 90.4 235.9 87.1 235.5 82.9 237.2 80.8 231.4 80.2 226.4 81.7 221.4 82.9 217.2 84.6 213.9 85.8 210.5 86.2 207.6 86.2 207.2 84.2 208.9 82.5 212.6 80.4 216.4 77.9 220.1 75 226.4 74.2 232.2 73.6 236.8 72.9 239.3 75.4 241.8 74.6 240.9 71.7 243 68.3 245.5 65 246.4 62.1 249.3 60 248 65.8 251.8 64.6 256.4 62.9 259.7 60 260.5 57.5 263.4 55.8 264.7 53.7 266.4 50 268 46.7 268.9 42.1 268.4 37.1 268.9 33.7ZM216.4 87.1 219.7 85.4 223.9 84.6 228 83.7 231.4 84.6 232.6 86.2 231.4 89.2 228.9 92.5 226.8 90.8 224.3 90.8 222.2 92.9 220.9 96.2 218 95.4 216.4 92.9 217.2 90ZM207.6 87.5 210.5 87.9 213.9 88.7 214.7 92.1 213.4 96.2 211.8 100.4 210.9 105.4 208.4 107.9 205.9 109.2 202.2 107.9 202.2 102.1 204.3 99.2 203.9 94.6 202.2 93.3 202.6 96.2 198.9 96.2 197.6 92.5 200.1 90.4 203.9 88.7Z"/>
<path d="M0 0H537.2 V324.3 H0Z M5.4 5.4 V318.9 H531.8 V5.4Z" fill="#fff" fill-rule="evenodd"/><path d="M2.7 323H100.7M100.7 4.1H201.5M201.5 323H235M235 4.1H268.6M268.6 323H335.8M335.8 4.1H402.9M402.9 323H470.1M470.1 4.1H534.5M1.3 321.6V256.9M533.1 256.9V188.2M1.3 188.2V116.7M533.1 116.7V40.5M1.3 40.5V20.5M533.1 20.5V2.7" stroke="#8c8c8c" stroke-width="1.5" fill="none"/><path d="M2.7 321.3H100.7M100.7 2.4H201.5M201.5 321.3H235M235 2.4H268.6M268.6 321.3H335.8M335.8 2.4H402.9M402.9 321.3H470.1M470.1 2.4H534.5M3 321.6V256.9M534.8 256.9V188.2M3 188.2V116.7M534.8 116.7V40.5M3 40.5V20.5M534.8 20.5V2.7" stroke="#000" stroke-width="2.1" fill="none"/><path d="M0 0H537.2V324.3H0ZM5.4 5.4H531.8V318.9H5.4ZM0 0L5.4 5.4M537.2 0L531.8 5.4M0 324.3L5.4 318.9M537.2 324.3L531.8 318.9M100.7 0V5.4M100.7 318.9V324.3M201.5 0V5.4M201.5 318.9V324.3M235 0V5.4M235 318.9V324.3M268.6 0V5.4M268.6 318.9V324.3M335.8 0V5.4M335.8 318.9V324.3M402.9 0V5.4M402.9 318.9V324.3M470.1 0V5.4M470.1 318.9V324.3M0 256.9H5.4M531.8 256.9H537.2M0 188.2H5.4M531.8 188.2H537.2M0 116.7H5.4M531.8 116.7H537.2M0 40.5H5.4M531.8 40.5H537.2M0 20.5H5.4M531.8 20.5H537.2" stroke="#111" stroke-width="1.1" fill="none"/><path d="M0 -5.6V0M0 324.3V329.9M201.5 -5.6V0M201.5 324.3V329.9M268.6 -5.6V0M268.6 324.3V329.9M402.9 -5.6V0M402.9 324.3V329.9M-5.6 324.3H0M537.2 324.3H542.8M-5.6 188.2H0M537.2 188.2H542.8M-5.6 40.5H0M537.2 40.5H542.8" stroke="#000" stroke-width="2" fill="none"/>
<path class="m" d="M454.5 -0.1 453.5 7.5 452 15.6 451 23.7 450 29.7 445.9 37.8 441.9 45.9 437.8 54 433.8 62.1 429.7 70.2 425.2 78.3 420.6 85.4 418.1 91.5 416.6 98.5 416.1 105.6 416.6 113.7 417.1 121.8 417.6 129.9 417.8 137 418.6 142.1 422.7 145.1 424.2 151.2 424.7 158.3 424.5 165.3 420.6 169.4 416.6 173.9 412.5 178.5 407.5 182 401.4 183 395.3 183.5 389.8 184.1"/>
<path class="b" d="M507.7 8.5 503.6 7 499.6 7.5 495.5 10 492.5 13.5 492.5 16.6 495 17.6M420.6 76.3 423.7 77.3 424.7 73.3 426.7 68.2 429.2 62.1 431.8 55 432.3 50 430.2 46.9 426.7 46.4 422.2 48.5 418.1 52 416.1 57.1 417.1 62.1 420.6 66.7 424.7 69.7 429.7 71.2 434.3 71.7M449.5 72.2 452 73.3 455.5 74.3 457.6 72.2 457.1 68.2 455.5 64.7 456 61.6 459.6 60.6 463.1 62.6 466.2 66.2 470.2 69.7 475.3 71.2 479.8 70.7 481.9 67.2 482.4 63.1 481.9 61.1M483.4 63.1 488.4 65.7 493.5 68.2M372.6 103.6 377.1 101.1 382.2 100.1 387.2 102.1 389.3 105.6 387.2 109.2 383.2 110.7 379.1 109.7 377.1 106.6 380.2 104.1 384.2 105.1 383.2 107.7M413.5 103.6 413 107.7 415.6 110.7 419.6 113.2 423.7 115.2 426.2 118.3 423.7 120.8 423.2 123.8 425.7 126.9 428.7 129.4 430.2 133 429.7 137 427.7 139M409.5 127.9 404.4 128.4 401.9 130.9 402.4 135 406.5 136.5 411.5 135.5 416.6 135 421.6 136 426.7 137 429.7 141 430.8 145.1 427.7 147.1 422.7 147.6 418.6 147.1M404.4 131.9 410.5 132.4M436.8 103.1 439.4 106.6 442.9 109.7 446.9 111.2 452 111.7 454.5 114.7 456.6 119.8 458.6 124.4M440.9 139 443.9 141.6 445.9 144.6 446.4 146.1M429.7 154.2 434.8 155.2 439.9 156.7 441.4 153.7 442.9 158.3 446.9 160.3 449.5 164.3 449 169.4 450 173.4 453 173.9 458.1 173.4M372.6 169.4 377.6 168.4 382.2 167.9 386.2 168.9 384.2 164.3 381.2 162.3M386.2 168.9 390.3 166.3 392.3 168.4 392.8 173.4 391.8 178.5 392.3 182.5 395.3 186.1 399.4 188.6 402.4 189.1 406.5 186.6 410.5 183"/>
<text class="n" x="13" y="58.4">Merbok</text>
<text class="n i" transform="translate(13 125.5) scale(1 1.04)">N</text><text class="n s" x="47.5" y="147.6">d</text><text class="n" transform="translate(69.5 125.5) scale(1 1.04)">=15</text>
</g>
<g transform="translate(1353.1 1062.7)">
<path class="c" d="M104.8 168.7 102.3 169.3 97.3 170.2 95.6 172.7 94 172.2 91.9 169.7 90.2 173.1 88.1 170.6 86.5 174.3 81 176 77.3 177.7 73.1 178.9 69.4 179.9 68.3 181.8 70.2 184.7 69.4 186.2 66.9 186.2 65.6 183.5 65.2 178.9 63.1 178.1 61 176.8 58.1 176.4 54.8 177.1 50.6 178.9 46.5 181 43.5 183.9 41.5 186.8 39 188.9 37.7 192.2 37.1 195.4 38.5 198.1 40.6 200.6 42.3 203.5 45.6 207.2 49 210.6 54 214.3 58.1 218.9 59.8 221.4 61 225.6 61.9 229.7 62.1 234.7 61.5 239.7 60.6 243.9 60.2 246.4 54 249.7 48.1 253.5 45.2 254.1 44.4 254.7 44.8 258.1 42.7 261 38.1 262.2 33.5 266.4 32.3 262.2 32.7 258.5 33.5 256.4 31.5 256 29.4 254.3 28.5 252.7 24.8 252.9 22.3 251.4 20.2 248.9 18.5 245.2 16.9 242.7 13.5 240.2 11.9 238.9 8.1 238.9 5.6 238.1 4.8 233.9M74.4 188.2 71.5 188.1 66.5 188.2 63.1 189.3 59.8 191.4 57.7 193.5 57.3 196.8 58.1 199.3 60.6 201 64 201 67.3 199.3 70.2 196.8 71.9 193.5 73.1 191ZM4.8 277.7 9.8 278.5 12.3 281.4 16.5 284.3 20.2 287.2 23.1 291.4 23 297.2 22.7 304.7 24.8 307.2 26.9 310.6 28.5 314.7 24.8 315.2 21.5 313.5 16.5 310.6 12.3 308.5 9.8 305.6 9 302.2 4.8 298.1M4.8 309.7 8.1 309.3 10.6 311.4 13.1 312.7 15.6 314.7 18.5 316.4 21.5 318.5M59.6 318.9 60.6 313.9 63.5 311 68.1 313.1 74 313.9 76.9 305.2 83.1 304.3 86.5 302.7 89 298.9 92.3 296 95.6 292.7 98.1 291.4 103.1 291 104 288.5 107.3 285.6 109 281.8 111.9 279.7 114 277.2M138.4 198.7 141.2 198 143.7 199.2 146.6 200 148.4 199.2 150 198.7 149.4 202.7 149.2 206.2 151.2 209.1 150.5 212 148.4 214.8 145.5 217 143.9 219.1 143.7 221.6 144.7 224.5 145.5 227.3 146.6 230.2 149.1 230.5 151.2 228.7 154.1 229 157.7 230.2 161.2 231.8 159.4 233.4 160.4 235.9 161.9 237.7 159.8 237.5 157.7 235.9 156.2 233.4 154.8 232 152.8 231.2 151.6 232 152.8 233.4 152.5 236.2 151.6 237 150.2 234.5 148.7 232 146.9 230.9 144.8 231.2 143 232.3 141.9 233.4 140.2 233.7 138.9 232.3 138.9 230.5 139.8 228.7 140.9 227.3 138.9 225.4 138 225.9 136.6 225 134.8 224.1 134.1 220.5 133.4 216.2 133 215.4 134.8 214.8 136.2 216.2 136.9 212.7 137.7 208.4 136.4 205.5 137.3 202.7ZM137.3 234.5 139.8 234.1 141.9 234.8 143.7 236.2 144.4 238.7 144.1 241.2 141.9 243 140.2 240.2 138.7 237ZM130.9 248.4 132.3 252.7 129.8 255.5 126.2 258.4 121.9 263.7 119.1 266.2 116.2 268 115.5 267 118.4 263.7 122.7 260.5 126.2 257 129.1 252.7ZM164.1 240.5 166.9 240.2 169.8 239.8 171.2 242 171.6 245.5 172.3 249.1 169.1 249.8 167.7 251.2 168.7 254.1 169.4 255.5 166.9 255.9 165.5 253.4 164.1 252 164.4 249.1 166.9 247.7 168.4 245.5 167.7 243.7 165.5 243ZM146.9 244.8 150.5 245.5 151.9 247 155.2 247.3 155.9 249.8 157.7 252 159.8 252.3 161.2 249.8 161.2 252.7 161.9 254.8 163.4 256.2 164.1 258.4 161.9 259.5 160.2 258 158 259.1 156.2 260.2 156.6 262 155.2 264.1 153.4 262 151.6 259.5 150.5 258.4 152.3 257 152.7 254.1 150.5 252.7 147.7 252.3 146.9 249.8 147.7 247.7ZM170.5 259.1 172.7 259.8 175.2 262.3 176.9 264.8 177.3 268.4 178.4 272 178.7 274.8 177.7 277.7 176.2 279.8 175.5 282.3 174.4 279.8 173.7 277.3 172.7 275.5 170.9 277.7 169.8 279.5 171.6 281.6 172.7 284.1 171.6 285.9 170.5 287.3 168.4 285.9 165.5 285.2 162.7 283.4 160.9 282 160.5 279.1 161.9 277.7 161.9 275.5 160.2 274.1 158 273 156.2 274.1 154.1 274.8 153.4 273.4 151.6 273 149.8 274.1 149.1 276.6 148 279.1 147.3 277 147.3 274.1 148 271.6 149.8 270.5 152.3 269.5 154.1 267.7 155.9 266.6 157.7 266.2 159.4 267.7 160.9 269.8 162.7 268.4 165.2 267.3 166.2 264.5 168.7 264.8 170.2 263ZM112.3 279.8 114.1 277.7 116.2 279.5 118.7 280.9 119.1 283.4 118.4 285.2 122.7 287.3 126.2 288.7 129.4 290.2 125.5 291.2 121.9 292.3 123.4 293.7 124.8 294.8 120.2 295.9 119.4 299.8 117.3 302.7 118.7 306.2 120.9 308.7 119.4 310.9 121.9 313.4 125.5 315.9 128 319.1M138.9 319.1 140.2 315.9 144.8 317 149.1 317.7 154.1 318 159.1 317.7 162.7 317 165.5 315.2 167.7 313 169.8 314.5 167.7 317 165.5 319.1M183.4 319.1 184.1 314.1 185.5 310.9 187.7 309.5 188.4 312.3 187.7 314.5 189.8 315.5 191.2 314.1 193 313.7 193.2 319.1M139.5 174.5 139.9 175.1M136 83.4 137.7 88.4 139.4 94.2 140.2 97.6 143.1 98.8 145.6 100.9 146.9 103.4 143.1 104.2 145.6 106.3 147.3 108 147.7 109.7 144 110.5 140.6 112.2 136.9 114.1 139.8 114.7 143.1 113.8 146.5 115.5 148.5 116.7 147.7 122.2 145.6 122.6 144.6 127.2 145.2 128.8 142.3 129.7 140.6 130.1 138.5 134.2 136.5 138 134 140.9 131.9 140.5 132.7 144.2 131.5 147.6 128.5 150.9 126.3 152.6 125.2 155.5 122.7 155.9 121.9 158.4 116.5 162.2 111.5 165.5 108.1 167.6 104.8 168.4M144.8 150.5 146.9 151.3 147.7 154.2 146.9 158.4 145.6 162.6 144.4 166.7 141.9 170.5 140.2 174.2 139 173 137.3 170.1 135.6 166.7 135.2 162.6 136.9 158.8 139 155.1 141.5 151.7ZM197.3 129.1 199.4 127.7M186 144.4 187.7 141.7 189.4 139.7M186.9 143.8 188.5 141.7M240.6 3.5 239.8 6.5 237.3 11 233.1 13.5 228.1 16 224.8 18.1 221.9 19.4 218.1 17.7 216.5 16.5 217.3 14 213.1 14 211.5 16 209.8 19 207.7 20.2 206.5 20.2 206 22.3 201.5 23.5 198.5 26.9 198.1 28.5 199.4 31 199.8 33.5 196.5 34.8 193.1 36.9 189 39.4 185.6 41 182.7 41.9 184.4 44.4 183.1 46 187.3 48.5 190.6 52.7 193.1 56 195.6 60.2 196.9 64.4 197.7 69.4 197.3 73.5 195.6 77.3 192.3 79 186.5 80.2 181.5 81.9 178.1 84.8 176.9 80.2 176.5 76.9 178.1 74.8 177.7 74 179.8 73.5 178.5 69.4 176.5 64.8 175.2 64.4 179.8 64 178.5 61 176.5 58.5 174.8 58.1 172.3 58.1 169.8 59 167.3 57.3 165.6 55.6 167.3 52.7 168.5 48.5 170.6 45.2 167.3 43.5 164.8 42.7 161.5 41.6 158.1 41.9 154 43.1 150.6 44.4 148.5 46.9 146.5 49 144 50 141.5 50.6 144 48.1 145.2 46.5 143.1 45.2 143.1 43.1 145.6 40.2 148.1 39 149.4 36.9 147.7 34 144.8 33.1 142.3 32.9 139.8 35.2 136.5 38.7 133.1 40.2 130.2 41.9 128.5 45.2 126.5 46.9 123.1 47.3 120.2 46.5 118.5 48.1 117.7 51 119.4 53.5 123.1 56 126.5 58.1 127.3 61 129.4 62.7 132.3 63.1 134.8 61 136.9 59 139.8 58.1 141.5 59.8 144.8 60.6 149 61 151.5 61.7 150.2 65.2 148.1 64.4 146 65.2 142.3 66.5 139.8 67.3 138.5 70.6 135.6 71.9 132.3 74 130.2 76.9 128.5 80.6 133.1 82.3 136 83.4M280.5 4.6 278 8.7 276.8 11.2 277.6 13.7 276.8 15.4 273 14.6 270.1 14.2 270.9 17.1 268.4 19.2 266.4 21.2 267.2 24.6 268 29.2 270.9 27.5 273.9 26.2 275.9 25.4 273 23.7 270.5 22.5 270.1 20.4 273 20.8 276.4 20 280.5 19.2 284.7 21.2 290.1 24.6 290.9 20.8 294.3 17.5 297.2 15.8 300.5 16.2 303.9 14.6 308.4 12.9 305.5 12.1 303.4 10.4 304.3 7.9 302.2 8.7 298 8.3 293.9 7.5 288.9 5M305.5 9.6 310.9 5M269.7 31.7 271.8 33.3 273 29.6 276.8 29.2 278 30.8 277.6 33.7 280.1 37.1 281.4 40.4 281.8 43.7 280.9 47.1 279.7 50.4 278.9 53.3 275.9 52.9 274.7 55.4 275.1 60.4 273.9 64.6 272.6 67.1 272.2 70 273.4 72.9 272.2 75.4 270.5 78.3 267.6 80 266.4 80 267.6 77.1 267.2 75 264.7 76.2 262.6 76.7 261.8 78.7 260.5 82.5 259.3 79.2 256.4 81.2 253.9 82.1 250.1 81.7 248 80.4 246.4 79.2 245.1 81.2 246.8 84.2 243.9 86.2 241.4 89.2 239.7 91.2 237.2 90.4 235.9 87.1 235.5 82.9 237.2 80.8 231.4 80.2 226.4 81.7 221.4 82.9 217.2 84.6 213.9 85.8 210.5 86.2 207.6 86.2 207.2 84.2 208.9 82.5 212.6 80.4 216.4 77.9 220.1 75 226.4 74.2 232.2 73.6 236.8 72.9 239.3 75.4 241.8 74.6 240.9 71.7 243 68.3 245.5 65 246.4 62.1 249.3 60 248 65.8 251.8 64.6 256.4 62.9 259.7 60 260.5 57.5 263.4 55.8 264.7 53.7 266.4 50 268 46.7 268.9 42.1 268.4 37.1 268.9 33.7ZM216.4 87.1 219.7 85.4 223.9 84.6 228 83.7 231.4 84.6 232.6 86.2 231.4 89.2 228.9 92.5 226.8 90.8 224.3 90.8 222.2 92.9 220.9 96.2 218 95.4 216.4 92.9 217.2 90ZM207.6 87.5 210.5 87.9 213.9 88.7 214.7 92.1 213.4 96.2 211.8 100.4 210.9 105.4 208.4 107.9 205.9 109.2 202.2 107.9 202.2 102.1 204.3 99.2 203.9 94.6 202.2 93.3 202.6 96.2 198.9 96.2 197.6 92.5 200.1 90.4 203.9 88.7Z"/>
<path d="M0 0H537.2 V324.3 H0Z M5.4 5.4 V318.9 H531.8 V5.4Z" fill="#fff" fill-rule="evenodd"/><path d="M2.7 323H100.7M100.7 4.1H201.5M201.5 323H235M235 4.1H268.6M268.6 323H335.8M335.8 4.1H402.9M402.9 323H470.1M470.1 4.1H534.5M1.3 321.6V256.9M533.1 256.9V188.2M1.3 188.2V116.7M533.1 116.7V40.5M1.3 40.5V20.5M533.1 20.5V2.7" stroke="#8c8c8c" stroke-width="1.5" fill="none"/><path d="M2.7 321.3H100.7M100.7 2.4H201.5M201.5 321.3H235M235 2.4H268.6M268.6 321.3H335.8M335.8 2.4H402.9M402.9 321.3H470.1M470.1 2.4H534.5M3 321.6V256.9M534.8 256.9V188.2M3 188.2V116.7M534.8 116.7V40.5M3 40.5V20.5M534.8 20.5V2.7" stroke="#000" stroke-width="2.1" fill="none"/><path d="M0 0H537.2V324.3H0ZM5.4 5.4H531.8V318.9H5.4ZM0 0L5.4 5.4M537.2 0L531.8 5.4M0 324.3L5.4 318.9M537.2 324.3L531.8 318.9M100.7 0V5.4M100.7 318.9V324.3M201.5 0V5.4M201.5 318.9V324.3M235 0V5.4M235 318.9V324.3M268.6 0V5.4M268.6 318.9V324.3M335.8 0V5.4M335.8 318.9V324.3M402.9 0V5.4M402.9 318.9V324.3M470.1 0V5.4M470.1 318.9V324.3M0 256.9H5.4M531.8 256.9H537.2M0 188.2H5.4M531.8 188.2H537.2M0 116.7H5.4M531.8 116.7H537.2M0 40.5H5.4M531.8 40.5H537.2M0 20.5H5.4M531.8 20.5H537.2" stroke="#111" stroke-width="1.1" fill="none"/><path d="M0 -5.6V0M0 324.3V329.9M201.5 -5.6V0M201.5 324.3V329.9M268.6 -5.6V0M268.6 324.3V329.9M402.9 -5.6V0M402.9 324.3V329.9M-5.6 324.3H0M537.2 324.3H542.8M-5.6 188.2H0M537.2 188.2H542.8M-5.6 40.5H0M537.2 40.5H542.8" stroke="#000" stroke-width="2" fill="none"/>
<path class="m" d="M288.7 48.4 281.5 51 274.4 53.7 266.4 56.4 258.3 59.1 251.2 59.8 243.2 60.4 236 64 228 68 221.3 71.6 217.3 76.9 212.8 82.3 208.3 86.8 205.2 90.3 204.3 94.8 204.8 100.2 205.2 105.5 206.1 110 205.7 114 208.3 118 211 122.5 210.8 126.5 212.8 130.5 215.9 135.9 219 140.3 222.6 144.8 226.2 148.8 230.7 152.8 235.1 156.4 239.1 160 243.2 162.7 248.5 163.5 253.9 164.4 260.1 165.8 266.4 166.7 271.7 167.6 274.8 168.5 272.6 171.1 267.3 172.5 261.9 173.8 257 174.3 256.1 171.6"/>
<path class="b" d="M235.6 122.9 235.1 118 232.4 114 228.4 112.7 224.8 114.4 223.5 118.9 224.4 123.4 228 125.2 231.5 126 233.3 129.6 236 133.2 240.5 135 244.9 133.2 249.4 131 253.9 129.2 258.3 127.8 262.8 128.3 266.4 130.5 268.2 135 269.9 139.4 270.4 143 274.4 145.7 278.9 146.1 283.3 145.2 286.9 143.9 289.6 142.1M276.2 130.5 279.8 131.4 283.3 135 286 138.5 288.7 142.1 290.5 146.6M276.2 130.5 275.3 135 276.2 137.7M311 148.4 309.2 143.9 306.5 139.4 303 136.8 299.4 135.9 294.9 136.8 291.4 139.4 289.6 143M303 147.5 300.3 145.2 296.7 143.9 293.2 144.4 290.5 146.6M290.5 146.6 289.6 151 287.8 155.5 286.9 160 285.1 163.5 282.9 165.3M293.2 148.4 293.6 153.7 292.3 159.1 291.4 164.4 290.5 168.9 291.8 173.4 292.3 176.9M287.8 148.4 286.9 152.8M220.8 153.7 224.4 151 228 149.3 231.5 149.3 235.1 151 238.7 153.7 241.4 157.3 242.7 160.9 242.3 164.4 240.5 166.2 238.7 164.4M235.6 161.8 232.4 164.4 231.1 168 232 171.6 233.3 175.2 236 177.8 239.6 178.7 241.8 176.9 240 174.3M278 153.7 272.6 156 267.3 158.2 261.9 160 258.3 161.8 259.2 165.3M264.6 195.7 261 197.5 257.4 201.5 253.9 205.5"/>
<text class="n" x="13" y="58.4">Nanmadol</text>
<text class="n i" transform="translate(13 125.5) scale(1 1.04)">N</text><text class="n s" x="47.5" y="147.6">d</text><text class="n" transform="translate(69.5 125.5) scale(1 1.04)">=9</text>
</g>
<g transform="translate(127.3 1413.8)">
<path class="c" d="M104.8 168.7 102.3 169.3 97.3 170.2 95.6 172.7 94 172.2 91.9 169.7 90.2 173.1 88.1 170.6 86.5 174.3 81 176 77.3 177.7 73.1 178.9 69.4 179.9 68.3 181.8 70.2 184.7 69.4 186.2 66.9 186.2 65.6 183.5 65.2 178.9 63.1 178.1 61 176.8 58.1 176.4 54.8 177.1 50.6 178.9 46.5 181 43.5 183.9 41.5 186.8 39 188.9 37.7 192.2 37.1 195.4 38.5 198.1 40.6 200.6 42.3 203.5 45.6 207.2 49 210.6 54 214.3 58.1 218.9 59.8 221.4 61 225.6 61.9 229.7 62.1 234.7 61.5 239.7 60.6 243.9 60.2 246.4 54 249.7 48.1 253.5 45.2 254.1 44.4 254.7 44.8 258.1 42.7 261 38.1 262.2 33.5 266.4 32.3 262.2 32.7 258.5 33.5 256.4 31.5 256 29.4 254.3 28.5 252.7 24.8 252.9 22.3 251.4 20.2 248.9 18.5 245.2 16.9 242.7 13.5 240.2 11.9 238.9 8.1 238.9 5.6 238.1 4.8 233.9M74.4 188.2 71.5 188.1 66.5 188.2 63.1 189.3 59.8 191.4 57.7 193.5 57.3 196.8 58.1 199.3 60.6 201 64 201 67.3 199.3 70.2 196.8 71.9 193.5 73.1 191ZM4.8 277.7 9.8 278.5 12.3 281.4 16.5 284.3 20.2 287.2 23.1 291.4 23 297.2 22.7 304.7 24.8 307.2 26.9 310.6 28.5 314.7 24.8 315.2 21.5 313.5 16.5 310.6 12.3 308.5 9.8 305.6 9 302.2 4.8 298.1M4.8 309.7 8.1 309.3 10.6 311.4 13.1 312.7 15.6 314.7 18.5 316.4 21.5 318.5M59.6 318.9 60.6 313.9 63.5 311 68.1 313.1 74 313.9 76.9 305.2 83.1 304.3 86.5 302.7 89 298.9 92.3 296 95.6 292.7 98.1 291.4 103.1 291 104 288.5 107.3 285.6 109 281.8 111.9 279.7 114 277.2M138.4 198.7 141.2 198 143.7 199.2 146.6 200 148.4 199.2 150 198.7 149.4 202.7 149.2 206.2 151.2 209.1 150.5 212 148.4 214.8 145.5 217 143.9 219.1 143.7 221.6 144.7 224.5 145.5 227.3 146.6 230.2 149.1 230.5 151.2 228.7 154.1 229 157.7 230.2 161.2 231.8 159.4 233.4 160.4 235.9 161.9 237.7 159.8 237.5 157.7 235.9 156.2 233.4 154.8 232 152.8 231.2 151.6 232 152.8 233.4 152.5 236.2 151.6 237 150.2 234.5 148.7 232 146.9 230.9 144.8 231.2 143 232.3 141.9 233.4 140.2 233.7 138.9 232.3 138.9 230.5 139.8 228.7 140.9 227.3 138.9 225.4 138 225.9 136.6 225 134.8 224.1 134.1 220.5 133.4 216.2 133 215.4 134.8 214.8 136.2 216.2 136.9 212.7 137.7 208.4 136.4 205.5 137.3 202.7ZM137.3 234.5 139.8 234.1 141.9 234.8 143.7 236.2 144.4 238.7 144.1 241.2 141.9 243 140.2 240.2 138.7 237ZM130.9 248.4 132.3 252.7 129.8 255.5 126.2 258.4 121.9 263.7 119.1 266.2 116.2 268 115.5 267 118.4 263.7 122.7 260.5 126.2 257 129.1 252.7ZM164.1 240.5 166.9 240.2 169.8 239.8 171.2 242 171.6 245.5 172.3 249.1 169.1 249.8 167.7 251.2 168.7 254.1 169.4 255.5 166.9 255.9 165.5 253.4 164.1 252 164.4 249.1 166.9 247.7 168.4 245.5 167.7 243.7 165.5 243ZM146.9 244.8 150.5 245.5 151.9 247 155.2 247.3 155.9 249.8 157.7 252 159.8 252.3 161.2 249.8 161.2 252.7 161.9 254.8 163.4 256.2 164.1 258.4 161.9 259.5 160.2 258 158 259.1 156.2 260.2 156.6 262 155.2 264.1 153.4 262 151.6 259.5 150.5 258.4 152.3 257 152.7 254.1 150.5 252.7 147.7 252.3 146.9 249.8 147.7 247.7ZM170.5 259.1 172.7 259.8 175.2 262.3 176.9 264.8 177.3 268.4 178.4 272 178.7 274.8 177.7 277.7 176.2 279.8 175.5 282.3 174.4 279.8 173.7 277.3 172.7 275.5 170.9 277.7 169.8 279.5 171.6 281.6 172.7 284.1 171.6 285.9 170.5 287.3 168.4 285.9 165.5 285.2 162.7 283.4 160.9 282 160.5 279.1 161.9 277.7 161.9 275.5 160.2 274.1 158 273 156.2 274.1 154.1 274.8 153.4 273.4 151.6 273 149.8 274.1 149.1 276.6 148 279.1 147.3 277 147.3 274.1 148 271.6 149.8 270.5 152.3 269.5 154.1 267.7 155.9 266.6 157.7 266.2 159.4 267.7 160.9 269.8 162.7 268.4 165.2 267.3 166.2 264.5 168.7 264.8 170.2 263ZM112.3 279.8 114.1 277.7 116.2 279.5 118.7 280.9 119.1 283.4 118.4 285.2 122.7 287.3 126.2 288.7 129.4 290.2 125.5 291.2 121.9 292.3 123.4 293.7 124.8 294.8 120.2 295.9 119.4 299.8 117.3 302.7 118.7 306.2 120.9 308.7 119.4 310.9 121.9 313.4 125.5 315.9 128 319.1M138.9 319.1 140.2 315.9 144.8 317 149.1 317.7 154.1 318 159.1 317.7 162.7 317 165.5 315.2 167.7 313 169.8 314.5 167.7 317 165.5 319.1M183.4 319.1 184.1 314.1 185.5 310.9 187.7 309.5 188.4 312.3 187.7 314.5 189.8 315.5 191.2 314.1 193 313.7 193.2 319.1M139.5 174.5 139.9 175.1M136 83.4 137.7 88.4 139.4 94.2 140.2 97.6 143.1 98.8 145.6 100.9 146.9 103.4 143.1 104.2 145.6 106.3 147.3 108 147.7 109.7 144 110.5 140.6 112.2 136.9 114.1 139.8 114.7 143.1 113.8 146.5 115.5 148.5 116.7 147.7 122.2 145.6 122.6 144.6 127.2 145.2 128.8 142.3 129.7 140.6 130.1 138.5 134.2 136.5 138 134 140.9 131.9 140.5 132.7 144.2 131.5 147.6 128.5 150.9 126.3 152.6 125.2 155.5 122.7 155.9 121.9 158.4 116.5 162.2 111.5 165.5 108.1 167.6 104.8 168.4M144.8 150.5 146.9 151.3 147.7 154.2 146.9 158.4 145.6 162.6 144.4 166.7 141.9 170.5 140.2 174.2 139 173 137.3 170.1 135.6 166.7 135.2 162.6 136.9 158.8 139 155.1 141.5 151.7ZM197.3 129.1 199.4 127.7M186 144.4 187.7 141.7 189.4 139.7M186.9 143.8 188.5 141.7M240.6 3.5 239.8 6.5 237.3 11 233.1 13.5 228.1 16 224.8 18.1 221.9 19.4 218.1 17.7 216.5 16.5 217.3 14 213.1 14 211.5 16 209.8 19 207.7 20.2 206.5 20.2 206 22.3 201.5 23.5 198.5 26.9 198.1 28.5 199.4 31 199.8 33.5 196.5 34.8 193.1 36.9 189 39.4 185.6 41 182.7 41.9 184.4 44.4 183.1 46 187.3 48.5 190.6 52.7 193.1 56 195.6 60.2 196.9 64.4 197.7 69.4 197.3 73.5 195.6 77.3 192.3 79 186.5 80.2 181.5 81.9 178.1 84.8 176.9 80.2 176.5 76.9 178.1 74.8 177.7 74 179.8 73.5 178.5 69.4 176.5 64.8 175.2 64.4 179.8 64 178.5 61 176.5 58.5 174.8 58.1 172.3 58.1 169.8 59 167.3 57.3 165.6 55.6 167.3 52.7 168.5 48.5 170.6 45.2 167.3 43.5 164.8 42.7 161.5 41.6 158.1 41.9 154 43.1 150.6 44.4 148.5 46.9 146.5 49 144 50 141.5 50.6 144 48.1 145.2 46.5 143.1 45.2 143.1 43.1 145.6 40.2 148.1 39 149.4 36.9 147.7 34 144.8 33.1 142.3 32.9 139.8 35.2 136.5 38.7 133.1 40.2 130.2 41.9 128.5 45.2 126.5 46.9 123.1 47.3 120.2 46.5 118.5 48.1 117.7 51 119.4 53.5 123.1 56 126.5 58.1 127.3 61 129.4 62.7 132.3 63.1 134.8 61 136.9 59 139.8 58.1 141.5 59.8 144.8 60.6 149 61 151.5 61.7 150.2 65.2 148.1 64.4 146 65.2 142.3 66.5 139.8 67.3 138.5 70.6 135.6 71.9 132.3 74 130.2 76.9 128.5 80.6 133.1 82.3 136 83.4M280.5 4.6 278 8.7 276.8 11.2 277.6 13.7 276.8 15.4 273 14.6 270.1 14.2 270.9 17.1 268.4 19.2 266.4 21.2 267.2 24.6 268 29.2 270.9 27.5 273.9 26.2 275.9 25.4 273 23.7 270.5 22.5 270.1 20.4 273 20.8 276.4 20 280.5 19.2 284.7 21.2 290.1 24.6 290.9 20.8 294.3 17.5 297.2 15.8 300.5 16.2 303.9 14.6 308.4 12.9 305.5 12.1 303.4 10.4 304.3 7.9 302.2 8.7 298 8.3 293.9 7.5 288.9 5M305.5 9.6 310.9 5M269.7 31.7 271.8 33.3 273 29.6 276.8 29.2 278 30.8 277.6 33.7 280.1 37.1 281.4 40.4 281.8 43.7 280.9 47.1 279.7 50.4 278.9 53.3 275.9 52.9 274.7 55.4 275.1 60.4 273.9 64.6 272.6 67.1 272.2 70 273.4 72.9 272.2 75.4 270.5 78.3 267.6 80 266.4 80 267.6 77.1 267.2 75 264.7 76.2 262.6 76.7 261.8 78.7 260.5 82.5 259.3 79.2 256.4 81.2 253.9 82.1 250.1 81.7 248 80.4 246.4 79.2 245.1 81.2 246.8 84.2 243.9 86.2 241.4 89.2 239.7 91.2 237.2 90.4 235.9 87.1 235.5 82.9 237.2 80.8 231.4 80.2 226.4 81.7 221.4 82.9 217.2 84.6 213.9 85.8 210.5 86.2 207.6 86.2 207.2 84.2 208.9 82.5 212.6 80.4 216.4 77.9 220.1 75 226.4 74.2 232.2 73.6 236.8 72.9 239.3 75.4 241.8 74.6 240.9 71.7 243 68.3 245.5 65 246.4 62.1 249.3 60 248 65.8 251.8 64.6 256.4 62.9 259.7 60 260.5 57.5 263.4 55.8 264.7 53.7 266.4 50 268 46.7 268.9 42.1 268.4 37.1 268.9 33.7ZM216.4 87.1 219.7 85.4 223.9 84.6 228 83.7 231.4 84.6 232.6 86.2 231.4 89.2 228.9 92.5 226.8 90.8 224.3 90.8 222.2 92.9 220.9 96.2 218 95.4 216.4 92.9 217.2 90ZM207.6 87.5 210.5 87.9 213.9 88.7 214.7 92.1 213.4 96.2 211.8 100.4 210.9 105.4 208.4 107.9 205.9 109.2 202.2 107.9 202.2 102.1 204.3 99.2 203.9 94.6 202.2 93.3 202.6 96.2 198.9 96.2 197.6 92.5 200.1 90.4 203.9 88.7Z"/>
<path d="M0 0H537.2 V324.3 H0Z M5.4 5.4 V318.9 H531.8 V5.4Z" fill="#fff" fill-rule="evenodd"/><path d="M2.7 323H100.7M100.7 4.1H201.5M201.5 323H302.2M302.2 4.1H402.9M402.9 323H470.1M470.1 4.1H534.5M1.3 321.6V256.9M533.1 256.9V188.2M1.3 188.2V116.7M533.1 116.7V40.5M1.3 40.5V20.5M533.1 20.5V2.7" stroke="#8c8c8c" stroke-width="1.5" fill="none"/><path d="M2.7 321.3H100.7M100.7 2.4H201.5M201.5 321.3H302.2M302.2 2.4H402.9M402.9 321.3H470.1M470.1 2.4H534.5M3 321.6V256.9M534.8 256.9V188.2M3 188.2V116.7M534.8 116.7V40.5M3 40.5V20.5M534.8 20.5V2.7" stroke="#000" stroke-width="2.1" fill="none"/><path d="M0 0H537.2V324.3H0ZM5.4 5.4H531.8V318.9H5.4ZM0 0L5.4 5.4M537.2 0L531.8 5.4M0 324.3L5.4 318.9M537.2 324.3L531.8 318.9M100.7 0V5.4M100.7 318.9V324.3M201.5 0V5.4M201.5 318.9V324.3M302.2 0V5.4M302.2 318.9V324.3M402.9 0V5.4M402.9 318.9V324.3M470.1 0V5.4M470.1 318.9V324.3M0 256.9H5.4M531.8 256.9H537.2M0 188.2H5.4M531.8 188.2H537.2M0 116.7H5.4M531.8 116.7H537.2M0 40.5H5.4M531.8 40.5H537.2M0 20.5H5.4M531.8 20.5H537.2" stroke="#111" stroke-width="1.1" fill="none"/><path d="M0 -5.6V0M0 324.3V329.9M201.5 -5.6V0M201.5 324.3V329.9M402.9 -5.6V0M402.9 324.3V329.9M-5.6 324.3H0M537.2 324.3H542.8M-5.6 188.2H0M537.2 188.2H542.8M-5.6 40.5H0M537.2 40.5H542.8" stroke="#000" stroke-width="2" fill="none"/>
<path class="m" d="M323.1 44.7 323.1 47.7 319.1 50.7 314 53.3 307.9 56.3 300.9 57.8 295.8 62.9 291.7 67.9 290.7 73 286.7 78 282.6 81.1 277.6 83.1 271.5 83.9 263.4 84.1 257.3 88.2 251.3 92.2 245.2 96.8 238.1 101.3 235.1 107.4 233.6 113.5 234.6 119.5 236.6 125.6 239.1 131.7 242.2 136.7 246.2 141.8 250.3 146.3 255.3 150.9 260.4 153.9 265.4 156.5 270.5 158.5 275.6 160 276.6 165.1 277.6 171.1 276.1 177.2 274.5 181.3"/>
<path class="b" d="M294.8 30 294.3 26.4 295.3 23.4 297.8 22.9M356 16.8 355.5 20.4 352.5 22.9 348.4 23.9 344.4 22.4 341.3 22.9 338.3 25.9 335.3 29 331.2 30 329.2 28 329.2 24.9M348.4 43.1 347.4 46.2 344.4 48.7 340.3 50.2 344.4 51.2M336.3 58.8 338.3 61.9 338.3 65.9 335.3 68.4 332.2 66.9 333.2 62.9 336.3 62.9M335.3 68.4 331.2 71 328.2 74 327.7 77 330.7 79.6M222.9 131.7 227 131.2 230.5 129.1 233.1 124.6 234.1 119.5 233.1 115 229.5 113 225.5 114.5 223.4 118.5 223.9 122.6 227 125.6 231 128.6 234.1 132.7 237.1 135.2 240.6 136.2M244.7 137.7 245.2 133.7 246.2 129.7 250.3 127.6 255.3 127.1 260.4 128.6 263.4 130.7 265.9 133.7 267.5 137.2M273.5 120.5 274.5 117.5 271.5 115.5 267.5 117 264.9 120.5 266.4 124.6 269.5 128.6 272.5 132.7 273.5 136.7 272.5 140.8 269.5 143.8 265.4 144.3 261.9 143.3M275.6 129.7 278.6 130.2 282.6 133.7 285.7 137.7 288.7 141.8 290.7 146.9 291.7 151.9 291.2 157 290.7 162M288.7 141.8 292.8 137.7 297.8 136.2 301.9 137.2 305.9 140.8 308.9 145.8 311.5 149.9 314 150.9M290.7 146.9 294.8 144.8 298.8 144.8 302.9 146.9 304.9 150.9 302.9 153.9 298.8 152.9M286.7 157 290.7 159 294.8 158 298.8 156 302.9 152.9 305.9 150.9M286.7 147.9 289.7 149.9M217.9 160 219.4 156 222.9 151.9 227 149.4 231 148.9 235.1 150.9 239.1 155 242.2 159 243.2 163 242.2 167.1 238.6 166.1M275.6 153.4 270.5 156 265.4 158.5 260.4 160.5 257.8 163 258.9 167.1 260.4 170.1M244.7 202.5 248.7 201 252.3 202.5 255.3 203.5 257.8 201M255.3 203.5 253.8 207.1"/>
<text class="n" x="13" y="58.4">Talas</text>
<text class="n i" transform="translate(13 125.5) scale(1 1.04)">N</text><text class="n s" x="47.5" y="147.6">d</text><text class="n" transform="translate(69.5 125.5) scale(1 1.04)">=15</text>
</g>
<g transform="translate(740.2 1413.8)">
<path class="c" d="M104.8 168.7 102.3 169.3 97.3 170.2 95.6 172.7 94 172.2 91.9 169.7 90.2 173.1 88.1 170.6 86.5 174.3 81 176 77.3 177.7 73.1 178.9 69.4 179.9 68.3 181.8 70.2 184.7 69.4 186.2 66.9 186.2 65.6 183.5 65.2 178.9 63.1 178.1 61 176.8 58.1 176.4 54.8 177.1 50.6 178.9 46.5 181 43.5 183.9 41.5 186.8 39 188.9 37.7 192.2 37.1 195.4 38.5 198.1 40.6 200.6 42.3 203.5 45.6 207.2 49 210.6 54 214.3 58.1 218.9 59.8 221.4 61 225.6 61.9 229.7 62.1 234.7 61.5 239.7 60.6 243.9 60.2 246.4 54 249.7 48.1 253.5 45.2 254.1 44.4 254.7 44.8 258.1 42.7 261 38.1 262.2 33.5 266.4 32.3 262.2 32.7 258.5 33.5 256.4 31.5 256 29.4 254.3 28.5 252.7 24.8 252.9 22.3 251.4 20.2 248.9 18.5 245.2 16.9 242.7 13.5 240.2 11.9 238.9 8.1 238.9 5.6 238.1 4.8 233.9M74.4 188.2 71.5 188.1 66.5 188.2 63.1 189.3 59.8 191.4 57.7 193.5 57.3 196.8 58.1 199.3 60.6 201 64 201 67.3 199.3 70.2 196.8 71.9 193.5 73.1 191ZM4.8 277.7 9.8 278.5 12.3 281.4 16.5 284.3 20.2 287.2 23.1 291.4 23 297.2 22.7 304.7 24.8 307.2 26.9 310.6 28.5 314.7 24.8 315.2 21.5 313.5 16.5 310.6 12.3 308.5 9.8 305.6 9 302.2 4.8 298.1M4.8 309.7 8.1 309.3 10.6 311.4 13.1 312.7 15.6 314.7 18.5 316.4 21.5 318.5M59.6 318.9 60.6 313.9 63.5 311 68.1 313.1 74 313.9 76.9 305.2 83.1 304.3 86.5 302.7 89 298.9 92.3 296 95.6 292.7 98.1 291.4 103.1 291 104 288.5 107.3 285.6 109 281.8 111.9 279.7 114 277.2M138.4 198.7 141.2 198 143.7 199.2 146.6 200 148.4 199.2 150 198.7 149.4 202.7 149.2 206.2 151.2 209.1 150.5 212 148.4 214.8 145.5 217 143.9 219.1 143.7 221.6 144.7 224.5 145.5 227.3 146.6 230.2 149.1 230.5 151.2 228.7 154.1 229 157.7 230.2 161.2 231.8 159.4 233.4 160.4 235.9 161.9 237.7 159.8 237.5 157.7 235.9 156.2 233.4 154.8 232 152.8 231.2 151.6 232 152.8 233.4 152.5 236.2 151.6 237 150.2 234.5 148.7 232 146.9 230.9 144.8 231.2 143 232.3 141.9 233.4 140.2 233.7 138.9 232.3 138.9 230.5 139.8 228.7 140.9 227.3 138.9 225.4 138 225.9 136.6 225 134.8 224.1 134.1 220.5 133.4 216.2 133 215.4 134.8 214.8 136.2 216.2 136.9 212.7 137.7 208.4 136.4 205.5 137.3 202.7ZM137.3 234.5 139.8 234.1 141.9 234.8 143.7 236.2 144.4 238.7 144.1 241.2 141.9 243 140.2 240.2 138.7 237ZM130.9 248.4 132.3 252.7 129.8 255.5 126.2 258.4 121.9 263.7 119.1 266.2 116.2 268 115.5 267 118.4 263.7 122.7 260.5 126.2 257 129.1 252.7ZM164.1 240.5 166.9 240.2 169.8 239.8 171.2 242 171.6 245.5 172.3 249.1 169.1 249.8 167.7 251.2 168.7 254.1 169.4 255.5 166.9 255.9 165.5 253.4 164.1 252 164.4 249.1 166.9 247.7 168.4 245.5 167.7 243.7 165.5 243ZM146.9 244.8 150.5 245.5 151.9 247 155.2 247.3 155.9 249.8 157.7 252 159.8 252.3 161.2 249.8 161.2 252.7 161.9 254.8 163.4 256.2 164.1 258.4 161.9 259.5 160.2 258 158 259.1 156.2 260.2 156.6 262 155.2 264.1 153.4 262 151.6 259.5 150.5 258.4 152.3 257 152.7 254.1 150.5 252.7 147.7 252.3 146.9 249.8 147.7 247.7ZM170.5 259.1 172.7 259.8 175.2 262.3 176.9 264.8 177.3 268.4 178.4 272 178.7 274.8 177.7 277.7 176.2 279.8 175.5 282.3 174.4 279.8 173.7 277.3 172.7 275.5 170.9 277.7 169.8 279.5 171.6 281.6 172.7 284.1 171.6 285.9 170.5 287.3 168.4 285.9 165.5 285.2 162.7 283.4 160.9 282 160.5 279.1 161.9 277.7 161.9 275.5 160.2 274.1 158 273 156.2 274.1 154.1 274.8 153.4 273.4 151.6 273 149.8 274.1 149.1 276.6 148 279.1 147.3 277 147.3 274.1 148 271.6 149.8 270.5 152.3 269.5 154.1 267.7 155.9 266.6 157.7 266.2 159.4 267.7 160.9 269.8 162.7 268.4 165.2 267.3 166.2 264.5 168.7 264.8 170.2 263ZM112.3 279.8 114.1 277.7 116.2 279.5 118.7 280.9 119.1 283.4 118.4 285.2 122.7 287.3 126.2 288.7 129.4 290.2 125.5 291.2 121.9 292.3 123.4 293.7 124.8 294.8 120.2 295.9 119.4 299.8 117.3 302.7 118.7 306.2 120.9 308.7 119.4 310.9 121.9 313.4 125.5 315.9 128 319.1M138.9 319.1 140.2 315.9 144.8 317 149.1 317.7 154.1 318 159.1 317.7 162.7 317 165.5 315.2 167.7 313 169.8 314.5 167.7 317 165.5 319.1M183.4 319.1 184.1 314.1 185.5 310.9 187.7 309.5 188.4 312.3 187.7 314.5 189.8 315.5 191.2 314.1 193 313.7 193.2 319.1M139.5 174.5 139.9 175.1M136 83.4 137.7 88.4 139.4 94.2 140.2 97.6 143.1 98.8 145.6 100.9 146.9 103.4 143.1 104.2 145.6 106.3 147.3 108 147.7 109.7 144 110.5 140.6 112.2 136.9 114.1 139.8 114.7 143.1 113.8 146.5 115.5 148.5 116.7 147.7 122.2 145.6 122.6 144.6 127.2 145.2 128.8 142.3 129.7 140.6 130.1 138.5 134.2 136.5 138 134 140.9 131.9 140.5 132.7 144.2 131.5 147.6 128.5 150.9 126.3 152.6 125.2 155.5 122.7 155.9 121.9 158.4 116.5 162.2 111.5 165.5 108.1 167.6 104.8 168.4M144.8 150.5 146.9 151.3 147.7 154.2 146.9 158.4 145.6 162.6 144.4 166.7 141.9 170.5 140.2 174.2 139 173 137.3 170.1 135.6 166.7 135.2 162.6 136.9 158.8 139 155.1 141.5 151.7ZM197.3 129.1 199.4 127.7M186 144.4 187.7 141.7 189.4 139.7M186.9 143.8 188.5 141.7M240.6 3.5 239.8 6.5 237.3 11 233.1 13.5 228.1 16 224.8 18.1 221.9 19.4 218.1 17.7 216.5 16.5 217.3 14 213.1 14 211.5 16 209.8 19 207.7 20.2 206.5 20.2 206 22.3 201.5 23.5 198.5 26.9 198.1 28.5 199.4 31 199.8 33.5 196.5 34.8 193.1 36.9 189 39.4 185.6 41 182.7 41.9 184.4 44.4 183.1 46 187.3 48.5 190.6 52.7 193.1 56 195.6 60.2 196.9 64.4 197.7 69.4 197.3 73.5 195.6 77.3 192.3 79 186.5 80.2 181.5 81.9 178.1 84.8 176.9 80.2 176.5 76.9 178.1 74.8 177.7 74 179.8 73.5 178.5 69.4 176.5 64.8 175.2 64.4 179.8 64 178.5 61 176.5 58.5 174.8 58.1 172.3 58.1 169.8 59 167.3 57.3 165.6 55.6 167.3 52.7 168.5 48.5 170.6 45.2 167.3 43.5 164.8 42.7 161.5 41.6 158.1 41.9 154 43.1 150.6 44.4 148.5 46.9 146.5 49 144 50 141.5 50.6 144 48.1 145.2 46.5 143.1 45.2 143.1 43.1 145.6 40.2 148.1 39 149.4 36.9 147.7 34 144.8 33.1 142.3 32.9 139.8 35.2 136.5 38.7 133.1 40.2 130.2 41.9 128.5 45.2 126.5 46.9 123.1 47.3 120.2 46.5 118.5 48.1 117.7 51 119.4 53.5 123.1 56 126.5 58.1 127.3 61 129.4 62.7 132.3 63.1 134.8 61 136.9 59 139.8 58.1 141.5 59.8 144.8 60.6 149 61 151.5 61.7 150.2 65.2 148.1 64.4 146 65.2 142.3 66.5 139.8 67.3 138.5 70.6 135.6 71.9 132.3 74 130.2 76.9 128.5 80.6 133.1 82.3 136 83.4M280.5 4.6 278 8.7 276.8 11.2 277.6 13.7 276.8 15.4 273 14.6 270.1 14.2 270.9 17.1 268.4 19.2 266.4 21.2 267.2 24.6 268 29.2 270.9 27.5 273.9 26.2 275.9 25.4 273 23.7 270.5 22.5 270.1 20.4 273 20.8 276.4 20 280.5 19.2 284.7 21.2 290.1 24.6 290.9 20.8 294.3 17.5 297.2 15.8 300.5 16.2 303.9 14.6 308.4 12.9 305.5 12.1 303.4 10.4 304.3 7.9 302.2 8.7 298 8.3 293.9 7.5 288.9 5M305.5 9.6 310.9 5M269.7 31.7 271.8 33.3 273 29.6 276.8 29.2 278 30.8 277.6 33.7 280.1 37.1 281.4 40.4 281.8 43.7 280.9 47.1 279.7 50.4 278.9 53.3 275.9 52.9 274.7 55.4 275.1 60.4 273.9 64.6 272.6 67.1 272.2 70 273.4 72.9 272.2 75.4 270.5 78.3 267.6 80 266.4 80 267.6 77.1 267.2 75 264.7 76.2 262.6 76.7 261.8 78.7 260.5 82.5 259.3 79.2 256.4 81.2 253.9 82.1 250.1 81.7 248 80.4 246.4 79.2 245.1 81.2 246.8 84.2 243.9 86.2 241.4 89.2 239.7 91.2 237.2 90.4 235.9 87.1 235.5 82.9 237.2 80.8 231.4 80.2 226.4 81.7 221.4 82.9 217.2 84.6 213.9 85.8 210.5 86.2 207.6 86.2 207.2 84.2 208.9 82.5 212.6 80.4 216.4 77.9 220.1 75 226.4 74.2 232.2 73.6 236.8 72.9 239.3 75.4 241.8 74.6 240.9 71.7 243 68.3 245.5 65 246.4 62.1 249.3 60 248 65.8 251.8 64.6 256.4 62.9 259.7 60 260.5 57.5 263.4 55.8 264.7 53.7 266.4 50 268 46.7 268.9 42.1 268.4 37.1 268.9 33.7ZM216.4 87.1 219.7 85.4 223.9 84.6 228 83.7 231.4 84.6 232.6 86.2 231.4 89.2 228.9 92.5 226.8 90.8 224.3 90.8 222.2 92.9 220.9 96.2 218 95.4 216.4 92.9 217.2 90ZM207.6 87.5 210.5 87.9 213.9 88.7 214.7 92.1 213.4 96.2 211.8 100.4 210.9 105.4 208.4 107.9 205.9 109.2 202.2 107.9 202.2 102.1 204.3 99.2 203.9 94.6 202.2 93.3 202.6 96.2 198.9 96.2 197.6 92.5 200.1 90.4 203.9 88.7Z"/>
<path d="M0 0H537.2 V324.3 H0Z M5.4 5.4 V318.9 H531.8 V5.4Z" fill="#fff" fill-rule="evenodd"/><path d="M2.7 323H100.7M100.7 4.1H201.5M201.5 323H235M235 4.1H268.6M268.6 323H335.8M335.8 4.1H402.9M402.9 323H470.1M470.1 4.1H534.5M1.3 321.6V256.9M533.1 256.9V188.2M1.3 188.2V116.7M533.1 116.7V40.5M1.3 40.5V20.5M533.1 20.5V2.7" stroke="#8c8c8c" stroke-width="1.5" fill="none"/><path d="M2.7 321.3H100.7M100.7 2.4H201.5M201.5 321.3H235M235 2.4H268.6M268.6 321.3H335.8M335.8 2.4H402.9M402.9 321.3H470.1M470.1 2.4H534.5M3 321.6V256.9M534.8 256.9V188.2M3 188.2V116.7M534.8 116.7V40.5M3 40.5V20.5M534.8 20.5V2.7" stroke="#000" stroke-width="2.1" fill="none"/><path d="M0 0H537.2V324.3H0ZM5.4 5.4H531.8V318.9H5.4ZM0 0L5.4 5.4M537.2 0L531.8 5.4M0 324.3L5.4 318.9M537.2 324.3L531.8 318.9M100.7 0V5.4M100.7 318.9V324.3M201.5 0V5.4M201.5 318.9V324.3M235 0V5.4M235 318.9V324.3M268.6 0V5.4M268.6 318.9V324.3M335.8 0V5.4M335.8 318.9V324.3M402.9 0V5.4M402.9 318.9V324.3M470.1 0V5.4M470.1 318.9V324.3M0 256.9H5.4M531.8 256.9H537.2M0 188.2H5.4M531.8 188.2H537.2M0 116.7H5.4M531.8 116.7H537.2M0 40.5H5.4M531.8 40.5H537.2M0 20.5H5.4M531.8 20.5H537.2" stroke="#111" stroke-width="1.1" fill="none"/><path d="M0 -5.6V0M0 324.3V329.9M201.5 -5.6V0M201.5 324.3V329.9M268.6 -5.6V0M268.6 324.3V329.9M402.9 -5.6V0M402.9 324.3V329.9M-5.6 324.3H0M537.2 324.3H542.8M-5.6 188.2H0M537.2 188.2H542.8M-5.6 40.5H0M537.2 40.5H542.8" stroke="#000" stroke-width="2" fill="none"/>
<path class="m" d="M22.3 215.9 32.1 215.9 43.7 216.6 54.4 217.1 66 217.5 74.1 218.9 80.3 220 88.4 218 97.3 216.8 106.2 216.4 113.4 216.2 118.7 215 123.6 213.9M123.4 214.1 128.7 217.7 134.1 220 140.3 221.7 146.6 222.6 155.5 223.1 164.4 222.2 171.6 220.4 177.8 217.7 182.3 215 187.7 212.8 193.9 211 200.2 208.3 205.5 206.4 211.8 205.2 218 204.8 225.2 204.8 231.4 205.7 226.9 206.7 222.5 207.5"/>
<path class="b" d="M140.8 175.8 142.1 178.9 144.4 182.5 146.6 186 147.9 188.3 146.6 190.9 149.3 195 151 198.5 152.4 203 155.1 206.6 159.1 208.3 163.5 208.3 167.1 206.1 169.8 202.5 171.1 199.4 168.5 197.6 165.8 197.6M168.5 197.6 173.4 195.8 178.7 194.1 184.1 193.2 189.4 192.5 194.8 192.7 198.4 193.2M201.9 179.8 199.3 182.5 198.4 186.9 199.3 191.4 198.4 195.8 197.5 200.3 199.3 203.9M201.9 180.7 205.5 182.5 209.1 183.3 213.5 183.8 218 184.7 221.6 185.6 222.5 187.8 220.7 189.6 221.6 193.2M212.7 186 209.1 190.5 205.5 195 201.9 199.4 199.3 203M217.1 186.9 213.5 191.4 210 195.8 206.4 200.3M203.7 183.3 202.8 188.7 201.9 194.1 201 199.4M205.5 184.2 209.1 186.9M200.2 185.1 205.5 186.9 208.2 185.1M189.4 201.2 193 203 197.5 203.9 201.9 203 207.3 201.6 212.7 200.8 218 200.3 223.4 200.3 228.7 201.2 233.2 202.5 236.8 204.8 240.3 207 243 204.8 246.6 202.1 250.2 201.2 252.8 203.9 253.7 206.6 256.4 204.8 258.2 202.5M181.4 213.7 183.2 211 186.8 208.8 191.2 208.3 195.7 208.8 199.3 207M225.6 169.1 229.6 169.5 234.1 170.4 237.7 172.6 240.3 174.9 242.1 177.1 240.3 178.9 236.8 178.9 234.1 177.1 232.3 174.4 230.5 171.7 235.9 174.4 238.5 176.6M177.8 223.5 181.4 222.6 185.9 223.5 190.3 224 194.8 223.5M180.5 226.2 185 227.5 189.4 227.1 193.9 226.2M184.1 228.9 187.7 228.9"/>
<path class="r" d="M216.7 196.7 218.9 198.5 218 203 216.7 206.6 215.3 208.8 213.5 208.3"/>
<text class="n" x="13" y="58.4">Noru</text>
<text class="n i" transform="translate(13 125.5) scale(1 1.04)">N</text><text class="n s" x="47.5" y="147.6">d</text><text class="n" transform="translate(69.5 125.5) scale(1 1.04)">=13</text>
</g>
<g transform="translate(1353.1 1413.8)">
<path class="c" d="M104.8 168.7 102.3 169.3 97.3 170.2 95.6 172.7 94 172.2 91.9 169.7 90.2 173.1 88.1 170.6 86.5 174.3 81 176 77.3 177.7 73.1 178.9 69.4 179.9 68.3 181.8 70.2 184.7 69.4 186.2 66.9 186.2 65.6 183.5 65.2 178.9 63.1 178.1 61 176.8 58.1 176.4 54.8 177.1 50.6 178.9 46.5 181 43.5 183.9 41.5 186.8 39 188.9 37.7 192.2 37.1 195.4 38.5 198.1 40.6 200.6 42.3 203.5 45.6 207.2 49 210.6 54 214.3 58.1 218.9 59.8 221.4 61 225.6 61.9 229.7 62.1 234.7 61.5 239.7 60.6 243.9 60.2 246.4 54 249.7 48.1 253.5 45.2 254.1 44.4 254.7 44.8 258.1 42.7 261 38.1 262.2 33.5 266.4 32.3 262.2 32.7 258.5 33.5 256.4 31.5 256 29.4 254.3 28.5 252.7 24.8 252.9 22.3 251.4 20.2 248.9 18.5 245.2 16.9 242.7 13.5 240.2 11.9 238.9 8.1 238.9 5.6 238.1 4.8 233.9M74.4 188.2 71.5 188.1 66.5 188.2 63.1 189.3 59.8 191.4 57.7 193.5 57.3 196.8 58.1 199.3 60.6 201 64 201 67.3 199.3 70.2 196.8 71.9 193.5 73.1 191ZM4.8 277.7 9.8 278.5 12.3 281.4 16.5 284.3 20.2 287.2 23.1 291.4 23 297.2 22.7 304.7 24.8 307.2 26.9 310.6 28.5 314.7 24.8 315.2 21.5 313.5 16.5 310.6 12.3 308.5 9.8 305.6 9 302.2 4.8 298.1M4.8 309.7 8.1 309.3 10.6 311.4 13.1 312.7 15.6 314.7 18.5 316.4 21.5 318.5M59.6 318.9 60.6 313.9 63.5 311 68.1 313.1 74 313.9 76.9 305.2 83.1 304.3 86.5 302.7 89 298.9 92.3 296 95.6 292.7 98.1 291.4 103.1 291 104 288.5 107.3 285.6 109 281.8 111.9 279.7 114 277.2M138.4 198.7 141.2 198 143.7 199.2 146.6 200 148.4 199.2 150 198.7 149.4 202.7 149.2 206.2 151.2 209.1 150.5 212 148.4 214.8 145.5 217 143.9 219.1 143.7 221.6 144.7 224.5 145.5 227.3 146.6 230.2 149.1 230.5 151.2 228.7 154.1 229 157.7 230.2 161.2 231.8 159.4 233.4 160.4 235.9 161.9 237.7 159.8 237.5 157.7 235.9 156.2 233.4 154.8 232 152.8 231.2 151.6 232 152.8 233.4 152.5 236.2 151.6 237 150.2 234.5 148.7 232 146.9 230.9 144.8 231.2 143 232.3 141.9 233.4 140.2 233.7 138.9 232.3 138.9 230.5 139.8 228.7 140.9 227.3 138.9 225.4 138 225.9 136.6 225 134.8 224.1 134.1 220.5 133.4 216.2 133 215.4 134.8 214.8 136.2 216.2 136.9 212.7 137.7 208.4 136.4 205.5 137.3 202.7ZM137.3 234.5 139.8 234.1 141.9 234.8 143.7 236.2 144.4 238.7 144.1 241.2 141.9 243 140.2 240.2 138.7 237ZM130.9 248.4 132.3 252.7 129.8 255.5 126.2 258.4 121.9 263.7 119.1 266.2 116.2 268 115.5 267 118.4 263.7 122.7 260.5 126.2 257 129.1 252.7ZM164.1 240.5 166.9 240.2 169.8 239.8 171.2 242 171.6 245.5 172.3 249.1 169.1 249.8 167.7 251.2 168.7 254.1 169.4 255.5 166.9 255.9 165.5 253.4 164.1 252 164.4 249.1 166.9 247.7 168.4 245.5 167.7 243.7 165.5 243ZM146.9 244.8 150.5 245.5 151.9 247 155.2 247.3 155.9 249.8 157.7 252 159.8 252.3 161.2 249.8 161.2 252.7 161.9 254.8 163.4 256.2 164.1 258.4 161.9 259.5 160.2 258 158 259.1 156.2 260.2 156.6 262 155.2 264.1 153.4 262 151.6 259.5 150.5 258.4 152.3 257 152.7 254.1 150.5 252.7 147.7 252.3 146.9 249.8 147.7 247.7ZM170.5 259.1 172.7 259.8 175.2 262.3 176.9 264.8 177.3 268.4 178.4 272 178.7 274.8 177.7 277.7 176.2 279.8 175.5 282.3 174.4 279.8 173.7 277.3 172.7 275.5 170.9 277.7 169.8 279.5 171.6 281.6 172.7 284.1 171.6 285.9 170.5 287.3 168.4 285.9 165.5 285.2 162.7 283.4 160.9 282 160.5 279.1 161.9 277.7 161.9 275.5 160.2 274.1 158 273 156.2 274.1 154.1 274.8 153.4 273.4 151.6 273 149.8 274.1 149.1 276.6 148 279.1 147.3 277 147.3 274.1 148 271.6 149.8 270.5 152.3 269.5 154.1 267.7 155.9 266.6 157.7 266.2 159.4 267.7 160.9 269.8 162.7 268.4 165.2 267.3 166.2 264.5 168.7 264.8 170.2 263ZM112.3 279.8 114.1 277.7 116.2 279.5 118.7 280.9 119.1 283.4 118.4 285.2 122.7 287.3 126.2 288.7 129.4 290.2 125.5 291.2 121.9 292.3 123.4 293.7 124.8 294.8 120.2 295.9 119.4 299.8 117.3 302.7 118.7 306.2 120.9 308.7 119.4 310.9 121.9 313.4 125.5 315.9 128 319.1M138.9 319.1 140.2 315.9 144.8 317 149.1 317.7 154.1 318 159.1 317.7 162.7 317 165.5 315.2 167.7 313 169.8 314.5 167.7 317 165.5 319.1M183.4 319.1 184.1 314.1 185.5 310.9 187.7 309.5 188.4 312.3 187.7 314.5 189.8 315.5 191.2 314.1 193 313.7 193.2 319.1M139.5 174.5 139.9 175.1M136 83.4 137.7 88.4 139.4 94.2 140.2 97.6 143.1 98.8 145.6 100.9 146.9 103.4 143.1 104.2 145.6 106.3 147.3 108 147.7 109.7 144 110.5 140.6 112.2 136.9 114.1 139.8 114.7 143.1 113.8 146.5 115.5 148.5 116.7 147.7 122.2 145.6 122.6 144.6 127.2 145.2 128.8 142.3 129.7 140.6 130.1 138.5 134.2 136.5 138 134 140.9 131.9 140.5 132.7 144.2 131.5 147.6 128.5 150.9 126.3 152.6 125.2 155.5 122.7 155.9 121.9 158.4 116.5 162.2 111.5 165.5 108.1 167.6 104.8 168.4M144.8 150.5 146.9 151.3 147.7 154.2 146.9 158.4 145.6 162.6 144.4 166.7 141.9 170.5 140.2 174.2 139 173 137.3 170.1 135.6 166.7 135.2 162.6 136.9 158.8 139 155.1 141.5 151.7ZM197.3 129.1 199.4 127.7M186 144.4 187.7 141.7 189.4 139.7M186.9 143.8 188.5 141.7M240.6 3.5 239.8 6.5 237.3 11 233.1 13.5 228.1 16 224.8 18.1 221.9 19.4 218.1 17.7 216.5 16.5 217.3 14 213.1 14 211.5 16 209.8 19 207.7 20.2 206.5 20.2 206 22.3 201.5 23.5 198.5 26.9 198.1 28.5 199.4 31 199.8 33.5 196.5 34.8 193.1 36.9 189 39.4 185.6 41 182.7 41.9 184.4 44.4 183.1 46 187.3 48.5 190.6 52.7 193.1 56 195.6 60.2 196.9 64.4 197.7 69.4 197.3 73.5 195.6 77.3 192.3 79 186.5 80.2 181.5 81.9 178.1 84.8 176.9 80.2 176.5 76.9 178.1 74.8 177.7 74 179.8 73.5 178.5 69.4 176.5 64.8 175.2 64.4 179.8 64 178.5 61 176.5 58.5 174.8 58.1 172.3 58.1 169.8 59 167.3 57.3 165.6 55.6 167.3 52.7 168.5 48.5 170.6 45.2 167.3 43.5 164.8 42.7 161.5 41.6 158.1 41.9 154 43.1 150.6 44.4 148.5 46.9 146.5 49 144 50 141.5 50.6 144 48.1 145.2 46.5 143.1 45.2 143.1 43.1 145.6 40.2 148.1 39 149.4 36.9 147.7 34 144.8 33.1 142.3 32.9 139.8 35.2 136.5 38.7 133.1 40.2 130.2 41.9 128.5 45.2 126.5 46.9 123.1 47.3 120.2 46.5 118.5 48.1 117.7 51 119.4 53.5 123.1 56 126.5 58.1 127.3 61 129.4 62.7 132.3 63.1 134.8 61 136.9 59 139.8 58.1 141.5 59.8 144.8 60.6 149 61 151.5 61.7 150.2 65.2 148.1 64.4 146 65.2 142.3 66.5 139.8 67.3 138.5 70.6 135.6 71.9 132.3 74 130.2 76.9 128.5 80.6 133.1 82.3 136 83.4M280.5 4.6 278 8.7 276.8 11.2 277.6 13.7 276.8 15.4 273 14.6 270.1 14.2 270.9 17.1 268.4 19.2 266.4 21.2 267.2 24.6 268 29.2 270.9 27.5 273.9 26.2 275.9 25.4 273 23.7 270.5 22.5 270.1 20.4 273 20.8 276.4 20 280.5 19.2 284.7 21.2 290.1 24.6 290.9 20.8 294.3 17.5 297.2 15.8 300.5 16.2 303.9 14.6 308.4 12.9 305.5 12.1 303.4 10.4 304.3 7.9 302.2 8.7 298 8.3 293.9 7.5 288.9 5M305.5 9.6 310.9 5M269.7 31.7 271.8 33.3 273 29.6 276.8 29.2 278 30.8 277.6 33.7 280.1 37.1 281.4 40.4 281.8 43.7 280.9 47.1 279.7 50.4 278.9 53.3 275.9 52.9 274.7 55.4 275.1 60.4 273.9 64.6 272.6 67.1 272.2 70 273.4 72.9 272.2 75.4 270.5 78.3 267.6 80 266.4 80 267.6 77.1 267.2 75 264.7 76.2 262.6 76.7 261.8 78.7 260.5 82.5 259.3 79.2 256.4 81.2 253.9 82.1 250.1 81.7 248 80.4 246.4 79.2 245.1 81.2 246.8 84.2 243.9 86.2 241.4 89.2 239.7 91.2 237.2 90.4 235.9 87.1 235.5 82.9 237.2 80.8 231.4 80.2 226.4 81.7 221.4 82.9 217.2 84.6 213.9 85.8 210.5 86.2 207.6 86.2 207.2 84.2 208.9 82.5 212.6 80.4 216.4 77.9 220.1 75 226.4 74.2 232.2 73.6 236.8 72.9 239.3 75.4 241.8 74.6 240.9 71.7 243 68.3 245.5 65 246.4 62.1 249.3 60 248 65.8 251.8 64.6 256.4 62.9 259.7 60 260.5 57.5 263.4 55.8 264.7 53.7 266.4 50 268 46.7 268.9 42.1 268.4 37.1 268.9 33.7ZM216.4 87.1 219.7 85.4 223.9 84.6 228 83.7 231.4 84.6 232.6 86.2 231.4 89.2 228.9 92.5 226.8 90.8 224.3 90.8 222.2 92.9 220.9 96.2 218 95.4 216.4 92.9 217.2 90ZM207.6 87.5 210.5 87.9 213.9 88.7 214.7 92.1 213.4 96.2 211.8 100.4 210.9 105.4 208.4 107.9 205.9 109.2 202.2 107.9 202.2 102.1 204.3 99.2 203.9 94.6 202.2 93.3 202.6 96.2 198.9 96.2 197.6 92.5 200.1 90.4 203.9 88.7Z"/>
<path d="M0 0H537.2 V324.3 H0Z M5.4 5.4 V318.9 H531.8 V5.4Z" fill="#fff" fill-rule="evenodd"/><path d="M2.7 323H100.7M100.7 4.1H201.5M201.5 323H235M235 4.1H268.6M268.6 323H335.8M335.8 4.1H402.9M402.9 323H470.1M470.1 4.1H534.5M1.3 321.6V256.9M533.1 256.9V188.2M1.3 188.2V116.7M533.1 116.7V40.5M1.3 40.5V20.5M533.1 20.5V2.7" stroke="#8c8c8c" stroke-width="1.5" fill="none"/><path d="M2.7 321.3H100.7M100.7 2.4H201.5M201.5 321.3H235M235 2.4H268.6M268.6 321.3H335.8M335.8 2.4H402.9M402.9 321.3H470.1M470.1 2.4H534.5M3 321.6V256.9M534.8 256.9V188.2M3 188.2V116.7M534.8 116.7V40.5M3 40.5V20.5M534.8 20.5V2.7" stroke="#000" stroke-width="2.1" fill="none"/><path d="M0 0H537.2V324.3H0ZM5.4 5.4H531.8V318.9H5.4ZM0 0L5.4 5.4M537.2 0L531.8 5.4M0 324.3L5.4 318.9M537.2 324.3L531.8 318.9M100.7 0V5.4M100.7 318.9V324.3M201.5 0V5.4M201.5 318.9V324.3M235 0V5.4M235 318.9V324.3M268.6 0V5.4M268.6 318.9V324.3M335.8 0V5.4M335.8 318.9V324.3M402.9 0V5.4M402.9 318.9V324.3M470.1 0V5.4M470.1 318.9V324.3M0 256.9H5.4M531.8 256.9H537.2M0 188.2H5.4M531.8 188.2H537.2M0 116.7H5.4M531.8 116.7H537.2M0 40.5H5.4M531.8 40.5H537.2M0 20.5H5.4M531.8 20.5H537.2" stroke="#111" stroke-width="1.1" fill="none"/><path d="M0 -5.6V0M0 324.3V329.9M201.5 -5.6V0M201.5 324.3V329.9M268.6 -5.6V0M268.6 324.3V329.9M402.9 -5.6V0M402.9 324.3V329.9M-5.6 324.3H0M537.2 324.3H542.8M-5.6 188.2H0M537.2 188.2H542.8M-5.6 40.5H0M537.2 40.5H542.8" stroke="#000" stroke-width="2" fill="none"/>
<path class="m" d="M425.1 0.2 418.3 6.4 411.5 12 403.6 18.3 395.7 24.5 390.1 32.4 384.4 40.3 377.6 49.4 369.7 56.1 361.8 62.9 353.9 69.1 345.9 75.4 338 81 330.1 85.5 321.1 89.5 313.2 94.6 305.2 99.7 298.4 105.3 291.7 110.4 286 115 281.5 120.6 279.8 127.4 280.4 134.2 281.5 141 283.2 146.6 286 151.1 289.4 155.7 292.8 160.2 296.2 165.8 299 170.4 300.7 176 303 181.7 307.5 184.5 313.2 187.3 318.2 189.6"/>
<path class="b" d="M382.7 23.3 379.9 17.7 376.5 13.7 372 13.2 367.4 14.9 364.6 18.8 365.2 22.8 368.6 25 374.2 25 378.7 23.3M338 43.1 343.7 42.6 349.3 43.1 348.2 47.1 344.8 49.9 340.3 50.5M336.9 56.1 334.1 60.7 333.5 65.2 335.8 67.5 339.2 65.2 338 60.7 335.8 62.9M335.8 67.5 332.4 70.8 329 72M290 93.5 291.7 88.9 295.1 85.5 300.7 83.3 306.4 82.7 312 84.4 316 87.8 318.8 92.3 319.9 96.9 317.7 101.4 313.2 103.6 308.6 105.3 304.1 105.9M321.1 83.3 319.9 87.8 319.9 92.3M347.1 83.3 341.4 83.8 335.8 85.5 332.4 88.9 332.4 93.5 335.8 95.7 340.3 96.9 338 101.4 333.5 105.9 329 109.9 326.7 112.7M290 108.7 292.8 112.7 296.2 116.1 299.6 118.9 305.2 119.5 310.9 118.9 314.3 120M305.2 119.5 304.1 124 300.7 127.4 297.3 128.5M247.6 128.5 253.2 128 258.9 128.5 263.4 130.8 266.8 134.2 270.2 137.6 274.7 136.4 278.1 133 279.2 128.5 278.1 121.7 275.8 117.2 271.3 115.5 266.8 116.6 264 120.6 264.5 126.3 267.9 130.8M253.2 133.6 256.6 137.6 260 142.1 264.5 143.2 270.2 142.1 274.7 138.7M279.2 131.9 283.7 130.8 287.1 129.7 287.1 135.3 284.9 141M284.9 142.1 289.4 145.5 295.1 147.7 300.7 146.6 305.2 143.2 306.4 138.7 301.8 135.9 297.3 136.4 292.8 139.8 290.5 144.4 291.7 150 296.2 154.5 301.8 155.7 307.5 153.4 312 148.9 314.3 143.2 313.2 138.7M284.3 153.4 288.3 156.8 293.9 159.1 300.7 157.9 306.4 155.7 310.9 152.3M282.6 163.6 289.4 162.5 296.2 161.3 303 159.1 309.8 156.8M289.4 162.5 290.5 167 289.4 170.4M297.3 143.2 303 150 308.6 146.6M268.5 156.8 263.4 159.1 258.9 161.3 260 165.8 261.7 170.4M318.8 189.6 314.3 190.7 309.8 193 309.2 197.5 312 199.8 316.5 198.6 317.1 195.2M321.1 185.1 327.9 187.3 334.6 189.6 340.3 193 344.8 196.4 349.3 199.8 352.7 197.5 351.6 191.9 350.5 188.5"/>
<text class="n" x="13" y="58.4">Kulap</text>
<text class="n i" transform="translate(13 125.5) scale(1 1.04)">N</text><text class="n s" x="47.5" y="147.6">d</text><text class="n" transform="translate(69.5 125.5) scale(1 1.04)">=23</text>
</g>
<g transform="translate(127.3 1765.2)">
<path class="c" d="M104.8 168.7 102.3 169.3 97.3 170.2 95.6 172.7 94 172.2 91.9 169.7 90.2 173.1 88.1 170.6 86.5 174.3 81 176 77.3 177.7 73.1 178.9 69.4 179.9 68.3 181.8 70.2 184.7 69.4 186.2 66.9 186.2 65.6 183.5 65.2 178.9 63.1 178.1 61 176.8 58.1 176.4 54.8 177.1 50.6 178.9 46.5 181 43.5 183.9 41.5 186.8 39 188.9 37.7 192.2 37.1 195.4 38.5 198.1 40.6 200.6 42.3 203.5 45.6 207.2 49 210.6 54 214.3 58.1 218.9 59.8 221.4 61 225.6 61.9 229.7 62.1 234.7 61.5 239.7 60.6 243.9 60.2 246.4 54 249.7 48.1 253.5 45.2 254.1 44.4 254.7 44.8 258.1 42.7 261 38.1 262.2 33.5 266.4 32.3 262.2 32.7 258.5 33.5 256.4 31.5 256 29.4 254.3 28.5 252.7 24.8 252.9 22.3 251.4 20.2 248.9 18.5 245.2 16.9 242.7 13.5 240.2 11.9 238.9 8.1 238.9 5.6 238.1 4.8 233.9M74.4 188.2 71.5 188.1 66.5 188.2 63.1 189.3 59.8 191.4 57.7 193.5 57.3 196.8 58.1 199.3 60.6 201 64 201 67.3 199.3 70.2 196.8 71.9 193.5 73.1 191ZM4.8 277.7 9.8 278.5 12.3 281.4 16.5 284.3 20.2 287.2 23.1 291.4 23 297.2 22.7 304.7 24.8 307.2 26.9 310.6 28.5 314.7 24.8 315.2 21.5 313.5 16.5 310.6 12.3 308.5 9.8 305.6 9 302.2 4.8 298.1M4.8 309.7 8.1 309.3 10.6 311.4 13.1 312.7 15.6 314.7 18.5 316.4 21.5 318.5M59.6 318.9 60.6 313.9 63.5 311 68.1 313.1 74 313.9 76.9 305.2 83.1 304.3 86.5 302.7 89 298.9 92.3 296 95.6 292.7 98.1 291.4 103.1 291 104 288.5 107.3 285.6 109 281.8 111.9 279.7 114 277.2M138.4 198.7 141.2 198 143.7 199.2 146.6 200 148.4 199.2 150 198.7 149.4 202.7 149.2 206.2 151.2 209.1 150.5 212 148.4 214.8 145.5 217 143.9 219.1 143.7 221.6 144.7 224.5 145.5 227.3 146.6 230.2 149.1 230.5 151.2 228.7 154.1 229 157.7 230.2 161.2 231.8 159.4 233.4 160.4 235.9 161.9 237.7 159.8 237.5 157.7 235.9 156.2 233.4 154.8 232 152.8 231.2 151.6 232 152.8 233.4 152.5 236.2 151.6 237 150.2 234.5 148.7 232 146.9 230.9 144.8 231.2 143 232.3 141.9 233.4 140.2 233.7 138.9 232.3 138.9 230.5 139.8 228.7 140.9 227.3 138.9 225.4 138 225.9 136.6 225 134.8 224.1 134.1 220.5 133.4 216.2 133 215.4 134.8 214.8 136.2 216.2 136.9 212.7 137.7 208.4 136.4 205.5 137.3 202.7ZM137.3 234.5 139.8 234.1 141.9 234.8 143.7 236.2 144.4 238.7 144.1 241.2 141.9 243 140.2 240.2 138.7 237ZM130.9 248.4 132.3 252.7 129.8 255.5 126.2 258.4 121.9 263.7 119.1 266.2 116.2 268 115.5 267 118.4 263.7 122.7 260.5 126.2 257 129.1 252.7ZM164.1 240.5 166.9 240.2 169.8 239.8 171.2 242 171.6 245.5 172.3 249.1 169.1 249.8 167.7 251.2 168.7 254.1 169.4 255.5 166.9 255.9 165.5 253.4 164.1 252 164.4 249.1 166.9 247.7 168.4 245.5 167.7 243.7 165.5 243ZM146.9 244.8 150.5 245.5 151.9 247 155.2 247.3 155.9 249.8 157.7 252 159.8 252.3 161.2 249.8 161.2 252.7 161.9 254.8 163.4 256.2 164.1 258.4 161.9 259.5 160.2 258 158 259.1 156.2 260.2 156.6 262 155.2 264.1 153.4 262 151.6 259.5 150.5 258.4 152.3 257 152.7 254.1 150.5 252.7 147.7 252.3 146.9 249.8 147.7 247.7ZM170.5 259.1 172.7 259.8 175.2 262.3 176.9 264.8 177.3 268.4 178.4 272 178.7 274.8 177.7 277.7 176.2 279.8 175.5 282.3 174.4 279.8 173.7 277.3 172.7 275.5 170.9 277.7 169.8 279.5 171.6 281.6 172.7 284.1 171.6 285.9 170.5 287.3 168.4 285.9 165.5 285.2 162.7 283.4 160.9 282 160.5 279.1 161.9 277.7 161.9 275.5 160.2 274.1 158 273 156.2 274.1 154.1 274.8 153.4 273.4 151.6 273 149.8 274.1 149.1 276.6 148 279.1 147.3 277 147.3 274.1 148 271.6 149.8 270.5 152.3 269.5 154.1 267.7 155.9 266.6 157.7 266.2 159.4 267.7 160.9 269.8 162.7 268.4 165.2 267.3 166.2 264.5 168.7 264.8 170.2 263ZM112.3 279.8 114.1 277.7 116.2 279.5 118.7 280.9 119.1 283.4 118.4 285.2 122.7 287.3 126.2 288.7 129.4 290.2 125.5 291.2 121.9 292.3 123.4 293.7 124.8 294.8 120.2 295.9 119.4 299.8 117.3 302.7 118.7 306.2 120.9 308.7 119.4 310.9 121.9 313.4 125.5 315.9 128 319.1M138.9 319.1 140.2 315.9 144.8 317 149.1 317.7 154.1 318 159.1 317.7 162.7 317 165.5 315.2 167.7 313 169.8 314.5 167.7 317 165.5 319.1M183.4 319.1 184.1 314.1 185.5 310.9 187.7 309.5 188.4 312.3 187.7 314.5 189.8 315.5 191.2 314.1 193 313.7 193.2 319.1M139.5 174.5 139.9 175.1M136 83.4 137.7 88.4 139.4 94.2 140.2 97.6 143.1 98.8 145.6 100.9 146.9 103.4 143.1 104.2 145.6 106.3 147.3 108 147.7 109.7 144 110.5 140.6 112.2 136.9 114.1 139.8 114.7 143.1 113.8 146.5 115.5 148.5 116.7 147.7 122.2 145.6 122.6 144.6 127.2 145.2 128.8 142.3 129.7 140.6 130.1 138.5 134.2 136.5 138 134 140.9 131.9 140.5 132.7 144.2 131.5 147.6 128.5 150.9 126.3 152.6 125.2 155.5 122.7 155.9 121.9 158.4 116.5 162.2 111.5 165.5 108.1 167.6 104.8 168.4M144.8 150.5 146.9 151.3 147.7 154.2 146.9 158.4 145.6 162.6 144.4 166.7 141.9 170.5 140.2 174.2 139 173 137.3 170.1 135.6 166.7 135.2 162.6 136.9 158.8 139 155.1 141.5 151.7ZM197.3 129.1 199.4 127.7M186 144.4 187.7 141.7 189.4 139.7M186.9 143.8 188.5 141.7M240.6 3.5 239.8 6.5 237.3 11 233.1 13.5 228.1 16 224.8 18.1 221.9 19.4 218.1 17.7 216.5 16.5 217.3 14 213.1 14 211.5 16 209.8 19 207.7 20.2 206.5 20.2 206 22.3 201.5 23.5 198.5 26.9 198.1 28.5 199.4 31 199.8 33.5 196.5 34.8 193.1 36.9 189 39.4 185.6 41 182.7 41.9 184.4 44.4 183.1 46 187.3 48.5 190.6 52.7 193.1 56 195.6 60.2 196.9 64.4 197.7 69.4 197.3 73.5 195.6 77.3 192.3 79 186.5 80.2 181.5 81.9 178.1 84.8 176.9 80.2 176.5 76.9 178.1 74.8 177.7 74 179.8 73.5 178.5 69.4 176.5 64.8 175.2 64.4 179.8 64 178.5 61 176.5 58.5 174.8 58.1 172.3 58.1 169.8 59 167.3 57.3 165.6 55.6 167.3 52.7 168.5 48.5 170.6 45.2 167.3 43.5 164.8 42.7 161.5 41.6 158.1 41.9 154 43.1 150.6 44.4 148.5 46.9 146.5 49 144 50 141.5 50.6 144 48.1 145.2 46.5 143.1 45.2 143.1 43.1 145.6 40.2 148.1 39 149.4 36.9 147.7 34 144.8 33.1 142.3 32.9 139.8 35.2 136.5 38.7 133.1 40.2 130.2 41.9 128.5 45.2 126.5 46.9 123.1 47.3 120.2 46.5 118.5 48.1 117.7 51 119.4 53.5 123.1 56 126.5 58.1 127.3 61 129.4 62.7 132.3 63.1 134.8 61 136.9 59 139.8 58.1 141.5 59.8 144.8 60.6 149 61 151.5 61.7 150.2 65.2 148.1 64.4 146 65.2 142.3 66.5 139.8 67.3 138.5 70.6 135.6 71.9 132.3 74 130.2 76.9 128.5 80.6 133.1 82.3 136 83.4M280.5 4.6 278 8.7 276.8 11.2 277.6 13.7 276.8 15.4 273 14.6 270.1 14.2 270.9 17.1 268.4 19.2 266.4 21.2 267.2 24.6 268 29.2 270.9 27.5 273.9 26.2 275.9 25.4 273 23.7 270.5 22.5 270.1 20.4 273 20.8 276.4 20 280.5 19.2 284.7 21.2 290.1 24.6 290.9 20.8 294.3 17.5 297.2 15.8 300.5 16.2 303.9 14.6 308.4 12.9 305.5 12.1 303.4 10.4 304.3 7.9 302.2 8.7 298 8.3 293.9 7.5 288.9 5M305.5 9.6 310.9 5M269.7 31.7 271.8 33.3 273 29.6 276.8 29.2 278 30.8 277.6 33.7 280.1 37.1 281.4 40.4 281.8 43.7 280.9 47.1 279.7 50.4 278.9 53.3 275.9 52.9 274.7 55.4 275.1 60.4 273.9 64.6 272.6 67.1 272.2 70 273.4 72.9 272.2 75.4 270.5 78.3 267.6 80 266.4 80 267.6 77.1 267.2 75 264.7 76.2 262.6 76.7 261.8 78.7 260.5 82.5 259.3 79.2 256.4 81.2 253.9 82.1 250.1 81.7 248 80.4 246.4 79.2 245.1 81.2 246.8 84.2 243.9 86.2 241.4 89.2 239.7 91.2 237.2 90.4 235.9 87.1 235.5 82.9 237.2 80.8 231.4 80.2 226.4 81.7 221.4 82.9 217.2 84.6 213.9 85.8 210.5 86.2 207.6 86.2 207.2 84.2 208.9 82.5 212.6 80.4 216.4 77.9 220.1 75 226.4 74.2 232.2 73.6 236.8 72.9 239.3 75.4 241.8 74.6 240.9 71.7 243 68.3 245.5 65 246.4 62.1 249.3 60 248 65.8 251.8 64.6 256.4 62.9 259.7 60 260.5 57.5 263.4 55.8 264.7 53.7 266.4 50 268 46.7 268.9 42.1 268.4 37.1 268.9 33.7ZM216.4 87.1 219.7 85.4 223.9 84.6 228 83.7 231.4 84.6 232.6 86.2 231.4 89.2 228.9 92.5 226.8 90.8 224.3 90.8 222.2 92.9 220.9 96.2 218 95.4 216.4 92.9 217.2 90ZM207.6 87.5 210.5 87.9 213.9 88.7 214.7 92.1 213.4 96.2 211.8 100.4 210.9 105.4 208.4 107.9 205.9 109.2 202.2 107.9 202.2 102.1 204.3 99.2 203.9 94.6 202.2 93.3 202.6 96.2 198.9 96.2 197.6 92.5 200.1 90.4 203.9 88.7Z"/>
<path d="M0 0H537.2 V324.3 H0Z M5.4 5.4 V318.9 H531.8 V5.4Z" fill="#fff" fill-rule="evenodd"/><path d="M2.7 323H100.7M100.7 4.1H201.5M201.5 323H302.2M302.2 4.1H402.9M402.9 323H470.1M470.1 4.1H534.5M1.3 321.6V256.9M533.1 256.9V188.2M1.3 188.2V116.7M533.1 116.7V40.5M1.3 40.5V20.5M533.1 20.5V2.7" stroke="#8c8c8c" stroke-width="1.5" fill="none"/><path d="M2.7 321.3H100.7M100.7 2.4H201.5M201.5 321.3H302.2M302.2 2.4H402.9M402.9 321.3H470.1M470.1 2.4H534.5M3 321.6V256.9M534.8 256.9V188.2M3 188.2V116.7M534.8 116.7V40.5M3 40.5V20.5M534.8 20.5V2.7" stroke="#000" stroke-width="2.1" fill="none"/><path d="M0 0H537.2V324.3H0ZM5.4 5.4H531.8V318.9H5.4ZM0 0L5.4 5.4M537.2 0L531.8 5.4M0 324.3L5.4 318.9M537.2 324.3L531.8 318.9M100.7 0V5.4M100.7 318.9V324.3M201.5 0V5.4M201.5 318.9V324.3M302.2 0V5.4M302.2 318.9V324.3M402.9 0V5.4M402.9 318.9V324.3M470.1 0V5.4M470.1 318.9V324.3M0 256.9H5.4M531.8 256.9H537.2M0 188.2H5.4M531.8 188.2H537.2M0 116.7H5.4M531.8 116.7H537.2M0 40.5H5.4M531.8 40.5H537.2M0 20.5H5.4M531.8 20.5H537.2" stroke="#111" stroke-width="1.1" fill="none"/><path d="M0 -5.6V0M0 324.3V329.9M201.5 -5.6V0M201.5 324.3V329.9M402.9 -5.6V0M402.9 324.3V329.9M-5.6 324.3H0M537.2 324.3H542.8M-5.6 188.2H0M537.2 188.2H542.8M-5.6 40.5H0M537.2 40.5H542.8" stroke="#000" stroke-width="2" fill="none"/>
<path class="m" d="M441.9 31.5 436 35.6 427.7 40.6 416.9 45.6 407.7 51.5 398.5 57.3 391 60.6 390.2 64 386 61.5 374.4 61 366 63.5 357.7 65.2M357.7 64.9 350.9 66.1 344.1 69.5 337.3 73.4 331.7 78 326 84.2 320.4 89.3 313.6 93.8 305.7 98.3 297.8 102.8 289.8 106.8 280.8 110.2 271.7 113.6 263.8 117.5 255.9 122.1 246.9 125.5 238.9 128.3 231 132.2 224.2 136.8 218.6 141.9 214.1 146.9 211.8 153.7 211.8 160.5 212.4 167.3 214.1 174.1 216.3 179.7"/>
<path class="b" d="M332.8 42.9 338.5 43.5 344.1 42.9 348.7 44 347.5 46.9 343 47.4 339.6 50.2M344.1 47.4 344.7 53.1 345.3 58.7 344.7 64.4M333.9 58.7 338.5 56.5 343 56.5M335.1 62.1 339.6 63.3 337.3 59.9M311.3 83.6 305.7 83 300 83.6 294.4 85.9 291 90.4 288.7 97.2 288.7 104 291 109.6 294.4 114.1 298.9 117 304.5 118.7 310.2 118.7M304.5 118.7 303.4 123.2 300 126.6 298.9 131.1M319.2 83.6 318.1 89.3 318.7 94.9 318.1 100.6 313.6 102.8 307.9 104M315.9 85.9 320.4 92.7 319.2 98.3M333.9 84.7 331.7 90.4 336.2 94.9 339.6 97.2 336.2 101.7 332.8 106.2 329.4 110.8 327.2 115.3M210.1 124.3 214.1 128.3 218.6 131.1 224.2 131.7 229.9 129.4 233.9 125.5 235 119.8 233.3 115.3 229.3 113.6 225.4 115.3 224.2 119.8M241.2 142.4 243.5 137.9 245.7 133.4 248 130 251.4 128.8 254.8 132.2 257 135.6 260.4 139 265 140.2 269.5 139 274 136.8 276.3 132.2 274 127.7 270.6 125.5 268.4 120.9 269.5 116.4 274 116.4 277.4 118.7M266.1 130 270.6 131.1 276.3 132.2 281.9 131.1 285.3 132.2 285.3 136.8 286.4 141.3 291 143.5 295.5 144.7 300 143.5 303.4 144.1M216.3 160.5 219.7 154.9 224.2 150.9 229.3 149.2 234.4 151.5 238.9 154.9 242.3 159.4M216.3 160.5 218.6 159.4M222.6 167.9 227.6 169 232.7 170.7 236.7 173 240.1 176.3 238.9 178.6 236.1 178M178.1 194.8 182.7 193.4 188.4 192.3 194.1 192.7 199.1 191.9M192.7 204.1 197 203.4 202.7 204.1 208.4 203 214.1 201.6 219.8 200.9 225.6 200.7 231.3 201.6 236.3 202.7M198.4 182.7 202 179.8 205.6 180.5 207 184.1 205.6 188.4 204.1 192.7 202 195.5 199.1 198.4 196.3 201.2 194.1 203.4M199.1 185.5 202.7 184.1 204.1 186.9 202.7 191.2 199.8 194.1M209.8 180.5 208.4 184.1 207 188.4 205.6 192.7M212 183.4 215.6 184.1 219.1 185.5 221.3 188.4 220.6 191.9 221.3 194.1M221.3 184.8 224.1 186.2 226.3 187.7 224.8 190.5 224.1 192.7"/>
<text class="n" x="13" y="58.4">Roke</text>
<text class="n i" transform="translate(13 125.5) scale(1 1.04)">N</text><text class="n s" x="47.5" y="147.6">d</text><text class="n" transform="translate(69.5 125.5) scale(1 1.04)">=21</text>
</g>
<g transform="translate(740.2 1765.2)">
<path class="c" d="M104.8 168.7 102.3 169.3 97.3 170.2 95.6 172.7 94 172.2 91.9 169.7 90.2 173.1 88.1 170.6 86.5 174.3 81 176 77.3 177.7 73.1 178.9 69.4 179.9 68.3 181.8 70.2 184.7 69.4 186.2 66.9 186.2 65.6 183.5 65.2 178.9 63.1 178.1 61 176.8 58.1 176.4 54.8 177.1 50.6 178.9 46.5 181 43.5 183.9 41.5 186.8 39 188.9 37.7 192.2 37.1 195.4 38.5 198.1 40.6 200.6 42.3 203.5 45.6 207.2 49 210.6 54 214.3 58.1 218.9 59.8 221.4 61 225.6 61.9 229.7 62.1 234.7 61.5 239.7 60.6 243.9 60.2 246.4 54 249.7 48.1 253.5 45.2 254.1 44.4 254.7 44.8 258.1 42.7 261 38.1 262.2 33.5 266.4 32.3 262.2 32.7 258.5 33.5 256.4 31.5 256 29.4 254.3 28.5 252.7 24.8 252.9 22.3 251.4 20.2 248.9 18.5 245.2 16.9 242.7 13.5 240.2 11.9 238.9 8.1 238.9 5.6 238.1 4.8 233.9M74.4 188.2 71.5 188.1 66.5 188.2 63.1 189.3 59.8 191.4 57.7 193.5 57.3 196.8 58.1 199.3 60.6 201 64 201 67.3 199.3 70.2 196.8 71.9 193.5 73.1 191ZM4.8 277.7 9.8 278.5 12.3 281.4 16.5 284.3 20.2 287.2 23.1 291.4 23 297.2 22.7 304.7 24.8 307.2 26.9 310.6 28.5 314.7 24.8 315.2 21.5 313.5 16.5 310.6 12.3 308.5 9.8 305.6 9 302.2 4.8 298.1M4.8 309.7 8.1 309.3 10.6 311.4 13.1 312.7 15.6 314.7 18.5 316.4 21.5 318.5M59.6 318.9 60.6 313.9 63.5 311 68.1 313.1 74 313.9 76.9 305.2 83.1 304.3 86.5 302.7 89 298.9 92.3 296 95.6 292.7 98.1 291.4 103.1 291 104 288.5 107.3 285.6 109 281.8 111.9 279.7 114 277.2M138.4 198.7 141.2 198 143.7 199.2 146.6 200 148.4 199.2 150 198.7 149.4 202.7 149.2 206.2 151.2 209.1 150.5 212 148.4 214.8 145.5 217 143.9 219.1 143.7 221.6 144.7 224.5 145.5 227.3 146.6 230.2 149.1 230.5 151.2 228.7 154.1 229 157.7 230.2 161.2 231.8 159.4 233.4 160.4 235.9 161.9 237.7 159.8 237.5 157.7 235.9 156.2 233.4 154.8 232 152.8 231.2 151.6 232 152.8 233.4 152.5 236.2 151.6 237 150.2 234.5 148.7 232 146.9 230.9 144.8 231.2 143 232.3 141.9 233.4 140.2 233.7 138.9 232.3 138.9 230.5 139.8 228.7 140.9 227.3 138.9 225.4 138 225.9 136.6 225 134.8 224.1 134.1 220.5 133.4 216.2 133 215.4 134.8 214.8 136.2 216.2 136.9 212.7 137.7 208.4 136.4 205.5 137.3 202.7ZM137.3 234.5 139.8 234.1 141.9 234.8 143.7 236.2 144.4 238.7 144.1 241.2 141.9 243 140.2 240.2 138.7 237ZM130.9 248.4 132.3 252.7 129.8 255.5 126.2 258.4 121.9 263.7 119.1 266.2 116.2 268 115.5 267 118.4 263.7 122.7 260.5 126.2 257 129.1 252.7ZM164.1 240.5 166.9 240.2 169.8 239.8 171.2 242 171.6 245.5 172.3 249.1 169.1 249.8 167.7 251.2 168.7 254.1 169.4 255.5 166.9 255.9 165.5 253.4 164.1 252 164.4 249.1 166.9 247.7 168.4 245.5 167.7 243.7 165.5 243ZM146.9 244.8 150.5 245.5 151.9 247 155.2 247.3 155.9 249.8 157.7 252 159.8 252.3 161.2 249.8 161.2 252.7 161.9 254.8 163.4 256.2 164.1 258.4 161.9 259.5 160.2 258 158 259.1 156.2 260.2 156.6 262 155.2 264.1 153.4 262 151.6 259.5 150.5 258.4 152.3 257 152.7 254.1 150.5 252.7 147.7 252.3 146.9 249.8 147.7 247.7ZM170.5 259.1 172.7 259.8 175.2 262.3 176.9 264.8 177.3 268.4 178.4 272 178.7 274.8 177.7 277.7 176.2 279.8 175.5 282.3 174.4 279.8 173.7 277.3 172.7 275.5 170.9 277.7 169.8 279.5 171.6 281.6 172.7 284.1 171.6 285.9 170.5 287.3 168.4 285.9 165.5 285.2 162.7 283.4 160.9 282 160.5 279.1 161.9 277.7 161.9 275.5 160.2 274.1 158 273 156.2 274.1 154.1 274.8 153.4 273.4 151.6 273 149.8 274.1 149.1 276.6 148 279.1 147.3 277 147.3 274.1 148 271.6 149.8 270.5 152.3 269.5 154.1 267.7 155.9 266.6 157.7 266.2 159.4 267.7 160.9 269.8 162.7 268.4 165.2 267.3 166.2 264.5 168.7 264.8 170.2 263ZM112.3 279.8 114.1 277.7 116.2 279.5 118.7 280.9 119.1 283.4 118.4 285.2 122.7 287.3 126.2 288.7 129.4 290.2 125.5 291.2 121.9 292.3 123.4 293.7 124.8 294.8 120.2 295.9 119.4 299.8 117.3 302.7 118.7 306.2 120.9 308.7 119.4 310.9 121.9 313.4 125.5 315.9 128 319.1M138.9 319.1 140.2 315.9 144.8 317 149.1 317.7 154.1 318 159.1 317.7 162.7 317 165.5 315.2 167.7 313 169.8 314.5 167.7 317 165.5 319.1M183.4 319.1 184.1 314.1 185.5 310.9 187.7 309.5 188.4 312.3 187.7 314.5 189.8 315.5 191.2 314.1 193 313.7 193.2 319.1M139.5 174.5 139.9 175.1M136 83.4 137.7 88.4 139.4 94.2 140.2 97.6 143.1 98.8 145.6 100.9 146.9 103.4 143.1 104.2 145.6 106.3 147.3 108 147.7 109.7 144 110.5 140.6 112.2 136.9 114.1 139.8 114.7 143.1 113.8 146.5 115.5 148.5 116.7 147.7 122.2 145.6 122.6 144.6 127.2 145.2 128.8 142.3 129.7 140.6 130.1 138.5 134.2 136.5 138 134 140.9 131.9 140.5 132.7 144.2 131.5 147.6 128.5 150.9 126.3 152.6 125.2 155.5 122.7 155.9 121.9 158.4 116.5 162.2 111.5 165.5 108.1 167.6 104.8 168.4M144.8 150.5 146.9 151.3 147.7 154.2 146.9 158.4 145.6 162.6 144.4 166.7 141.9 170.5 140.2 174.2 139 173 137.3 170.1 135.6 166.7 135.2 162.6 136.9 158.8 139 155.1 141.5 151.7ZM197.3 129.1 199.4 127.7M186 144.4 187.7 141.7 189.4 139.7M186.9 143.8 188.5 141.7M240.6 3.5 239.8 6.5 237.3 11 233.1 13.5 228.1 16 224.8 18.1 221.9 19.4 218.1 17.7 216.5 16.5 217.3 14 213.1 14 211.5 16 209.8 19 207.7 20.2 206.5 20.2 206 22.3 201.5 23.5 198.5 26.9 198.1 28.5 199.4 31 199.8 33.5 196.5 34.8 193.1 36.9 189 39.4 185.6 41 182.7 41.9 184.4 44.4 183.1 46 187.3 48.5 190.6 52.7 193.1 56 195.6 60.2 196.9 64.4 197.7 69.4 197.3 73.5 195.6 77.3 192.3 79 186.5 80.2 181.5 81.9 178.1 84.8 176.9 80.2 176.5 76.9 178.1 74.8 177.7 74 179.8 73.5 178.5 69.4 176.5 64.8 175.2 64.4 179.8 64 178.5 61 176.5 58.5 174.8 58.1 172.3 58.1 169.8 59 167.3 57.3 165.6 55.6 167.3 52.7 168.5 48.5 170.6 45.2 167.3 43.5 164.8 42.7 161.5 41.6 158.1 41.9 154 43.1 150.6 44.4 148.5 46.9 146.5 49 144 50 141.5 50.6 144 48.1 145.2 46.5 143.1 45.2 143.1 43.1 145.6 40.2 148.1 39 149.4 36.9 147.7 34 144.8 33.1 142.3 32.9 139.8 35.2 136.5 38.7 133.1 40.2 130.2 41.9 128.5 45.2 126.5 46.9 123.1 47.3 120.2 46.5 118.5 48.1 117.7 51 119.4 53.5 123.1 56 126.5 58.1 127.3 61 129.4 62.7 132.3 63.1 134.8 61 136.9 59 139.8 58.1 141.5 59.8 144.8 60.6 149 61 151.5 61.7 150.2 65.2 148.1 64.4 146 65.2 142.3 66.5 139.8 67.3 138.5 70.6 135.6 71.9 132.3 74 130.2 76.9 128.5 80.6 133.1 82.3 136 83.4M280.5 4.6 278 8.7 276.8 11.2 277.6 13.7 276.8 15.4 273 14.6 270.1 14.2 270.9 17.1 268.4 19.2 266.4 21.2 267.2 24.6 268 29.2 270.9 27.5 273.9 26.2 275.9 25.4 273 23.7 270.5 22.5 270.1 20.4 273 20.8 276.4 20 280.5 19.2 284.7 21.2 290.1 24.6 290.9 20.8 294.3 17.5 297.2 15.8 300.5 16.2 303.9 14.6 308.4 12.9 305.5 12.1 303.4 10.4 304.3 7.9 302.2 8.7 298 8.3 293.9 7.5 288.9 5M305.5 9.6 310.9 5M269.7 31.7 271.8 33.3 273 29.6 276.8 29.2 278 30.8 277.6 33.7 280.1 37.1 281.4 40.4 281.8 43.7 280.9 47.1 279.7 50.4 278.9 53.3 275.9 52.9 274.7 55.4 275.1 60.4 273.9 64.6 272.6 67.1 272.2 70 273.4 72.9 272.2 75.4 270.5 78.3 267.6 80 266.4 80 267.6 77.1 267.2 75 264.7 76.2 262.6 76.7 261.8 78.7 260.5 82.5 259.3 79.2 256.4 81.2 253.9 82.1 250.1 81.7 248 80.4 246.4 79.2 245.1 81.2 246.8 84.2 243.9 86.2 241.4 89.2 239.7 91.2 237.2 90.4 235.9 87.1 235.5 82.9 237.2 80.8 231.4 80.2 226.4 81.7 221.4 82.9 217.2 84.6 213.9 85.8 210.5 86.2 207.6 86.2 207.2 84.2 208.9 82.5 212.6 80.4 216.4 77.9 220.1 75 226.4 74.2 232.2 73.6 236.8 72.9 239.3 75.4 241.8 74.6 240.9 71.7 243 68.3 245.5 65 246.4 62.1 249.3 60 248 65.8 251.8 64.6 256.4 62.9 259.7 60 260.5 57.5 263.4 55.8 264.7 53.7 266.4 50 268 46.7 268.9 42.1 268.4 37.1 268.9 33.7ZM216.4 87.1 219.7 85.4 223.9 84.6 228 83.7 231.4 84.6 232.6 86.2 231.4 89.2 228.9 92.5 226.8 90.8 224.3 90.8 222.2 92.9 220.9 96.2 218 95.4 216.4 92.9 217.2 90ZM207.6 87.5 210.5 87.9 213.9 88.7 214.7 92.1 213.4 96.2 211.8 100.4 210.9 105.4 208.4 107.9 205.9 109.2 202.2 107.9 202.2 102.1 204.3 99.2 203.9 94.6 202.2 93.3 202.6 96.2 198.9 96.2 197.6 92.5 200.1 90.4 203.9 88.7Z"/>
<path d="M0 0H537.2 V324.3 H0Z M5.4 5.4 V318.9 H531.8 V5.4Z" fill="#fff" fill-rule="evenodd"/><path d="M2.7 323H100.7M100.7 4.1H201.5M201.5 323H235M235 4.1H268.6M268.6 323H335.8M335.8 4.1H402.9M402.9 323H470.1M470.1 4.1H534.5M1.3 321.6V256.9M533.1 256.9V188.2M1.3 188.2V116.7M533.1 116.7V40.5M1.3 40.5V20.5M533.1 20.5V2.7" stroke="#8c8c8c" stroke-width="1.5" fill="none"/><path d="M2.7 321.3H100.7M100.7 2.4H201.5M201.5 321.3H235M235 2.4H268.6M268.6 321.3H335.8M335.8 2.4H402.9M402.9 321.3H470.1M470.1 2.4H534.5M3 321.6V256.9M534.8 256.9V188.2M3 188.2V116.7M534.8 116.7V40.5M3 40.5V20.5M534.8 20.5V2.7" stroke="#000" stroke-width="2.1" fill="none"/><path d="M0 0H537.2V324.3H0ZM5.4 5.4H531.8V318.9H5.4ZM0 0L5.4 5.4M537.2 0L531.8 5.4M0 324.3L5.4 318.9M537.2 324.3L531.8 318.9M100.7 0V5.4M100.7 318.9V324.3M201.5 0V5.4M201.5 318.9V324.3M235 0V5.4M235 318.9V324.3M268.6 0V5.4M268.6 318.9V324.3M335.8 0V5.4M335.8 318.9V324.3M402.9 0V5.4M402.9 318.9V324.3M470.1 0V5.4M470.1 318.9V324.3M0 256.9H5.4M531.8 256.9H537.2M0 188.2H5.4M531.8 188.2H537.2M0 116.7H5.4M531.8 116.7H537.2M0 40.5H5.4M531.8 40.5H537.2M0 20.5H5.4M531.8 20.5H537.2" stroke="#111" stroke-width="1.1" fill="none"/><path d="M0 -5.6V0M0 324.3V329.9M201.5 -5.6V0M201.5 324.3V329.9M268.6 -5.6V0M268.6 324.3V329.9M402.9 -5.6V0M402.9 324.3V329.9M-5.6 324.3H0M537.2 324.3H542.8M-5.6 188.2H0M537.2 188.2H542.8M-5.6 40.5H0M537.2 40.5H542.8" stroke="#000" stroke-width="2" fill="none"/>
<path class="m" d="M55.3 204.8 61.2 207.2 68.4 208.4 75.5 207.2 83.8 204.2 92.2 200.6 100.5 196.5 108.8 191.7 116 188.7 123.1 187.5 131.5 188.1 139.8 189.9 146.9 192.9 154.1 195.9 162.4 197.7 170.8 197.1 179.1 195.9 186.2 194.7"/>
<path class="b" d="M139.8 173.8 137.4 178.6 141 183.4 145.8 188.1 150.5 191.7 155.3 194.7 161.2 197.7 167.2 199.4 174.3 200 181.5 199.4 187.4 198.8M143.4 178.6 148.1 183.4 152.9 186.9 158.8 190.5 164.8 192.9 170.8 194.1 176.7 194.1M146.9 176.2 151.7 181 156.5 184.6 162.4 188.1 168.4 190.5 174.3 191.7 180.3 192.9M142.2 176.2 146.9 181 151.7 185.8 157.7 189.3 163.6 192.3 169.6 195.3 175.5 196.5 181.5 196.5M183.8 178.6 182.1 183.4 186.2 186.9 189.8 191.7 192.2 196.5 195.8 201.2 200.5 203 205.3 203.6M154.7 210.8 158.8 214.3 163.6 217.3 168.4 217.9 173.1 216.7 179.1 217.3 183.8 219.1 186.8 222.7 186.2 226.2 183.8 228 180.3 225M158.8 216.7 163.6 219.1M223.1 173.8 218.4 170.9 213.6 171.5 208.8 175 204.1 177.4 198.1 179.8 193.4 183.4 191.6 188.1 193.4 191.7M196.9 184.6 204.1 182.2 210 179.8 216 177.4M218.4 173.8 220.8 178.6 223.1 184.6 223.7 190.5 220.8 192.9 216 194.1M199.3 189.3 206.5 186.9 212.4 184.6 218.4 182.2M196.9 194.1 199.3 195.3M156.9 154.8 156.2 159.1 154.8 164.1 153.4 169.1 152.7 174.1 152.3 179.1M159.8 154.8 159.1 159.8 158.4 164.8 156.9 169.8 155.5 174.8M166.9 154.8 166.2 158.4 164.1 161.9 161.9 165.5 159.8 169.1 158.4 172.7M164.1 169.8 166.2 171.9 166.6 175.5 164.8 178.4 162.7 179.1M139.8 172.7 137.7 176.2 136.2 179.1 139.1 181.9 141.2 185.5 144.1 189.1 147.7 191.9 151.2 194.8 155.5 197.7M141.2 174.8 144.1 178.4 146.9 181.9 149.8 185.5 153.4 188.4 156.9 191.2 161.2 194.1 165.5 196.2 169.8 197.7M144.8 176.9 148.4 180.5 151.9 183.4 155.5 186.2 159.8 189.1 164.1 191.2 168.4 193.4 172.7 194.8 176.9 196.2M153.4 176.2 155.5 180.5 158.4 184.1 161.9 186.9 165.5 189.1 169.8 190.5 174.1 191.9 178.4 193.4 182.7 194.8M151.9 179.8 154.1 184.1 156.9 187.7M184.8 177.7 183.4 180.5 181.2 184.1 184.1 185.5 186.9 187.7 189.1 190.5 191.2 193.4 192.7 196.9 194.1 199.8M223.4 173.4 219.8 171.2 216.2 170.2 213.4 171.2 211.2 173.4 208.4 175.5 204.8 176.2 201.2 177.7 197.7 179.1 194.1 181.2 191.9 184.1 191.2 186.9 192.7 189.1M195.5 182.7 199.1 181.9 202.7 180.5 206.9 179.1 211.2 177.7 214.8 176.2 217.7 174.8M196.9 185.5 200.5 184.8 204.8 184.1 209.1 182.7 213.4 180.5 216.2 178.4M198.4 188.4 202.7 187.7 206.9 186.9 211.2 185.5 214.8 183.4 217.7 180.5M218.4 176.2 220.5 179.8 222.7 183.4 223.4 186.9 223 190.5 221.9 193.4 219.1 194.1 215.5 194.1M219.1 183.4 219.8 186.9 220.5 190.5M198.4 190.5 197.7 194.1 196.9 196.9"/>
<text class="n" x="13" y="58.4">Nesat</text>
<text class="n i" transform="translate(13 125.5) scale(1 1.04)">N</text><text class="n s" x="47.5" y="147.6">d</text><text class="n" transform="translate(69.5 125.5) scale(1 1.04)">=28</text>
</g>
<g transform="translate(1353.1 1765.2)">
<path class="c" d="M104.8 168.7 102.3 169.3 97.3 170.2 95.6 172.7 94 172.2 91.9 169.7 90.2 173.1 88.1 170.6 86.5 174.3 81 176 77.3 177.7 73.1 178.9 69.4 179.9 68.3 181.8 70.2 184.7 69.4 186.2 66.9 186.2 65.6 183.5 65.2 178.9 63.1 178.1 61 176.8 58.1 176.4 54.8 177.1 50.6 178.9 46.5 181 43.5 183.9 41.5 186.8 39 188.9 37.7 192.2 37.1 195.4 38.5 198.1 40.6 200.6 42.3 203.5 45.6 207.2 49 210.6 54 214.3 58.1 218.9 59.8 221.4 61 225.6 61.9 229.7 62.1 234.7 61.5 239.7 60.6 243.9 60.2 246.4 54 249.7 48.1 253.5 45.2 254.1 44.4 254.7 44.8 258.1 42.7 261 38.1 262.2 33.5 266.4 32.3 262.2 32.7 258.5 33.5 256.4 31.5 256 29.4 254.3 28.5 252.7 24.8 252.9 22.3 251.4 20.2 248.9 18.5 245.2 16.9 242.7 13.5 240.2 11.9 238.9 8.1 238.9 5.6 238.1 4.8 233.9M74.4 188.2 71.5 188.1 66.5 188.2 63.1 189.3 59.8 191.4 57.7 193.5 57.3 196.8 58.1 199.3 60.6 201 64 201 67.3 199.3 70.2 196.8 71.9 193.5 73.1 191ZM4.8 277.7 9.8 278.5 12.3 281.4 16.5 284.3 20.2 287.2 23.1 291.4 23 297.2 22.7 304.7 24.8 307.2 26.9 310.6 28.5 314.7 24.8 315.2 21.5 313.5 16.5 310.6 12.3 308.5 9.8 305.6 9 302.2 4.8 298.1M4.8 309.7 8.1 309.3 10.6 311.4 13.1 312.7 15.6 314.7 18.5 316.4 21.5 318.5M59.6 318.9 60.6 313.9 63.5 311 68.1 313.1 74 313.9 76.9 305.2 83.1 304.3 86.5 302.7 89 298.9 92.3 296 95.6 292.7 98.1 291.4 103.1 291 104 288.5 107.3 285.6 109 281.8 111.9 279.7 114 277.2M138.4 198.7 141.2 198 143.7 199.2 146.6 200 148.4 199.2 150 198.7 149.4 202.7 149.2 206.2 151.2 209.1 150.5 212 148.4 214.8 145.5 217 143.9 219.1 143.7 221.6 144.7 224.5 145.5 227.3 146.6 230.2 149.1 230.5 151.2 228.7 154.1 229 157.7 230.2 161.2 231.8 159.4 233.4 160.4 235.9 161.9 237.7 159.8 237.5 157.7 235.9 156.2 233.4 154.8 232 152.8 231.2 151.6 232 152.8 233.4 152.5 236.2 151.6 237 150.2 234.5 148.7 232 146.9 230.9 144.8 231.2 143 232.3 141.9 233.4 140.2 233.7 138.9 232.3 138.9 230.5 139.8 228.7 140.9 227.3 138.9 225.4 138 225.9 136.6 225 134.8 224.1 134.1 220.5 133.4 216.2 133 215.4 134.8 214.8 136.2 216.2 136.9 212.7 137.7 208.4 136.4 205.5 137.3 202.7ZM137.3 234.5 139.8 234.1 141.9 234.8 143.7 236.2 144.4 238.7 144.1 241.2 141.9 243 140.2 240.2 138.7 237ZM130.9 248.4 132.3 252.7 129.8 255.5 126.2 258.4 121.9 263.7 119.1 266.2 116.2 268 115.5 267 118.4 263.7 122.7 260.5 126.2 257 129.1 252.7ZM164.1 240.5 166.9 240.2 169.8 239.8 171.2 242 171.6 245.5 172.3 249.1 169.1 249.8 167.7 251.2 168.7 254.1 169.4 255.5 166.9 255.9 165.5 253.4 164.1 252 164.4 249.1 166.9 247.7 168.4 245.5 167.7 243.7 165.5 243ZM146.9 244.8 150.5 245.5 151.9 247 155.2 247.3 155.9 249.8 157.7 252 159.8 252.3 161.2 249.8 161.2 252.7 161.9 254.8 163.4 256.2 164.1 258.4 161.9 259.5 160.2 258 158 259.1 156.2 260.2 156.6 262 155.2 264.1 153.4 262 151.6 259.5 150.5 258.4 152.3 257 152.7 254.1 150.5 252.7 147.7 252.3 146.9 249.8 147.7 247.7ZM170.5 259.1 172.7 259.8 175.2 262.3 176.9 264.8 177.3 268.4 178.4 272 178.7 274.8 177.7 277.7 176.2 279.8 175.5 282.3 174.4 279.8 173.7 277.3 172.7 275.5 170.9 277.7 169.8 279.5 171.6 281.6 172.7 284.1 171.6 285.9 170.5 287.3 168.4 285.9 165.5 285.2 162.7 283.4 160.9 282 160.5 279.1 161.9 277.7 161.9 275.5 160.2 274.1 158 273 156.2 274.1 154.1 274.8 153.4 273.4 151.6 273 149.8 274.1 149.1 276.6 148 279.1 147.3 277 147.3 274.1 148 271.6 149.8 270.5 152.3 269.5 154.1 267.7 155.9 266.6 157.7 266.2 159.4 267.7 160.9 269.8 162.7 268.4 165.2 267.3 166.2 264.5 168.7 264.8 170.2 263ZM112.3 279.8 114.1 277.7 116.2 279.5 118.7 280.9 119.1 283.4 118.4 285.2 122.7 287.3 126.2 288.7 129.4 290.2 125.5 291.2 121.9 292.3 123.4 293.7 124.8 294.8 120.2 295.9 119.4 299.8 117.3 302.7 118.7 306.2 120.9 308.7 119.4 310.9 121.9 313.4 125.5 315.9 128 319.1M138.9 319.1 140.2 315.9 144.8 317 149.1 317.7 154.1 318 159.1 317.7 162.7 317 165.5 315.2 167.7 313 169.8 314.5 167.7 317 165.5 319.1M183.4 319.1 184.1 314.1 185.5 310.9 187.7 309.5 188.4 312.3 187.7 314.5 189.8 315.5 191.2 314.1 193 313.7 193.2 319.1M139.5 174.5 139.9 175.1M136 83.4 137.7 88.4 139.4 94.2 140.2 97.6 143.1 98.8 145.6 100.9 146.9 103.4 143.1 104.2 145.6 106.3 147.3 108 147.7 109.7 144 110.5 140.6 112.2 136.9 114.1 139.8 114.7 143.1 113.8 146.5 115.5 148.5 116.7 147.7 122.2 145.6 122.6 144.6 127.2 145.2 128.8 142.3 129.7 140.6 130.1 138.5 134.2 136.5 138 134 140.9 131.9 140.5 132.7 144.2 131.5 147.6 128.5 150.9 126.3 152.6 125.2 155.5 122.7 155.9 121.9 158.4 116.5 162.2 111.5 165.5 108.1 167.6 104.8 168.4M144.8 150.5 146.9 151.3 147.7 154.2 146.9 158.4 145.6 162.6 144.4 166.7 141.9 170.5 140.2 174.2 139 173 137.3 170.1 135.6 166.7 135.2 162.6 136.9 158.8 139 155.1 141.5 151.7ZM197.3 129.1 199.4 127.7M186 144.4 187.7 141.7 189.4 139.7M186.9 143.8 188.5 141.7M240.6 3.5 239.8 6.5 237.3 11 233.1 13.5 228.1 16 224.8 18.1 221.9 19.4 218.1 17.7 216.5 16.5 217.3 14 213.1 14 211.5 16 209.8 19 207.7 20.2 206.5 20.2 206 22.3 201.5 23.5 198.5 26.9 198.1 28.5 199.4 31 199.8 33.5 196.5 34.8 193.1 36.9 189 39.4 185.6 41 182.7 41.9 184.4 44.4 183.1 46 187.3 48.5 190.6 52.7 193.1 56 195.6 60.2 196.9 64.4 197.7 69.4 197.3 73.5 195.6 77.3 192.3 79 186.5 80.2 181.5 81.9 178.1 84.8 176.9 80.2 176.5 76.9 178.1 74.8 177.7 74 179.8 73.5 178.5 69.4 176.5 64.8 175.2 64.4 179.8 64 178.5 61 176.5 58.5 174.8 58.1 172.3 58.1 169.8 59 167.3 57.3 165.6 55.6 167.3 52.7 168.5 48.5 170.6 45.2 167.3 43.5 164.8 42.7 161.5 41.6 158.1 41.9 154 43.1 150.6 44.4 148.5 46.9 146.5 49 144 50 141.5 50.6 144 48.1 145.2 46.5 143.1 45.2 143.1 43.1 145.6 40.2 148.1 39 149.4 36.9 147.7 34 144.8 33.1 142.3 32.9 139.8 35.2 136.5 38.7 133.1 40.2 130.2 41.9 128.5 45.2 126.5 46.9 123.1 47.3 120.2 46.5 118.5 48.1 117.7 51 119.4 53.5 123.1 56 126.5 58.1 127.3 61 129.4 62.7 132.3 63.1 134.8 61 136.9 59 139.8 58.1 141.5 59.8 144.8 60.6 149 61 151.5 61.7 150.2 65.2 148.1 64.4 146 65.2 142.3 66.5 139.8 67.3 138.5 70.6 135.6 71.9 132.3 74 130.2 76.9 128.5 80.6 133.1 82.3 136 83.4M280.5 4.6 278 8.7 276.8 11.2 277.6 13.7 276.8 15.4 273 14.6 270.1 14.2 270.9 17.1 268.4 19.2 266.4 21.2 267.2 24.6 268 29.2 270.9 27.5 273.9 26.2 275.9 25.4 273 23.7 270.5 22.5 270.1 20.4 273 20.8 276.4 20 280.5 19.2 284.7 21.2 290.1 24.6 290.9 20.8 294.3 17.5 297.2 15.8 300.5 16.2 303.9 14.6 308.4 12.9 305.5 12.1 303.4 10.4 304.3 7.9 302.2 8.7 298 8.3 293.9 7.5 288.9 5M305.5 9.6 310.9 5M269.7 31.7 271.8 33.3 273 29.6 276.8 29.2 278 30.8 277.6 33.7 280.1 37.1 281.4 40.4 281.8 43.7 280.9 47.1 279.7 50.4 278.9 53.3 275.9 52.9 274.7 55.4 275.1 60.4 273.9 64.6 272.6 67.1 272.2 70 273.4 72.9 272.2 75.4 270.5 78.3 267.6 80 266.4 80 267.6 77.1 267.2 75 264.7 76.2 262.6 76.7 261.8 78.7 260.5 82.5 259.3 79.2 256.4 81.2 253.9 82.1 250.1 81.7 248 80.4 246.4 79.2 245.1 81.2 246.8 84.2 243.9 86.2 241.4 89.2 239.7 91.2 237.2 90.4 235.9 87.1 235.5 82.9 237.2 80.8 231.4 80.2 226.4 81.7 221.4 82.9 217.2 84.6 213.9 85.8 210.5 86.2 207.6 86.2 207.2 84.2 208.9 82.5 212.6 80.4 216.4 77.9 220.1 75 226.4 74.2 232.2 73.6 236.8 72.9 239.3 75.4 241.8 74.6 240.9 71.7 243 68.3 245.5 65 246.4 62.1 249.3 60 248 65.8 251.8 64.6 256.4 62.9 259.7 60 260.5 57.5 263.4 55.8 264.7 53.7 266.4 50 268 46.7 268.9 42.1 268.4 37.1 268.9 33.7ZM216.4 87.1 219.7 85.4 223.9 84.6 228 83.7 231.4 84.6 232.6 86.2 231.4 89.2 228.9 92.5 226.8 90.8 224.3 90.8 222.2 92.9 220.9 96.2 218 95.4 216.4 92.9 217.2 90ZM207.6 87.5 210.5 87.9 213.9 88.7 214.7 92.1 213.4 96.2 211.8 100.4 210.9 105.4 208.4 107.9 205.9 109.2 202.2 107.9 202.2 102.1 204.3 99.2 203.9 94.6 202.2 93.3 202.6 96.2 198.9 96.2 197.6 92.5 200.1 90.4 203.9 88.7Z"/>
<path d="M0 0H537.2 V324.3 H0Z M5.4 5.4 V318.9 H531.8 V5.4Z" fill="#fff" fill-rule="evenodd"/><path d="M2.7 323H100.7M100.7 4.1H201.5M201.5 323H235M235 4.1H268.6M268.6 323H335.8M335.8 4.1H402.9M402.9 323H470.1M470.1 4.1H534.5M1.3 321.6V256.9M533.1 256.9V188.2M1.3 188.2V116.7M533.1 116.7V40.5M1.3 40.5V20.5M533.1 20.5V2.7" stroke="#8c8c8c" stroke-width="1.5" fill="none"/><path d="M2.7 321.3H100.7M100.7 2.4H201.5M201.5 321.3H235M235 2.4H268.6M268.6 321.3H335.8M335.8 2.4H402.9M402.9 321.3H470.1M470.1 2.4H534.5M3 321.6V256.9M534.8 256.9V188.2M3 188.2V116.7M534.8 116.7V40.5M3 40.5V20.5M534.8 20.5V2.7" stroke="#000" stroke-width="2.1" fill="none"/><path d="M0 0H537.2V324.3H0ZM5.4 5.4H531.8V318.9H5.4ZM0 0L5.4 5.4M537.2 0L531.8 5.4M0 324.3L5.4 318.9M537.2 324.3L531.8 318.9M100.7 0V5.4M100.7 318.9V324.3M201.5 0V5.4M201.5 318.9V324.3M235 0V5.4M235 318.9V324.3M268.6 0V5.4M268.6 318.9V324.3M335.8 0V5.4M335.8 318.9V324.3M402.9 0V5.4M402.9 318.9V324.3M470.1 0V5.4M470.1 318.9V324.3M0 256.9H5.4M531.8 256.9H537.2M0 188.2H5.4M531.8 188.2H537.2M0 116.7H5.4M531.8 116.7H537.2M0 40.5H5.4M531.8 40.5H537.2M0 20.5H5.4M531.8 20.5H537.2" stroke="#111" stroke-width="1.1" fill="none"/><path d="M0 -5.6V0M0 324.3V329.9M201.5 -5.6V0M201.5 324.3V329.9M268.6 -5.6V0M268.6 324.3V329.9M402.9 -5.6V0M402.9 324.3V329.9M-5.6 324.3H0M537.2 324.3H542.8M-5.6 188.2H0M537.2 188.2H542.8M-5.6 40.5H0M537.2 40.5H542.8" stroke="#000" stroke-width="2" fill="none"/>
<path class="m" d="M537.3 35.1 527.6 37.6 517.7 40 507.8 43.1 497.9 46.2 488 49.9 476.9 53.7 466.9 59.2 457 65.4 447.1 71.6 437.2 77.8 427.3 84 417.4 90.2 408.8 96.4 402.6 101.3 397.6 106.3 397 113.7 395.8 121.1 392.7 126.1 389.6 131 387.7 136 387.1 139.7 379 138.5"/>
<path class="b" d="M494.8 12.8 499.1 14.7 502.9 14 506.6 12.2 508.4 10.3M497.9 27 494.2 28.9 490.5 32.6 486.8 36.9 483 42.5 483.7 47.5 485.5 49.3M495.4 55.5 497.9 49.3 501.6 44.4 506.6 43.1 512.8 45.6 518.9 49.3 520.2 51.8 515.2 55.5 507.8 58 500.4 58 495.4 56.8M353 70.4 358 72.8 364.2 73.5 371.6 72.8 377.8 74.7 382.8 77.2 387.7 79 393.9 79.7 398.9 79 402.6 80.3M402.6 84 401.3 76.6 400.1 70.4 399.5 64.2 402.6 59.2 408.8 57.4 413.7 58.6 418.7 59.2 424.9 58.6 429.8 56.8 433.5 54.3 436.6 54.9 437.2 60.5 436 65.4 433.5 67.9 436 71.6 440.9 73.5 445.9 75.3 447.8 77.2M402.6 84 407.5 84.6 412.5 86.5 417.4 89.6 422.4 91.4 425.5 90.2 427.3 85.2 429.8 80.3 432.3 77.2M467.6 82.8 468.2 77.8 471.9 74.1 478.1 72.8 484.3 74.7 490.5 74.1 496.7 75.3 502.9 77.8 507.8 80.3 512.8 77.8 515.2 72.8 516.5 67.9 520.2 64.8 525.1 65.4 530.1 69.1M481.8 76.6 484.3 81.5 486.8 86.5 488 88.3M470 80.3 471.9 82.8M359.9 105 361.7 98.8 366.7 96.4 371.6 98.8 374.1 102.6 375.3 108.8 372.9 112.5 369.1 111.2 366.7 106.3 370.4 105 368.5 101.3M405 114.9 408.8 116.2 410.6 119.9 408.8 123.6 408.1 127.3 405 131 401.3 134.8 398.9 138.5 395.1 140.3M406.3 131 411.2 133.5 414.9 136 416.2 139.7M401.3 136 406.3 137.2M395.8 166.9 395.1 162 397.6 157.7 401.3 154.6 406.3 153.9 411.2 155.2 415.6 157.7"/>
<text class="n" x="13" y="58.4">Haitang</text>
<text class="n i" transform="translate(13 125.5) scale(1 1.04)">N</text><text class="n s" x="47.5" y="147.6">d</text><text class="n" transform="translate(69.5 125.5) scale(1 1.04)">=14</text>
</g>
<g transform="translate(127.3 2116.6)">
<path class="c" d="M104.8 168.7 102.3 169.3 97.3 170.2 95.6 172.7 94 172.2 91.9 169.7 90.2 173.1 88.1 170.6 86.5 174.3 81 176 77.3 177.7 73.1 178.9 69.4 179.9 68.3 181.8 70.2 184.7 69.4 186.2 66.9 186.2 65.6 183.5 65.2 178.9 63.1 178.1 61 176.8 58.1 176.4 54.8 177.1 50.6 178.9 46.5 181 43.5 183.9 41.5 186.8 39 188.9 37.7 192.2 37.1 195.4 38.5 198.1 40.6 200.6 42.3 203.5 45.6 207.2 49 210.6 54 214.3 58.1 218.9 59.8 221.4 61 225.6 61.9 229.7 62.1 234.7 61.5 239.7 60.6 243.9 60.2 246.4 54 249.7 48.1 253.5 45.2 254.1 44.4 254.7 44.8 258.1 42.7 261 38.1 262.2 33.5 266.4 32.3 262.2 32.7 258.5 33.5 256.4 31.5 256 29.4 254.3 28.5 252.7 24.8 252.9 22.3 251.4 20.2 248.9 18.5 245.2 16.9 242.7 13.5 240.2 11.9 238.9 8.1 238.9 5.6 238.1 4.8 233.9M74.4 188.2 71.5 188.1 66.5 188.2 63.1 189.3 59.8 191.4 57.7 193.5 57.3 196.8 58.1 199.3 60.6 201 64 201 67.3 199.3 70.2 196.8 71.9 193.5 73.1 191ZM4.8 277.7 9.8 278.5 12.3 281.4 16.5 284.3 20.2 287.2 23.1 291.4 23 297.2 22.7 304.7 24.8 307.2 26.9 310.6 28.5 314.7 24.8 315.2 21.5 313.5 16.5 310.6 12.3 308.5 9.8 305.6 9 302.2 4.8 298.1M4.8 309.7 8.1 309.3 10.6 311.4 13.1 312.7 15.6 314.7 18.5 316.4 21.5 318.5M59.6 318.9 60.6 313.9 63.5 311 68.1 313.1 74 313.9 76.9 305.2 83.1 304.3 86.5 302.7 89 298.9 92.3 296 95.6 292.7 98.1 291.4 103.1 291 104 288.5 107.3 285.6 109 281.8 111.9 279.7 114 277.2M138.4 198.7 141.2 198 143.7 199.2 146.6 200 148.4 199.2 150 198.7 149.4 202.7 149.2 206.2 151.2 209.1 150.5 212 148.4 214.8 145.5 217 143.9 219.1 143.7 221.6 144.7 224.5 145.5 227.3 146.6 230.2 149.1 230.5 151.2 228.7 154.1 229 157.7 230.2 161.2 231.8 159.4 233.4 160.4 235.9 161.9 237.7 159.8 237.5 157.7 235.9 156.2 233.4 154.8 232 152.8 231.2 151.6 232 152.8 233.4 152.5 236.2 151.6 237 150.2 234.5 148.7 232 146.9 230.9 144.8 231.2 143 232.3 141.9 233.4 140.2 233.7 138.9 232.3 138.9 230.5 139.8 228.7 140.9 227.3 138.9 225.4 138 225.9 136.6 225 134.8 224.1 134.1 220.5 133.4 216.2 133 215.4 134.8 214.8 136.2 216.2 136.9 212.7 137.7 208.4 136.4 205.5 137.3 202.7ZM137.3 234.5 139.8 234.1 141.9 234.8 143.7 236.2 144.4 238.7 144.1 241.2 141.9 243 140.2 240.2 138.7 237ZM130.9 248.4 132.3 252.7 129.8 255.5 126.2 258.4 121.9 263.7 119.1 266.2 116.2 268 115.5 267 118.4 263.7 122.7 260.5 126.2 257 129.1 252.7ZM164.1 240.5 166.9 240.2 169.8 239.8 171.2 242 171.6 245.5 172.3 249.1 169.1 249.8 167.7 251.2 168.7 254.1 169.4 255.5 166.9 255.9 165.5 253.4 164.1 252 164.4 249.1 166.9 247.7 168.4 245.5 167.7 243.7 165.5 243ZM146.9 244.8 150.5 245.5 151.9 247 155.2 247.3 155.9 249.8 157.7 252 159.8 252.3 161.2 249.8 161.2 252.7 161.9 254.8 163.4 256.2 164.1 258.4 161.9 259.5 160.2 258 158 259.1 156.2 260.2 156.6 262 155.2 264.1 153.4 262 151.6 259.5 150.5 258.4 152.3 257 152.7 254.1 150.5 252.7 147.7 252.3 146.9 249.8 147.7 247.7ZM170.5 259.1 172.7 259.8 175.2 262.3 176.9 264.8 177.3 268.4 178.4 272 178.7 274.8 177.7 277.7 176.2 279.8 175.5 282.3 174.4 279.8 173.7 277.3 172.7 275.5 170.9 277.7 169.8 279.5 171.6 281.6 172.7 284.1 171.6 285.9 170.5 287.3 168.4 285.9 165.5 285.2 162.7 283.4 160.9 282 160.5 279.1 161.9 277.7 161.9 275.5 160.2 274.1 158 273 156.2 274.1 154.1 274.8 153.4 273.4 151.6 273 149.8 274.1 149.1 276.6 148 279.1 147.3 277 147.3 274.1 148 271.6 149.8 270.5 152.3 269.5 154.1 267.7 155.9 266.6 157.7 266.2 159.4 267.7 160.9 269.8 162.7 268.4 165.2 267.3 166.2 264.5 168.7 264.8 170.2 263ZM112.3 279.8 114.1 277.7 116.2 279.5 118.7 280.9 119.1 283.4 118.4 285.2 122.7 287.3 126.2 288.7 129.4 290.2 125.5 291.2 121.9 292.3 123.4 293.7 124.8 294.8 120.2 295.9 119.4 299.8 117.3 302.7 118.7 306.2 120.9 308.7 119.4 310.9 121.9 313.4 125.5 315.9 128 319.1M138.9 319.1 140.2 315.9 144.8 317 149.1 317.7 154.1 318 159.1 317.7 162.7 317 165.5 315.2 167.7 313 169.8 314.5 167.7 317 165.5 319.1M183.4 319.1 184.1 314.1 185.5 310.9 187.7 309.5 188.4 312.3 187.7 314.5 189.8 315.5 191.2 314.1 193 313.7 193.2 319.1M139.5 174.5 139.9 175.1M136 83.4 137.7 88.4 139.4 94.2 140.2 97.6 143.1 98.8 145.6 100.9 146.9 103.4 143.1 104.2 145.6 106.3 147.3 108 147.7 109.7 144 110.5 140.6 112.2 136.9 114.1 139.8 114.7 143.1 113.8 146.5 115.5 148.5 116.7 147.7 122.2 145.6 122.6 144.6 127.2 145.2 128.8 142.3 129.7 140.6 130.1 138.5 134.2 136.5 138 134 140.9 131.9 140.5 132.7 144.2 131.5 147.6 128.5 150.9 126.3 152.6 125.2 155.5 122.7 155.9 121.9 158.4 116.5 162.2 111.5 165.5 108.1 167.6 104.8 168.4M144.8 150.5 146.9 151.3 147.7 154.2 146.9 158.4 145.6 162.6 144.4 166.7 141.9 170.5 140.2 174.2 139 173 137.3 170.1 135.6 166.7 135.2 162.6 136.9 158.8 139 155.1 141.5 151.7ZM197.3 129.1 199.4 127.7M186 144.4 187.7 141.7 189.4 139.7M186.9 143.8 188.5 141.7M240.6 3.5 239.8 6.5 237.3 11 233.1 13.5 228.1 16 224.8 18.1 221.9 19.4 218.1 17.7 216.5 16.5 217.3 14 213.1 14 211.5 16 209.8 19 207.7 20.2 206.5 20.2 206 22.3 201.5 23.5 198.5 26.9 198.1 28.5 199.4 31 199.8 33.5 196.5 34.8 193.1 36.9 189 39.4 185.6 41 182.7 41.9 184.4 44.4 183.1 46 187.3 48.5 190.6 52.7 193.1 56 195.6 60.2 196.9 64.4 197.7 69.4 197.3 73.5 195.6 77.3 192.3 79 186.5 80.2 181.5 81.9 178.1 84.8 176.9 80.2 176.5 76.9 178.1 74.8 177.7 74 179.8 73.5 178.5 69.4 176.5 64.8 175.2 64.4 179.8 64 178.5 61 176.5 58.5 174.8 58.1 172.3 58.1 169.8 59 167.3 57.3 165.6 55.6 167.3 52.7 168.5 48.5 170.6 45.2 167.3 43.5 164.8 42.7 161.5 41.6 158.1 41.9 154 43.1 150.6 44.4 148.5 46.9 146.5 49 144 50 141.5 50.6 144 48.1 145.2 46.5 143.1 45.2 143.1 43.1 145.6 40.2 148.1 39 149.4 36.9 147.7 34 144.8 33.1 142.3 32.9 139.8 35.2 136.5 38.7 133.1 40.2 130.2 41.9 128.5 45.2 126.5 46.9 123.1 47.3 120.2 46.5 118.5 48.1 117.7 51 119.4 53.5 123.1 56 126.5 58.1 127.3 61 129.4 62.7 132.3 63.1 134.8 61 136.9 59 139.8 58.1 141.5 59.8 144.8 60.6 149 61 151.5 61.7 150.2 65.2 148.1 64.4 146 65.2 142.3 66.5 139.8 67.3 138.5 70.6 135.6 71.9 132.3 74 130.2 76.9 128.5 80.6 133.1 82.3 136 83.4M280.5 4.6 278 8.7 276.8 11.2 277.6 13.7 276.8 15.4 273 14.6 270.1 14.2 270.9 17.1 268.4 19.2 266.4 21.2 267.2 24.6 268 29.2 270.9 27.5 273.9 26.2 275.9 25.4 273 23.7 270.5 22.5 270.1 20.4 273 20.8 276.4 20 280.5 19.2 284.7 21.2 290.1 24.6 290.9 20.8 294.3 17.5 297.2 15.8 300.5 16.2 303.9 14.6 308.4 12.9 305.5 12.1 303.4 10.4 304.3 7.9 302.2 8.7 298 8.3 293.9 7.5 288.9 5M305.5 9.6 310.9 5M269.7 31.7 271.8 33.3 273 29.6 276.8 29.2 278 30.8 277.6 33.7 280.1 37.1 281.4 40.4 281.8 43.7 280.9 47.1 279.7 50.4 278.9 53.3 275.9 52.9 274.7 55.4 275.1 60.4 273.9 64.6 272.6 67.1 272.2 70 273.4 72.9 272.2 75.4 270.5 78.3 267.6 80 266.4 80 267.6 77.1 267.2 75 264.7 76.2 262.6 76.7 261.8 78.7 260.5 82.5 259.3 79.2 256.4 81.2 253.9 82.1 250.1 81.7 248 80.4 246.4 79.2 245.1 81.2 246.8 84.2 243.9 86.2 241.4 89.2 239.7 91.2 237.2 90.4 235.9 87.1 235.5 82.9 237.2 80.8 231.4 80.2 226.4 81.7 221.4 82.9 217.2 84.6 213.9 85.8 210.5 86.2 207.6 86.2 207.2 84.2 208.9 82.5 212.6 80.4 216.4 77.9 220.1 75 226.4 74.2 232.2 73.6 236.8 72.9 239.3 75.4 241.8 74.6 240.9 71.7 243 68.3 245.5 65 246.4 62.1 249.3 60 248 65.8 251.8 64.6 256.4 62.9 259.7 60 260.5 57.5 263.4 55.8 264.7 53.7 266.4 50 268 46.7 268.9 42.1 268.4 37.1 268.9 33.7ZM216.4 87.1 219.7 85.4 223.9 84.6 228 83.7 231.4 84.6 232.6 86.2 231.4 89.2 228.9 92.5 226.8 90.8 224.3 90.8 222.2 92.9 220.9 96.2 218 95.4 216.4 92.9 217.2 90ZM207.6 87.5 210.5 87.9 213.9 88.7 214.7 92.1 213.4 96.2 211.8 100.4 210.9 105.4 208.4 107.9 205.9 109.2 202.2 107.9 202.2 102.1 204.3 99.2 203.9 94.6 202.2 93.3 202.6 96.2 198.9 96.2 197.6 92.5 200.1 90.4 203.9 88.7Z"/>
<path d="M0 0H537.2 V324.3 H0Z M5.4 5.4 V318.9 H531.8 V5.4Z" fill="#fff" fill-rule="evenodd"/><path d="M2.7 323H100.7M100.7 4.1H201.5M201.5 323H302.2M302.2 4.1H402.9M402.9 323H470.1M470.1 4.1H534.5M1.3 321.6V256.9M533.1 256.9V188.2M1.3 188.2V116.7M533.1 116.7V40.5M1.3 40.5V20.5M533.1 20.5V2.7" stroke="#8c8c8c" stroke-width="1.5" fill="none"/><path d="M2.7 321.3H100.7M100.7 2.4H201.5M201.5 321.3H302.2M302.2 2.4H402.9M402.9 321.3H470.1M470.1 2.4H534.5M3 321.6V256.9M534.8 256.9V188.2M3 188.2V116.7M534.8 116.7V40.5M3 40.5V20.5M534.8 20.5V2.7" stroke="#000" stroke-width="2.1" fill="none"/><path d="M0 0H537.2V324.3H0ZM5.4 5.4H531.8V318.9H5.4ZM0 0L5.4 5.4M537.2 0L531.8 5.4M0 324.3L5.4 318.9M537.2 324.3L531.8 318.9M100.7 0V5.4M100.7 318.9V324.3M201.5 0V5.4M201.5 318.9V324.3M302.2 0V5.4M302.2 318.9V324.3M402.9 0V5.4M402.9 318.9V324.3M470.1 0V5.4M470.1 318.9V324.3M0 256.9H5.4M531.8 256.9H537.2M0 188.2H5.4M531.8 188.2H537.2M0 116.7H5.4M531.8 116.7H537.2M0 40.5H5.4M531.8 40.5H537.2M0 20.5H5.4M531.8 20.5H537.2" stroke="#111" stroke-width="1.1" fill="none"/><path d="M0 -5.6V0M0 324.3V329.9M201.5 -5.6V0M201.5 324.3V329.9M402.9 -5.6V0M402.9 324.3V329.9M-5.6 324.3H0M537.2 324.3H542.8M-5.6 188.2H0M537.2 188.2H542.8M-5.6 40.5H0M537.2 40.5H542.8" stroke="#000" stroke-width="2" fill="none"/>
<path class="m" d="M89.8 175 94.9 178.1 99.5 181.1 101.5 186.2 104.5 191.2 107 196.8 109.6 202.4 110.6 207.9 111.6 212.5 115.1 216 120.2 218.5 126.3 218.5 133.4 218.5 138.4 222.1 142.5 226.1 145.5 229.7 149.5 232.2 156.6 233.4 163.7 234.2 170.8 234.7 174.8 238.3 179.9 242.3 187 243.8 192 245.4 198.1 247.9 205.2 249.4 212.3 250.2 219.4 250.9 225.4 252.4 230.5 254.5 234 256"/>
<path class="b" d="M136.4 184.7 140.4 186.7 145.5 188.7 149.5 192.2 153.1 196.3 155.1 200.8 155.1 205.9 155.6 211 157.6 215 161.7 217.5 166.7 216.5 171.8 216.5 176.9 218 181.9 219.1M137.4 186.2 142.5 188.2 147.5 191.7 150.6 195.8 152.6 200.8 153.1 205.9 154.1 211 156.6 216 160.7 218.5 165.7 218M178.9 219.6 182.9 218"/>
<text class="n" x="13" y="58.4">Nalgae</text>
<text class="n i" transform="translate(13 125.5) scale(1 1.04)">N</text><text class="n s" x="47.5" y="147.6">d</text><text class="n" transform="translate(69.5 125.5) scale(1 1.04)">=2</text>
</g>
<g transform="translate(740.2 2116.6)">
<path class="c" d="M104.8 168.7 102.3 169.3 97.3 170.2 95.6 172.7 94 172.2 91.9 169.7 90.2 173.1 88.1 170.6 86.5 174.3 81 176 77.3 177.7 73.1 178.9 69.4 179.9 68.3 181.8 70.2 184.7 69.4 186.2 66.9 186.2 65.6 183.5 65.2 178.9 63.1 178.1 61 176.8 58.1 176.4 54.8 177.1 50.6 178.9 46.5 181 43.5 183.9 41.5 186.8 39 188.9 37.7 192.2 37.1 195.4 38.5 198.1 40.6 200.6 42.3 203.5 45.6 207.2 49 210.6 54 214.3 58.1 218.9 59.8 221.4 61 225.6 61.9 229.7 62.1 234.7 61.5 239.7 60.6 243.9 60.2 246.4 54 249.7 48.1 253.5 45.2 254.1 44.4 254.7 44.8 258.1 42.7 261 38.1 262.2 33.5 266.4 32.3 262.2 32.7 258.5 33.5 256.4 31.5 256 29.4 254.3 28.5 252.7 24.8 252.9 22.3 251.4 20.2 248.9 18.5 245.2 16.9 242.7 13.5 240.2 11.9 238.9 8.1 238.9 5.6 238.1 4.8 233.9M74.4 188.2 71.5 188.1 66.5 188.2 63.1 189.3 59.8 191.4 57.7 193.5 57.3 196.8 58.1 199.3 60.6 201 64 201 67.3 199.3 70.2 196.8 71.9 193.5 73.1 191ZM4.8 277.7 9.8 278.5 12.3 281.4 16.5 284.3 20.2 287.2 23.1 291.4 23 297.2 22.7 304.7 24.8 307.2 26.9 310.6 28.5 314.7 24.8 315.2 21.5 313.5 16.5 310.6 12.3 308.5 9.8 305.6 9 302.2 4.8 298.1M4.8 309.7 8.1 309.3 10.6 311.4 13.1 312.7 15.6 314.7 18.5 316.4 21.5 318.5M59.6 318.9 60.6 313.9 63.5 311 68.1 313.1 74 313.9 76.9 305.2 83.1 304.3 86.5 302.7 89 298.9 92.3 296 95.6 292.7 98.1 291.4 103.1 291 104 288.5 107.3 285.6 109 281.8 111.9 279.7 114 277.2M138.4 198.7 141.2 198 143.7 199.2 146.6 200 148.4 199.2 150 198.7 149.4 202.7 149.2 206.2 151.2 209.1 150.5 212 148.4 214.8 145.5 217 143.9 219.1 143.7 221.6 144.7 224.5 145.5 227.3 146.6 230.2 149.1 230.5 151.2 228.7 154.1 229 157.7 230.2 161.2 231.8 159.4 233.4 160.4 235.9 161.9 237.7 159.8 237.5 157.7 235.9 156.2 233.4 154.8 232 152.8 231.2 151.6 232 152.8 233.4 152.5 236.2 151.6 237 150.2 234.5 148.7 232 146.9 230.9 144.8 231.2 143 232.3 141.9 233.4 140.2 233.7 138.9 232.3 138.9 230.5 139.8 228.7 140.9 227.3 138.9 225.4 138 225.9 136.6 225 134.8 224.1 134.1 220.5 133.4 216.2 133 215.4 134.8 214.8 136.2 216.2 136.9 212.7 137.7 208.4 136.4 205.5 137.3 202.7ZM137.3 234.5 139.8 234.1 141.9 234.8 143.7 236.2 144.4 238.7 144.1 241.2 141.9 243 140.2 240.2 138.7 237ZM130.9 248.4 132.3 252.7 129.8 255.5 126.2 258.4 121.9 263.7 119.1 266.2 116.2 268 115.5 267 118.4 263.7 122.7 260.5 126.2 257 129.1 252.7ZM164.1 240.5 166.9 240.2 169.8 239.8 171.2 242 171.6 245.5 172.3 249.1 169.1 249.8 167.7 251.2 168.7 254.1 169.4 255.5 166.9 255.9 165.5 253.4 164.1 252 164.4 249.1 166.9 247.7 168.4 245.5 167.7 243.7 165.5 243ZM146.9 244.8 150.5 245.5 151.9 247 155.2 247.3 155.9 249.8 157.7 252 159.8 252.3 161.2 249.8 161.2 252.7 161.9 254.8 163.4 256.2 164.1 258.4 161.9 259.5 160.2 258 158 259.1 156.2 260.2 156.6 262 155.2 264.1 153.4 262 151.6 259.5 150.5 258.4 152.3 257 152.7 254.1 150.5 252.7 147.7 252.3 146.9 249.8 147.7 247.7ZM170.5 259.1 172.7 259.8 175.2 262.3 176.9 264.8 177.3 268.4 178.4 272 178.7 274.8 177.7 277.7 176.2 279.8 175.5 282.3 174.4 279.8 173.7 277.3 172.7 275.5 170.9 277.7 169.8 279.5 171.6 281.6 172.7 284.1 171.6 285.9 170.5 287.3 168.4 285.9 165.5 285.2 162.7 283.4 160.9 282 160.5 279.1 161.9 277.7 161.9 275.5 160.2 274.1 158 273 156.2 274.1 154.1 274.8 153.4 273.4 151.6 273 149.8 274.1 149.1 276.6 148 279.1 147.3 277 147.3 274.1 148 271.6 149.8 270.5 152.3 269.5 154.1 267.7 155.9 266.6 157.7 266.2 159.4 267.7 160.9 269.8 162.7 268.4 165.2 267.3 166.2 264.5 168.7 264.8 170.2 263ZM112.3 279.8 114.1 277.7 116.2 279.5 118.7 280.9 119.1 283.4 118.4 285.2 122.7 287.3 126.2 288.7 129.4 290.2 125.5 291.2 121.9 292.3 123.4 293.7 124.8 294.8 120.2 295.9 119.4 299.8 117.3 302.7 118.7 306.2 120.9 308.7 119.4 310.9 121.9 313.4 125.5 315.9 128 319.1M138.9 319.1 140.2 315.9 144.8 317 149.1 317.7 154.1 318 159.1 317.7 162.7 317 165.5 315.2 167.7 313 169.8 314.5 167.7 317 165.5 319.1M183.4 319.1 184.1 314.1 185.5 310.9 187.7 309.5 188.4 312.3 187.7 314.5 189.8 315.5 191.2 314.1 193 313.7 193.2 319.1M139.5 174.5 139.9 175.1M136 83.4 137.7 88.4 139.4 94.2 140.2 97.6 143.1 98.8 145.6 100.9 146.9 103.4 143.1 104.2 145.6 106.3 147.3 108 147.7 109.7 144 110.5 140.6 112.2 136.9 114.1 139.8 114.7 143.1 113.8 146.5 115.5 148.5 116.7 147.7 122.2 145.6 122.6 144.6 127.2 145.2 128.8 142.3 129.7 140.6 130.1 138.5 134.2 136.5 138 134 140.9 131.9 140.5 132.7 144.2 131.5 147.6 128.5 150.9 126.3 152.6 125.2 155.5 122.7 155.9 121.9 158.4 116.5 162.2 111.5 165.5 108.1 167.6 104.8 168.4M144.8 150.5 146.9 151.3 147.7 154.2 146.9 158.4 145.6 162.6 144.4 166.7 141.9 170.5 140.2 174.2 139 173 137.3 170.1 135.6 166.7 135.2 162.6 136.9 158.8 139 155.1 141.5 151.7ZM197.3 129.1 199.4 127.7M186 144.4 187.7 141.7 189.4 139.7M186.9 143.8 188.5 141.7M240.6 3.5 239.8 6.5 237.3 11 233.1 13.5 228.1 16 224.8 18.1 221.9 19.4 218.1 17.7 216.5 16.5 217.3 14 213.1 14 211.5 16 209.8 19 207.7 20.2 206.5 20.2 206 22.3 201.5 23.5 198.5 26.9 198.1 28.5 199.4 31 199.8 33.5 196.5 34.8 193.1 36.9 189 39.4 185.6 41 182.7 41.9 184.4 44.4 183.1 46 187.3 48.5 190.6 52.7 193.1 56 195.6 60.2 196.9 64.4 197.7 69.4 197.3 73.5 195.6 77.3 192.3 79 186.5 80.2 181.5 81.9 178.1 84.8 176.9 80.2 176.5 76.9 178.1 74.8 177.7 74 179.8 73.5 178.5 69.4 176.5 64.8 175.2 64.4 179.8 64 178.5 61 176.5 58.5 174.8 58.1 172.3 58.1 169.8 59 167.3 57.3 165.6 55.6 167.3 52.7 168.5 48.5 170.6 45.2 167.3 43.5 164.8 42.7 161.5 41.6 158.1 41.9 154 43.1 150.6 44.4 148.5 46.9 146.5 49 144 50 141.5 50.6 144 48.1 145.2 46.5 143.1 45.2 143.1 43.1 145.6 40.2 148.1 39 149.4 36.9 147.7 34 144.8 33.1 142.3 32.9 139.8 35.2 136.5 38.7 133.1 40.2 130.2 41.9 128.5 45.2 126.5 46.9 123.1 47.3 120.2 46.5 118.5 48.1 117.7 51 119.4 53.5 123.1 56 126.5 58.1 127.3 61 129.4 62.7 132.3 63.1 134.8 61 136.9 59 139.8 58.1 141.5 59.8 144.8 60.6 149 61 151.5 61.7 150.2 65.2 148.1 64.4 146 65.2 142.3 66.5 139.8 67.3 138.5 70.6 135.6 71.9 132.3 74 130.2 76.9 128.5 80.6 133.1 82.3 136 83.4M280.5 4.6 278 8.7 276.8 11.2 277.6 13.7 276.8 15.4 273 14.6 270.1 14.2 270.9 17.1 268.4 19.2 266.4 21.2 267.2 24.6 268 29.2 270.9 27.5 273.9 26.2 275.9 25.4 273 23.7 270.5 22.5 270.1 20.4 273 20.8 276.4 20 280.5 19.2 284.7 21.2 290.1 24.6 290.9 20.8 294.3 17.5 297.2 15.8 300.5 16.2 303.9 14.6 308.4 12.9 305.5 12.1 303.4 10.4 304.3 7.9 302.2 8.7 298 8.3 293.9 7.5 288.9 5M305.5 9.6 310.9 5M269.7 31.7 271.8 33.3 273 29.6 276.8 29.2 278 30.8 277.6 33.7 280.1 37.1 281.4 40.4 281.8 43.7 280.9 47.1 279.7 50.4 278.9 53.3 275.9 52.9 274.7 55.4 275.1 60.4 273.9 64.6 272.6 67.1 272.2 70 273.4 72.9 272.2 75.4 270.5 78.3 267.6 80 266.4 80 267.6 77.1 267.2 75 264.7 76.2 262.6 76.7 261.8 78.7 260.5 82.5 259.3 79.2 256.4 81.2 253.9 82.1 250.1 81.7 248 80.4 246.4 79.2 245.1 81.2 246.8 84.2 243.9 86.2 241.4 89.2 239.7 91.2 237.2 90.4 235.9 87.1 235.5 82.9 237.2 80.8 231.4 80.2 226.4 81.7 221.4 82.9 217.2 84.6 213.9 85.8 210.5 86.2 207.6 86.2 207.2 84.2 208.9 82.5 212.6 80.4 216.4 77.9 220.1 75 226.4 74.2 232.2 73.6 236.8 72.9 239.3 75.4 241.8 74.6 240.9 71.7 243 68.3 245.5 65 246.4 62.1 249.3 60 248 65.8 251.8 64.6 256.4 62.9 259.7 60 260.5 57.5 263.4 55.8 264.7 53.7 266.4 50 268 46.7 268.9 42.1 268.4 37.1 268.9 33.7ZM216.4 87.1 219.7 85.4 223.9 84.6 228 83.7 231.4 84.6 232.6 86.2 231.4 89.2 228.9 92.5 226.8 90.8 224.3 90.8 222.2 92.9 220.9 96.2 218 95.4 216.4 92.9 217.2 90ZM207.6 87.5 210.5 87.9 213.9 88.7 214.7 92.1 213.4 96.2 211.8 100.4 210.9 105.4 208.4 107.9 205.9 109.2 202.2 107.9 202.2 102.1 204.3 99.2 203.9 94.6 202.2 93.3 202.6 96.2 198.9 96.2 197.6 92.5 200.1 90.4 203.9 88.7Z"/>
<path d="M0 0H537.2 V324.3 H0Z M5.4 5.4 V318.9 H531.8 V5.4Z" fill="#fff" fill-rule="evenodd"/><path d="M2.7 323H100.7M100.7 4.1H201.5M201.5 323H302.2M302.2 4.1H402.9M402.9 323H470.1M470.1 4.1H534.5M1.3 321.6V256.9M533.1 256.9V188.2M1.3 188.2V116.7M533.1 116.7V40.5M1.3 40.5V20.5M533.1 20.5V2.7" stroke="#8c8c8c" stroke-width="1.5" fill="none"/><path d="M2.7 321.3H100.7M100.7 2.4H201.5M201.5 321.3H302.2M302.2 2.4H402.9M402.9 321.3H470.1M470.1 2.4H534.5M3 321.6V256.9M534.8 256.9V188.2M3 188.2V116.7M534.8 116.7V40.5M3 40.5V20.5M534.8 20.5V2.7" stroke="#000" stroke-width="2.1" fill="none"/><path d="M0 0H537.2V324.3H0ZM5.4 5.4H531.8V318.9H5.4ZM0 0L5.4 5.4M537.2 0L531.8 5.4M0 324.3L5.4 318.9M537.2 324.3L531.8 318.9M100.7 0V5.4M100.7 318.9V324.3M201.5 0V5.4M201.5 318.9V324.3M302.2 0V5.4M302.2 318.9V324.3M402.9 0V5.4M402.9 318.9V324.3M470.1 0V5.4M470.1 318.9V324.3M0 256.9H5.4M531.8 256.9H537.2M0 188.2H5.4M531.8 188.2H537.2M0 116.7H5.4M531.8 116.7H537.2M0 40.5H5.4M531.8 40.5H537.2M0 20.5H5.4M531.8 20.5H537.2" stroke="#111" stroke-width="1.1" fill="none"/><path d="M0 -5.6V0M0 324.3V329.9M201.5 -5.6V0M201.5 324.3V329.9M402.9 -5.6V0M402.9 324.3V329.9M-5.6 324.3H0M537.2 324.3H542.8M-5.6 188.2H0M537.2 188.2H542.8M-5.6 40.5H0M537.2 40.5H542.8" stroke="#000" stroke-width="2" fill="none"/>
<path class="m" d="M456.4 125.2 454.8 129.8 452.2 135.1 449.6 140.3 446.9 145.5 444.3 150.8 442.4 155.4 440.4 159.3 439.7 161.3 441 165.2 442.7 169.1 442.4 173 440.7 177 439.4 180.9 439.6 184.2 441.7 186.1 445.6 187.4 449.6 188.8 451.5 189.7"/>
<path class="b" d="M483 115.8 485.6 114.8 488.2 114.4 490.5 115.1M483.6 117.4 486.2 116.4M445.6 125.9 448.3 127.2 450.9 128.2 454.1 127.9 456.8 127.2 459.4 128.5M446.9 127.9 449.6 129.5M451.5 136.7 448.3 137.4 445 137.7 442.4 139.3 441.7 142.3 442.4 145.5 445 147.2 446.3 146.9M425 137.7 425.3 140.3 427.3 142.9 429.9 145.5 432.5 148.2 435.2 150.8 437.8 153.4 439.7 155.4M410.9 150.1 414.2 150.1 417.5 151.4 420.1 152.7 422.7 153.4 423.4 156 422.1 157.3 418.8 157.7 415.5 158.3 412.2 159.3 410.9 160.3M422.1 157.3 421.1 161.3 420.8 165.2 421.4 168.5 422.7 171.1 424 172.4M492.1 143.6 488.8 142.9 484.9 142.6 481 142.9 479 144.9 479.7 147.5 482.3 149.5 485.6 151.4 488.8 153.4 490.8 154.1M479 149.5 475.1 150.1 471.8 150.8 469.9 152.7 469.2 155.4 471.2 155M488.2 144.2 487.5 148.2 486.9 151.4M481.6 145.5 484.3 147.5"/>
<text class="n" x="13" y="58.4">Yamaneko</text>
<text class="n i" transform="translate(13 125.5) scale(1 1.04)">N</text><text class="n s" x="47.5" y="147.6">d</text><text class="n" transform="translate(69.5 125.5) scale(1 1.04)">=8</text>
</g>
<g transform="translate(1353.1 2116.6)">
<path class="c" d="M104.8 168.7 102.3 169.3 97.3 170.2 95.6 172.7 94 172.2 91.9 169.7 90.2 173.1 88.1 170.6 86.5 174.3 81 176 77.3 177.7 73.1 178.9 69.4 179.9 68.3 181.8 70.2 184.7 69.4 186.2 66.9 186.2 65.6 183.5 65.2 178.9 63.1 178.1 61 176.8 58.1 176.4 54.8 177.1 50.6 178.9 46.5 181 43.5 183.9 41.5 186.8 39 188.9 37.7 192.2 37.1 195.4 38.5 198.1 40.6 200.6 42.3 203.5 45.6 207.2 49 210.6 54 214.3 58.1 218.9 59.8 221.4 61 225.6 61.9 229.7 62.1 234.7 61.5 239.7 60.6 243.9 60.2 246.4 54 249.7 48.1 253.5 45.2 254.1 44.4 254.7 44.8 258.1 42.7 261 38.1 262.2 33.5 266.4 32.3 262.2 32.7 258.5 33.5 256.4 31.5 256 29.4 254.3 28.5 252.7 24.8 252.9 22.3 251.4 20.2 248.9 18.5 245.2 16.9 242.7 13.5 240.2 11.9 238.9 8.1 238.9 5.6 238.1 4.8 233.9M74.4 188.2 71.5 188.1 66.5 188.2 63.1 189.3 59.8 191.4 57.7 193.5 57.3 196.8 58.1 199.3 60.6 201 64 201 67.3 199.3 70.2 196.8 71.9 193.5 73.1 191ZM4.8 277.7 9.8 278.5 12.3 281.4 16.5 284.3 20.2 287.2 23.1 291.4 23 297.2 22.7 304.7 24.8 307.2 26.9 310.6 28.5 314.7 24.8 315.2 21.5 313.5 16.5 310.6 12.3 308.5 9.8 305.6 9 302.2 4.8 298.1M4.8 309.7 8.1 309.3 10.6 311.4 13.1 312.7 15.6 314.7 18.5 316.4 21.5 318.5M59.6 318.9 60.6 313.9 63.5 311 68.1 313.1 74 313.9 76.9 305.2 83.1 304.3 86.5 302.7 89 298.9 92.3 296 95.6 292.7 98.1 291.4 103.1 291 104 288.5 107.3 285.6 109 281.8 111.9 279.7 114 277.2M138.4 198.7 141.2 198 143.7 199.2 146.6 200 148.4 199.2 150 198.7 149.4 202.7 149.2 206.2 151.2 209.1 150.5 212 148.4 214.8 145.5 217 143.9 219.1 143.7 221.6 144.7 224.5 145.5 227.3 146.6 230.2 149.1 230.5 151.2 228.7 154.1 229 157.7 230.2 161.2 231.8 159.4 233.4 160.4 235.9 161.9 237.7 159.8 237.5 157.7 235.9 156.2 233.4 154.8 232 152.8 231.2 151.6 232 152.8 233.4 152.5 236.2 151.6 237 150.2 234.5 148.7 232 146.9 230.9 144.8 231.2 143 232.3 141.9 233.4 140.2 233.7 138.9 232.3 138.9 230.5 139.8 228.7 140.9 227.3 138.9 225.4 138 225.9 136.6 225 134.8 224.1 134.1 220.5 133.4 216.2 133 215.4 134.8 214.8 136.2 216.2 136.9 212.7 137.7 208.4 136.4 205.5 137.3 202.7ZM137.3 234.5 139.8 234.1 141.9 234.8 143.7 236.2 144.4 238.7 144.1 241.2 141.9 243 140.2 240.2 138.7 237ZM130.9 248.4 132.3 252.7 129.8 255.5 126.2 258.4 121.9 263.7 119.1 266.2 116.2 268 115.5 267 118.4 263.7 122.7 260.5 126.2 257 129.1 252.7ZM164.1 240.5 166.9 240.2 169.8 239.8 171.2 242 171.6 245.5 172.3 249.1 169.1 249.8 167.7 251.2 168.7 254.1 169.4 255.5 166.9 255.9 165.5 253.4 164.1 252 164.4 249.1 166.9 247.7 168.4 245.5 167.7 243.7 165.5 243ZM146.9 244.8 150.5 245.5 151.9 247 155.2 247.3 155.9 249.8 157.7 252 159.8 252.3 161.2 249.8 161.2 252.7 161.9 254.8 163.4 256.2 164.1 258.4 161.9 259.5 160.2 258 158 259.1 156.2 260.2 156.6 262 155.2 264.1 153.4 262 151.6 259.5 150.5 258.4 152.3 257 152.7 254.1 150.5 252.7 147.7 252.3 146.9 249.8 147.7 247.7ZM170.5 259.1 172.7 259.8 175.2 262.3 176.9 264.8 177.3 268.4 178.4 272 178.7 274.8 177.7 277.7 176.2 279.8 175.5 282.3 174.4 279.8 173.7 277.3 172.7 275.5 170.9 277.7 169.8 279.5 171.6 281.6 172.7 284.1 171.6 285.9 170.5 287.3 168.4 285.9 165.5 285.2 162.7 283.4 160.9 282 160.5 279.1 161.9 277.7 161.9 275.5 160.2 274.1 158 273 156.2 274.1 154.1 274.8 153.4 273.4 151.6 273 149.8 274.1 149.1 276.6 148 279.1 147.3 277 147.3 274.1 148 271.6 149.8 270.5 152.3 269.5 154.1 267.7 155.9 266.6 157.7 266.2 159.4 267.7 160.9 269.8 162.7 268.4 165.2 267.3 166.2 264.5 168.7 264.8 170.2 263ZM112.3 279.8 114.1 277.7 116.2 279.5 118.7 280.9 119.1 283.4 118.4 285.2 122.7 287.3 126.2 288.7 129.4 290.2 125.5 291.2 121.9 292.3 123.4 293.7 124.8 294.8 120.2 295.9 119.4 299.8 117.3 302.7 118.7 306.2 120.9 308.7 119.4 310.9 121.9 313.4 125.5 315.9 128 319.1M138.9 319.1 140.2 315.9 144.8 317 149.1 317.7 154.1 318 159.1 317.7 162.7 317 165.5 315.2 167.7 313 169.8 314.5 167.7 317 165.5 319.1M183.4 319.1 184.1 314.1 185.5 310.9 187.7 309.5 188.4 312.3 187.7 314.5 189.8 315.5 191.2 314.1 193 313.7 193.2 319.1M139.5 174.5 139.9 175.1M136 83.4 137.7 88.4 139.4 94.2 140.2 97.6 143.1 98.8 145.6 100.9 146.9 103.4 143.1 104.2 145.6 106.3 147.3 108 147.7 109.7 144 110.5 140.6 112.2 136.9 114.1 139.8 114.7 143.1 113.8 146.5 115.5 148.5 116.7 147.7 122.2 145.6 122.6 144.6 127.2 145.2 128.8 142.3 129.7 140.6 130.1 138.5 134.2 136.5 138 134 140.9 131.9 140.5 132.7 144.2 131.5 147.6 128.5 150.9 126.3 152.6 125.2 155.5 122.7 155.9 121.9 158.4 116.5 162.2 111.5 165.5 108.1 167.6 104.8 168.4M144.8 150.5 146.9 151.3 147.7 154.2 146.9 158.4 145.6 162.6 144.4 166.7 141.9 170.5 140.2 174.2 139 173 137.3 170.1 135.6 166.7 135.2 162.6 136.9 158.8 139 155.1 141.5 151.7ZM197.3 129.1 199.4 127.7M186 144.4 187.7 141.7 189.4 139.7M186.9 143.8 188.5 141.7M240.6 3.5 239.8 6.5 237.3 11 233.1 13.5 228.1 16 224.8 18.1 221.9 19.4 218.1 17.7 216.5 16.5 217.3 14 213.1 14 211.5 16 209.8 19 207.7 20.2 206.5 20.2 206 22.3 201.5 23.5 198.5 26.9 198.1 28.5 199.4 31 199.8 33.5 196.5 34.8 193.1 36.9 189 39.4 185.6 41 182.7 41.9 184.4 44.4 183.1 46 187.3 48.5 190.6 52.7 193.1 56 195.6 60.2 196.9 64.4 197.7 69.4 197.3 73.5 195.6 77.3 192.3 79 186.5 80.2 181.5 81.9 178.1 84.8 176.9 80.2 176.5 76.9 178.1 74.8 177.7 74 179.8 73.5 178.5 69.4 176.5 64.8 175.2 64.4 179.8 64 178.5 61 176.5 58.5 174.8 58.1 172.3 58.1 169.8 59 167.3 57.3 165.6 55.6 167.3 52.7 168.5 48.5 170.6 45.2 167.3 43.5 164.8 42.7 161.5 41.6 158.1 41.9 154 43.1 150.6 44.4 148.5 46.9 146.5 49 144 50 141.5 50.6 144 48.1 145.2 46.5 143.1 45.2 143.1 43.1 145.6 40.2 148.1 39 149.4 36.9 147.7 34 144.8 33.1 142.3 32.9 139.8 35.2 136.5 38.7 133.1 40.2 130.2 41.9 128.5 45.2 126.5 46.9 123.1 47.3 120.2 46.5 118.5 48.1 117.7 51 119.4 53.5 123.1 56 126.5 58.1 127.3 61 129.4 62.7 132.3 63.1 134.8 61 136.9 59 139.8 58.1 141.5 59.8 144.8 60.6 149 61 151.5 61.7 150.2 65.2 148.1 64.4 146 65.2 142.3 66.5 139.8 67.3 138.5 70.6 135.6 71.9 132.3 74 130.2 76.9 128.5 80.6 133.1 82.3 136 83.4M280.5 4.6 278 8.7 276.8 11.2 277.6 13.7 276.8 15.4 273 14.6 270.1 14.2 270.9 17.1 268.4 19.2 266.4 21.2 267.2 24.6 268 29.2 270.9 27.5 273.9 26.2 275.9 25.4 273 23.7 270.5 22.5 270.1 20.4 273 20.8 276.4 20 280.5 19.2 284.7 21.2 290.1 24.6 290.9 20.8 294.3 17.5 297.2 15.8 300.5 16.2 303.9 14.6 308.4 12.9 305.5 12.1 303.4 10.4 304.3 7.9 302.2 8.7 298 8.3 293.9 7.5 288.9 5M305.5 9.6 310.9 5M269.7 31.7 271.8 33.3 273 29.6 276.8 29.2 278 30.8 277.6 33.7 280.1 37.1 281.4 40.4 281.8 43.7 280.9 47.1 279.7 50.4 278.9 53.3 275.9 52.9 274.7 55.4 275.1 60.4 273.9 64.6 272.6 67.1 272.2 70 273.4 72.9 272.2 75.4 270.5 78.3 267.6 80 266.4 80 267.6 77.1 267.2 75 264.7 76.2 262.6 76.7 261.8 78.7 260.5 82.5 259.3 79.2 256.4 81.2 253.9 82.1 250.1 81.7 248 80.4 246.4 79.2 245.1 81.2 246.8 84.2 243.9 86.2 241.4 89.2 239.7 91.2 237.2 90.4 235.9 87.1 235.5 82.9 237.2 80.8 231.4 80.2 226.4 81.7 221.4 82.9 217.2 84.6 213.9 85.8 210.5 86.2 207.6 86.2 207.2 84.2 208.9 82.5 212.6 80.4 216.4 77.9 220.1 75 226.4 74.2 232.2 73.6 236.8 72.9 239.3 75.4 241.8 74.6 240.9 71.7 243 68.3 245.5 65 246.4 62.1 249.3 60 248 65.8 251.8 64.6 256.4 62.9 259.7 60 260.5 57.5 263.4 55.8 264.7 53.7 266.4 50 268 46.7 268.9 42.1 268.4 37.1 268.9 33.7ZM216.4 87.1 219.7 85.4 223.9 84.6 228 83.7 231.4 84.6 232.6 86.2 231.4 89.2 228.9 92.5 226.8 90.8 224.3 90.8 222.2 92.9 220.9 96.2 218 95.4 216.4 92.9 217.2 90ZM207.6 87.5 210.5 87.9 213.9 88.7 214.7 92.1 213.4 96.2 211.8 100.4 210.9 105.4 208.4 107.9 205.9 109.2 202.2 107.9 202.2 102.1 204.3 99.2 203.9 94.6 202.2 93.3 202.6 96.2 198.9 96.2 197.6 92.5 200.1 90.4 203.9 88.7Z"/>
<path d="M0 0H537.2 V324.3 H0Z M5.4 5.4 V318.9 H531.8 V5.4Z" fill="#fff" fill-rule="evenodd"/><path d="M2.7 323H100.7M100.7 4.1H201.5M201.5 323H302.2M302.2 4.1H402.9M402.9 323H470.1M470.1 4.1H534.5M1.3 321.6V256.9M533.1 256.9V188.2M1.3 188.2V116.7M533.1 116.7V40.5M1.3 40.5V20.5M533.1 20.5V2.7" stroke="#8c8c8c" stroke-width="1.5" fill="none"/><path d="M2.7 321.3H100.7M100.7 2.4H201.5M201.5 321.3H302.2M302.2 2.4H402.9M402.9 321.3H470.1M470.1 2.4H534.5M3 321.6V256.9M534.8 256.9V188.2M3 188.2V116.7M534.8 116.7V40.5M3 40.5V20.5M534.8 20.5V2.7" stroke="#000" stroke-width="2.1" fill="none"/><path d="M0 0H537.2V324.3H0ZM5.4 5.4H531.8V318.9H5.4ZM0 0L5.4 5.4M537.2 0L531.8 5.4M0 324.3L5.4 318.9M537.2 324.3L531.8 318.9M100.7 0V5.4M100.7 318.9V324.3M201.5 0V5.4M201.5 318.9V324.3M302.2 0V5.4M302.2 318.9V324.3M402.9 0V5.4M402.9 318.9V324.3M470.1 0V5.4M470.1 318.9V324.3M0 256.9H5.4M531.8 256.9H537.2M0 188.2H5.4M531.8 188.2H537.2M0 116.7H5.4M531.8 116.7H537.2M0 40.5H5.4M531.8 40.5H537.2M0 20.5H5.4M531.8 20.5H537.2" stroke="#111" stroke-width="1.1" fill="none"/><path d="M0 -5.6V0M0 324.3V329.9M201.5 -5.6V0M201.5 324.3V329.9M402.9 -5.6V0M402.9 324.3V329.9M-5.6 324.3H0M537.2 324.3H542.8M-5.6 188.2H0M537.2 188.2H542.8M-5.6 40.5H0M537.2 40.5H542.8" stroke="#000" stroke-width="2" fill="none"/>
<path class="m" d="M211.1 184.7 206.1 185.1 201.1 185.9 196.1 187.2 191.9 190.1 186.9 194.2 181.1 199.2 175.2 203.4 169.4 207.6 165.2 211.7 161.9 215.9 160.7 220.1 161.1 223.4 163.6 226.7 166.1 229.2"/>
<path class="b" d="M206.9 185.9 201.9 189.2 197.7 191.7 193.6 194.2 189.4 195.9 185.2 196.7 182.7 197.6 186.9 199.2 190.2 198.4M201.9 188.4 200.2 192.6M181.9 204.2 178.6 205.1 175.2 207.6 173.6 210.9 171.9 214.2 168.6 215.1 165.2 216.7 161.9 217.6 157.7 217.6 155.2 220.1 152.7 223.4 151.9 225.5M175.2 219.2 178.6 215.9 182.7 213 187.7 210.9 192.7 209.7 197.7 208.8 202.7 207.2 205.2 206.7 206.9 208.8 211.1 209.2M175.7 229.7 178.6 225.1 181.9 221.7 185.2 219.2 189.4 217.6 193.6 218 196.1 220.1 199.4 220.9 199.8 218.8M170.1 177 169.8 173.4 169 169.8 170.1 166.3 172.6 163.4 176.2 161.3 179.8 160.2 183.3 161.3 186.9 160.5 190.5 159.1 194 157.3 197.6 155.2 201.2 153.4 204.8 153 208 152.7M223.7 151.3 221.2 153.4 217.6 154.8 214 156.3 210.5 158.4 206.9 160.5 203.3 162 200.5 164.1 199 167.7 199.4 171.3 199.8 173.4M201.2 154.8 204.8 157 208.3 159.1 211.9 161.3M202.6 164.1 206.9 164.8 211.2 165.5 215.5 166.3 216.9 167.7M233.7 152 232.6 155.5 229.8 158.4 226.9 161.3 224 163.8 220.5 165.5 216.9 167M215.5 157.7 219 159.1 216.9 162M231.2 183.4 227.6 183 224 181.3 222.6 178.4 224.8 175.5 228.3 173.4 232.6 171.6 236.9 171.3 239.8 173 240.1 176.3 237.6 179.1 234 180.5 229.8 180.9 227.6 179.1M208.3 175.5 208.3 179.8 209 184.1 210.5 187.7 211.5 191.3 210.5 194.1 208.3 194.8 206.2 192.7"/>
<text class="n" x="13" y="58.4">Pakhar</text>
<text class="n i" transform="translate(13 125.5) scale(1 1.04)">N</text><text class="n s" x="47.5" y="147.6">d</text><text class="n" transform="translate(69.5 125.5) scale(1 1.04)">=13</text>
</g>
<text text-anchor="end" transform="translate(107.1 69.5) scale(1 1.04)">40°N</text>
<text text-anchor="end" transform="translate(107.1 217.2) scale(1 1.04)">20°N</text>
<text text-anchor="end" transform="translate(93.9 353.3) scale(1 1.04)">0°</text>
<text text-anchor="end" transform="translate(107.1 421.4) scale(1 1.04)">40°N</text>
<text text-anchor="end" transform="translate(107.1 569.1) scale(1 1.04)">20°N</text>
<text text-anchor="end" transform="translate(93.9 705.2) scale(1 1.04)">0°</text>
<text text-anchor="end" transform="translate(107.1 769.6) scale(1 1.04)">40°N</text>
<text text-anchor="end" transform="translate(107.1 917.3) scale(1 1.04)">20°N</text>
<text text-anchor="end" transform="translate(93.9 1053.4) scale(1 1.04)">0°</text>
<text text-anchor="end" transform="translate(107.1 1120.9) scale(1 1.04)">40°N</text>
<text text-anchor="end" transform="translate(107.1 1268.6) scale(1 1.04)">20°N</text>
<text text-anchor="end" transform="translate(93.9 1404.7) scale(1 1.04)">0°</text>
<text text-anchor="end" transform="translate(107.1 1472) scale(1 1.04)">40°N</text>
<text text-anchor="end" transform="translate(107.1 1619.7) scale(1 1.04)">20°N</text>
<text text-anchor="end" transform="translate(93.9 1755.8) scale(1 1.04)">0°</text>
<text text-anchor="end" transform="translate(107.1 1823.4) scale(1 1.04)">40°N</text>
<text text-anchor="end" transform="translate(107.1 1971.1) scale(1 1.04)">20°N</text>
<text text-anchor="end" transform="translate(93.9 2107.2) scale(1 1.04)">0°</text>
<text text-anchor="end" transform="translate(107.1 2174.8) scale(1 1.04)">40°N</text>
<text text-anchor="end" transform="translate(107.1 2322.5) scale(1 1.04)">20°N</text>
<text text-anchor="end" transform="translate(93.9 2458.6) scale(1 1.04)">0°</text>
<text text-anchor="middle" transform="translate(126.3 2492.3) scale(1 1.04)">100°E</text>
<text text-anchor="middle" transform="translate(327.8 2492.3) scale(1 1.04)">130°E</text>
<text text-anchor="middle" transform="translate(529.2 2492.3) scale(1 1.04)">160°E</text>
<text text-anchor="middle" transform="translate(739.2 2492.3) scale(1 1.04)">100°E</text>
<text text-anchor="middle" transform="translate(940.7 2492.3) scale(1 1.04)">130°E</text>
<text text-anchor="middle" transform="translate(1142.1 2492.3) scale(1 1.04)">160°E</text>
<text text-anchor="middle" transform="translate(1352.1 2492.3) scale(1 1.04)">100°E</text>
<text text-anchor="middle" transform="translate(1553.5 2492.3) scale(1 1.04)">130°E</text>
<text text-anchor="middle" transform="translate(1755 2492.3) scale(1 1.04)">160°E</text>
</svg>
</body></html>
